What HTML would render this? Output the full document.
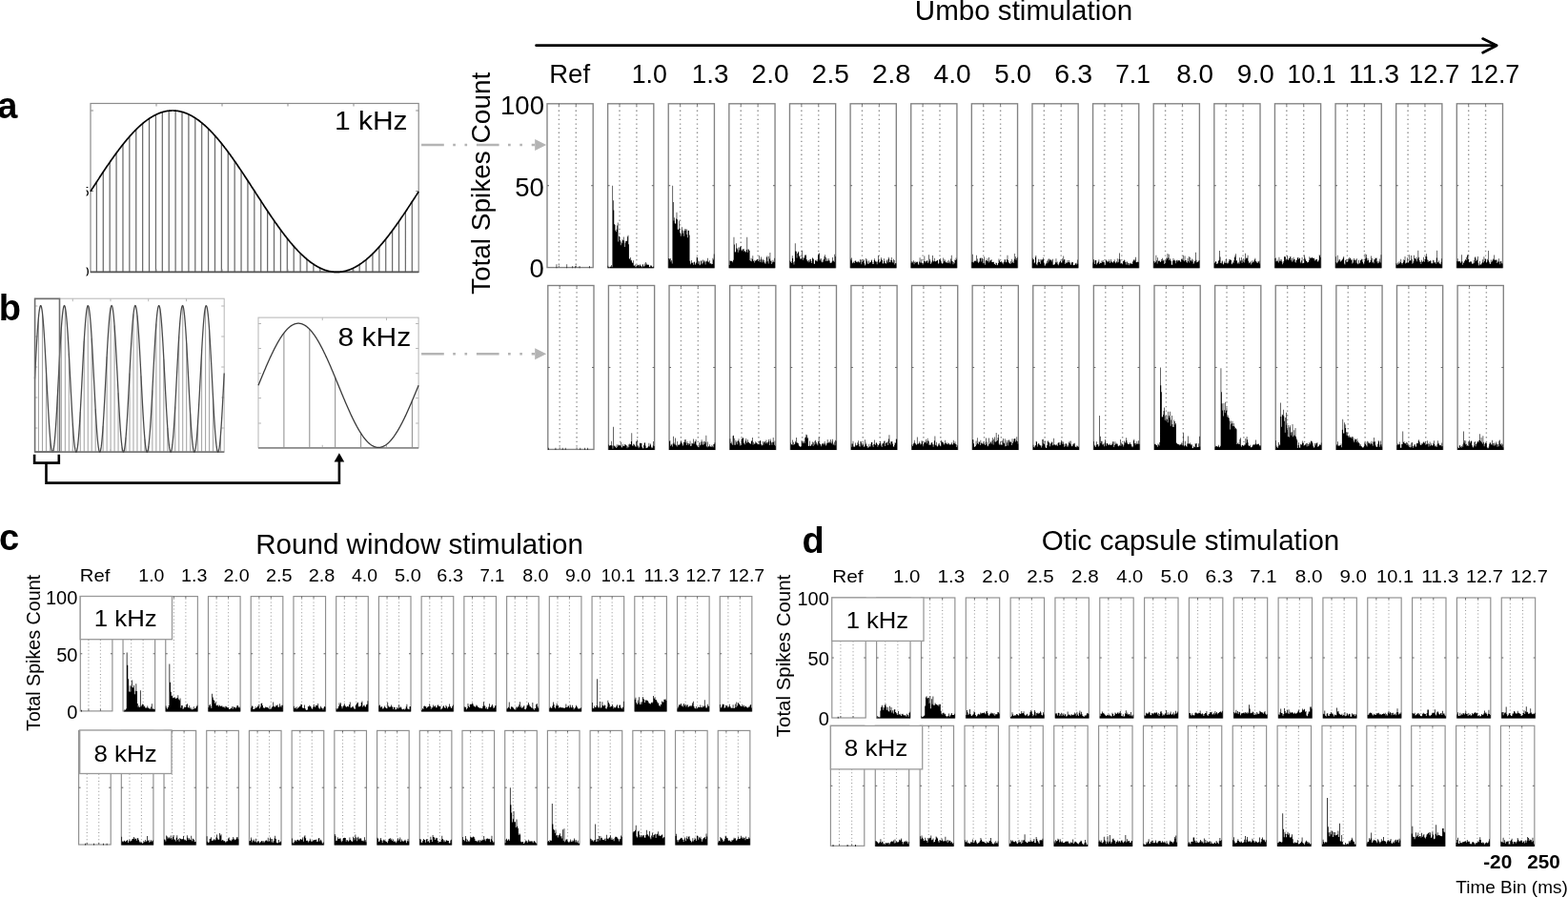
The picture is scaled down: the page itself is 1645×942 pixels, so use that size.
<!DOCTYPE html>
<html><head><meta charset="utf-8"><title>Figure</title>
<style>html,body{margin:0;padding:0;background:#fff;overflow:hidden}svg{display:block}</style>
</head><body>
<svg width="1645" height="942" viewBox="0 0 1645 942"><rect x="0" y="0" width="1645" height="942" fill="#fff"/>
<line x1="586.39" y1="111" x2="586.39" y2="279.6" stroke="#8e8e8e" stroke-width="1.4" stroke-dasharray="1.3 3.3"/>
<line x1="604.27" y1="111" x2="604.27" y2="279.6" stroke="#8e8e8e" stroke-width="1.4" stroke-dasharray="1.3 3.3"/>
<rect x="574" y="108.8" width="48.2" height="171.8" fill="none" stroke="#828282" stroke-width="1.35"/>
<path d="M574 194.7h2 M622.2 194.7h-2 M586.39 108.8v2 M586.39 280.6v-2 M604.27 108.8v2 M604.27 280.6v-2 " stroke="#666" stroke-width="1"/>
<path d="M574 281.2V281.2H574.6V281.2H575.21V281.2H575.81V281.2H576.41V281.2H577.01V281.2H577.62V281.2H578.22V281.2H578.82V281.2H579.42V281.2H580.02V281.2H580.63V281.2H581.23V281.2H581.83V281.2H582.43V281.2H583.04V281.2H583.64V277.16H584.24V281.2H584.85V281.2H585.45V281.2H586.05V281.2H586.65V281.2H587.25V281.2H587.86V281.2H588.46V281.2H589.06V281.2H589.66V281.2H590.27V281.2H590.87V281.2H591.47V281.2H592.08V281.2H592.68V281.2H593.28V281.2H593.88V281.2H594.49V277.16H595.09V281.2H595.69V281.2H596.29V281.2H596.89V281.2H597.5V281.2H598.1V281.2H598.7V281.2H599.3V281.2H599.91V281.2H600.51V278.88H601.11V281.2H601.72V281.2H602.32V281.2H602.92V281.2H603.52V278.88H604.12V281.2H604.73V281.2H605.33V281.2H605.93V281.2H606.53V281.2H607.14V281.2H607.74V278.88H608.34V281.2H608.95V281.2H609.55V281.2H610.15V281.2H610.75V281.2H611.36V281.2H611.96V281.2H612.56V281.2H613.16V281.2H613.76V281.2H614.37V281.2H614.97V281.2H615.57V281.2H616.17V281.2H616.78V281.2H617.38V281.2H617.98V278.88H618.59V281.2H619.19V281.2H619.79V281.2H620.39V281.2H621V281.2H621.6V281.2H622.2V281.2Z" fill="#000"/>
<line x1="587.19" y1="301.7" x2="587.19" y2="470.4" stroke="#8e8e8e" stroke-width="1.4" stroke-dasharray="1.3 3.3"/>
<line x1="605.07" y1="301.7" x2="605.07" y2="470.4" stroke="#8e8e8e" stroke-width="1.4" stroke-dasharray="1.3 3.3"/>
<rect x="574.8" y="299.5" width="48.2" height="171.9" fill="none" stroke="#828282" stroke-width="1.35"/>
<path d="M574.8 385.45h2 M623 385.45h-2 M587.19 299.5v2 M587.19 471.4v-2 M605.07 299.5v2 M605.07 471.4v-2 " stroke="#666" stroke-width="1"/>
<path d="M574.8 472V472H575.4V469.68H576V472H576.61V472H577.21V472H577.81V472H578.41V472H579.02V472H579.62V472H580.22V472H580.82V472H581.43V472H582.03V472H582.63V469.68H583.23V472H583.84V472H584.44V472H585.04V472H585.64V472H586.25V472H586.85V472H587.45V472H588.05V472H588.66V472H589.26V472H589.86V469.68H590.46V472H591.07V472H591.67V472H592.27V472H592.88V469.68H593.48V472H594.08V472H594.68V472H595.28V472H595.89V472H596.49V472H597.09V472H597.69V472H598.3V472H598.9V472H599.5V472H600.1V472H600.71V472H601.31V472H601.91V472H602.51V472H603.12V472H603.72V472H604.32V472H604.92V472H605.53V472H606.13V472H606.73V472H607.33V472H607.94V472H608.54V469.68H609.14V472H609.75V472H610.35V472H610.95V472H611.55V472H612.15V472H612.76V472H613.36V469.68H613.96V472H614.56V472H615.17V472H615.77V472H616.37V469.68H616.97V472H617.58V472H618.18V472H618.78V472H619.38V472H619.99V472H620.59V472H621.19V472H621.79V472H622.4V472H623V472Z" fill="#000"/>
<line x1="650.01" y1="111" x2="650.01" y2="279.6" stroke="#8e8e8e" stroke-width="1.4" stroke-dasharray="1.3 3.3"/>
<line x1="667.89" y1="111" x2="667.89" y2="279.6" stroke="#8e8e8e" stroke-width="1.4" stroke-dasharray="1.3 3.3"/>
<rect x="637.62" y="108.8" width="48.2" height="171.8" fill="none" stroke="#828282" stroke-width="1.35"/>
<path d="M637.62 194.7h2 M685.82 194.7h-2 M650.01 108.8v2 M650.01 280.6v-2 M667.89 108.8v2 M667.89 280.6v-2 " stroke="#666" stroke-width="1"/>
<path d="M637.62 281.2V278.79H638.22V280.14H638.83V281.2H639.43V280.21H640.03V279.83H640.63V279.46H641.24V278.09H641.84V280.25H642.44V194.7H643.04V210.16H643.64V220.47H644.25V234.96H644.85V235.99H645.45V241.77H646.05V243.31H646.66V240.72H647.26V236.41H647.86V233.43H648.47V253.4H649.07V247.5H649.67V248.23H650.27V251.64H650.88V257.19H651.48V253.48H652.08V255.15H652.68V251.13H653.28V252.33H653.89V248.39H654.49V252.48H655.09V259.09H655.7V254.65H656.3V252.91H656.9V252.7H657.5V252.83H658.11V248.19H658.71V246.82H659.31V256.21H659.91V271.25H660.51V271.75H661.12V269.92H661.72V273.53H662.32V272.8H662.92V275.19H663.53V276H664.13V273.22H664.73V278.52H665.34V278.74H665.94V277.62H666.54V280.18H667.14V280.18H667.75V278.41H668.35V278.82H668.95V277.85H669.55V278.03H670.15V279.41H670.76V277.63H671.36V277.61H671.96V279.06H672.57V279.58H673.17V280.38H673.77V278.19H674.37V276.88H674.98V280.04H675.58V279.03H676.18V276.46H676.78V278.39H677.38V274.95H677.99V276.53H678.59V277.87H679.19V277.74H679.79V277.68H680.4V277.85H681V279.88H681.6V280.48H682.21V278.45H682.81V278.35H683.41V279.18H684.01V280.51H684.62V280.04H685.22V279.4H685.82V281.2Z" fill="#000"/>
<line x1="650.81" y1="301.7" x2="650.81" y2="470.4" stroke="#8e8e8e" stroke-width="1.4" stroke-dasharray="1.3 3.3"/>
<line x1="668.69" y1="301.7" x2="668.69" y2="470.4" stroke="#8e8e8e" stroke-width="1.4" stroke-dasharray="1.3 3.3"/>
<rect x="638.42" y="299.5" width="48.2" height="171.9" fill="none" stroke="#828282" stroke-width="1.35"/>
<path d="M638.42 385.45h2 M686.62 385.45h-2 M650.81 299.5v2 M650.81 471.4v-2 M668.69 299.5v2 M668.69 471.4v-2 " stroke="#666" stroke-width="1"/>
<path d="M638.42 472V466.55H639.02V467.43H639.62V467.62H640.23V467.03H640.83V467.16H641.43V462.8H642.03V467.47H642.64V470.7H643.24V447.85H643.84V467.43H644.44V467.86H645.05V469.07H645.65V467.79H646.25V469.93H646.85V466.28H647.46V469.25H648.06V467.62H648.66V466.6H649.26V466.65H649.87V467.79H650.47V467.13H651.07V463.89H651.67V468.82H652.28V469.54H652.88V465.7H653.48V467.75H654.08V467.95H654.69V467.79H655.29V465.99H655.89V466.23H656.5V466.95H657.1V467.57H657.7V470.27H658.3V468.55H658.9V466.37H659.51V469.19H660.11V465.38H660.71V466.51H661.31V466.07H661.92V462.88H662.52V454.21H663.12V467.29H663.72V468.09H664.33V465.72H664.93V465.74H665.53V467.05H666.13V468.33H666.74V468.76H667.34V463.03H667.94V461.24H668.54V468.39H669.15V467.48H669.75V470.32H670.35V468.63H670.95V464.96H671.56V464.4H672.16V464.96H672.76V465.01H673.37V468.64H673.97V470.18H674.57V470.38H675.17V467.06H675.77V465.12H676.38V463.94H676.98V467.52H677.58V470.2H678.18V469.71H678.79V470.03H679.39V468.76H679.99V468.25H680.59V464.64H681.2V468.53H681.8V466.75H682.4V465.55H683V468.8H683.61V470.18H684.21V469.49H684.81V467.45H685.41V462.96H686.02V467.94H686.62V472Z" fill="#000"/>
<line x1="713.63" y1="111" x2="713.63" y2="279.6" stroke="#8e8e8e" stroke-width="1.4" stroke-dasharray="1.3 3.3"/>
<line x1="731.51" y1="111" x2="731.51" y2="279.6" stroke="#8e8e8e" stroke-width="1.4" stroke-dasharray="1.3 3.3"/>
<rect x="701.24" y="108.8" width="48.2" height="171.8" fill="none" stroke="#828282" stroke-width="1.35"/>
<path d="M701.24 194.7h2 M749.44 194.7h-2 M713.63 108.8v2 M713.63 280.6v-2 M731.51 108.8v2 M731.51 280.6v-2 " stroke="#666" stroke-width="1"/>
<path d="M701.24 281.2V271.04H701.84V270.88H702.45V272.18H703.05V270.91H703.65V274.54H704.25V272.89H704.86V276.49H705.46V194.7H706.06V211.88H706.66V231.45H707.26V228.35H707.87V234H708.47V235.11H709.07V229.58H709.67V222.73H710.28V230.19H710.88V240.57H711.48V240.97H712.09V231.8H712.69V239.68H713.29V244.6H713.89V247.63H714.5V245.53H715.1V238.21H715.7V241.53H716.3V244.86H716.9V242.37H717.51V247.76H718.11V240.14H718.71V241.97H719.32V240.3H719.92V245.88H720.52V240.55H721.12V249.33H721.73V241.91H722.33V241.68H722.93V246.58H723.53V273.72H724.13V277.36H724.74V275.67H725.34V272.95H725.94V275.77H726.54V275.46H727.15V277.78H727.75V274.9H728.35V274.52H728.96V277.74H729.56V276.47H730.16V275.53H730.76V269.53H731.37V270.37H731.97V276.81H732.57V273.47H733.17V274.15H733.77V278.31H734.38V277.55H734.98V274.05H735.58V273.05H736.19V277.25H736.79V275.98H737.39V272.49H737.99V273.62H738.6V275.17H739.2V273.5H739.8V277.58H740.4V274.58H741V273.48H741.61V274.2H742.21V270.87H742.81V275.32H743.41V274.47H744.02V273.28H744.62V276.48H745.22V276.22H745.83V276.47H746.43V277.22H747.03V276.95H747.63V270.65H748.24V272.39H748.84V266.62H749.44V281.2Z" fill="#000"/>
<line x1="714.43" y1="301.7" x2="714.43" y2="470.4" stroke="#8e8e8e" stroke-width="1.4" stroke-dasharray="1.3 3.3"/>
<line x1="732.31" y1="301.7" x2="732.31" y2="470.4" stroke="#8e8e8e" stroke-width="1.4" stroke-dasharray="1.3 3.3"/>
<rect x="702.04" y="299.5" width="48.2" height="171.9" fill="none" stroke="#828282" stroke-width="1.35"/>
<path d="M702.04 385.45h2 M750.24 385.45h-2 M714.43 299.5v2 M714.43 471.4v-2 M732.31 299.5v2 M732.31 471.4v-2 " stroke="#666" stroke-width="1"/>
<path d="M702.04 472V462.72H702.64V462.29H703.25V467.68H703.85V465.83H704.45V466.79H705.05V468.38H705.65V465.44H706.26V457.65H706.86V464.56H707.46V466.27H708.06V459.43H708.67V466.38H709.27V467.24H709.87V468.39H710.47V463.12H711.08V466.51H711.68V467.1H712.28V466.39H712.88V466.17H713.49V464.46H714.09V462.28H714.69V464.11H715.29V465.28H715.9V467.73H716.5V466.49H717.1V464.05H717.7V463.78H718.31V461.29H718.91V460.95H719.51V464.56H720.12V467.01H720.72V463H721.32V465.06H721.92V466.86H722.52V465H723.13V465.84H723.73V462.55H724.33V467.91H724.93V467.86H725.54V464.82H726.14V465.19H726.74V465.44H727.34V460.56H727.95V465.43H728.55V463.5H729.15V462.99H729.75V461.11H730.36V466.5H730.96V467.27H731.56V468.13H732.16V468.98H732.77V469.2H733.37V464.59H733.97V467.31H734.57V463.83H735.18V466.41H735.78V461.33H736.38V463.29H736.99V466.63H737.59V466.27H738.19V463.16H738.79V462.73H739.39V465.67H740V463.69H740.6V456.86H741.2V468.23H741.8V469.26H742.41V463.38H743.01V468.58H743.61V467.9H744.21V466.32H744.82V468.75H745.42V468.32H746.02V468.68H746.62V466.64H747.23V468.18H747.83V469.24H748.43V466.11H749.03V465.83H749.64V464.23H750.24V472Z" fill="#000"/>
<line x1="777.25" y1="111" x2="777.25" y2="279.6" stroke="#8e8e8e" stroke-width="1.4" stroke-dasharray="1.3 3.3"/>
<line x1="795.13" y1="111" x2="795.13" y2="279.6" stroke="#8e8e8e" stroke-width="1.4" stroke-dasharray="1.3 3.3"/>
<rect x="764.86" y="108.8" width="48.2" height="171.8" fill="none" stroke="#828282" stroke-width="1.35"/>
<path d="M764.86 194.7h2 M813.06 194.7h-2 M777.25 108.8v2 M777.25 280.6v-2 M795.13 108.8v2 M795.13 280.6v-2 " stroke="#666" stroke-width="1"/>
<path d="M764.86 281.2V277.97H765.46V273.42H766.07V273.91H766.67V273.24H767.27V273.89H767.87V274.06H768.48V275.19H769.08V272.86H769.68V248.65H770.28V256.55H770.88V264.53H771.49V264.19H772.09V255.3H772.69V260.14H773.29V261.61H773.9V264.85H774.5V259.44H775.1V262.5H775.71V259.63H776.31V258.98H776.91V258.09H777.51V262.22H778.12V263.15H778.72V261.21H779.32V261.87H779.92V261.04H780.52V263.78H781.13V262.88H781.73V264.29H782.33V264.45H782.94V261.98H783.54V248.65H784.14V264.73H784.74V261.05H785.35V262.05H785.95V263.02H786.55V272.97H787.15V273.88H787.75V270.86H788.36V274.19H788.96V271.76H789.56V268.23H790.16V273.92H790.77V272.87H791.37V275.39H791.97V273.38H792.58V273.76H793.18V273.08H793.78V272.13H794.38V271.74H794.99V274.04H795.59V273.45H796.19V268.34H796.79V272.62H797.39V275.01H798V269.47H798.6V271.84H799.2V275.26H799.81V273.32H800.41V271.84H801.01V275.09H801.61V273.09H802.22V276.18H802.82V276.77H803.42V274.52H804.02V269.65H804.62V268.45H805.23V274.24H805.83V276.45H806.43V268.97H807.03V271.46H807.64V264.9H808.24V273.69H808.84V273.38H809.45V276.88H810.05V275.29H810.65V272.79H811.25V274.51H811.86V274.94H812.46V270.7H813.06V281.2Z" fill="#000"/>
<line x1="778.05" y1="301.7" x2="778.05" y2="470.4" stroke="#8e8e8e" stroke-width="1.4" stroke-dasharray="1.3 3.3"/>
<line x1="795.93" y1="301.7" x2="795.93" y2="470.4" stroke="#8e8e8e" stroke-width="1.4" stroke-dasharray="1.3 3.3"/>
<rect x="765.66" y="299.5" width="48.2" height="171.9" fill="none" stroke="#828282" stroke-width="1.35"/>
<path d="M765.66 385.45h2 M813.86 385.45h-2 M778.05 299.5v2 M778.05 471.4v-2 M795.93 299.5v2 M795.93 471.4v-2 " stroke="#666" stroke-width="1"/>
<path d="M765.66 472V460.31H766.26V464.96H766.87V463.6H767.47V465.42H768.07V466.78H768.67V457.17H769.27V456.79H769.88V466.79H770.48V459.75H771.08V466.64H771.68V461.93H772.29V463.81H772.89V466.36H773.49V462.69H774.09V462.28H774.7V460.28H775.3V463.53H775.9V467.54H776.5V465.16H777.11V466.99H777.71V460.13H778.31V460.47H778.91V459.21H779.52V459.55H780.12V465.33H780.72V463.74H781.32V466.21H781.93V462.33H782.53V460.01H783.13V464.84H783.74V463.83H784.34V461.13H784.94V463.81H785.54V464.21H786.14V465.12H786.75V465.24H787.35V465.64H787.95V462.84H788.55V462.32H789.16V458.91H789.76V466.59H790.36V463.65H790.96V465.2H791.57V465.98H792.17V463.17H792.77V465.04H793.38V463.89H793.98V465.09H794.58V466.16H795.18V465.95H795.78V463.07H796.39V466.27H796.99V462.19H797.59V462.23H798.19V465.96H798.8V467.5H799.4V466.87H800V463.02H800.61V466.73H801.21V464.47H801.81V463.23H802.41V463.26H803.01V465.29H803.62V461.38H804.22V463.91H804.82V465.6H805.42V464.06H806.03V460.9H806.63V463.12H807.23V466.94H807.83V460.45H808.44V462.56H809.04V464.36H809.64V466.82H810.25V463.75H810.85V459.09H811.45V463.79H812.05V466.74H812.65V462.59H813.26V467.86H813.86V472Z" fill="#000"/>
<line x1="840.87" y1="111" x2="840.87" y2="279.6" stroke="#8e8e8e" stroke-width="1.4" stroke-dasharray="1.3 3.3"/>
<line x1="858.75" y1="111" x2="858.75" y2="279.6" stroke="#8e8e8e" stroke-width="1.4" stroke-dasharray="1.3 3.3"/>
<rect x="828.48" y="108.8" width="48.2" height="171.8" fill="none" stroke="#828282" stroke-width="1.35"/>
<path d="M828.48 194.7h2 M876.68 194.7h-2 M840.87 108.8v2 M840.87 280.6v-2 M858.75 108.8v2 M858.75 280.6v-2 " stroke="#666" stroke-width="1"/>
<path d="M828.48 281.2V273.51H829.08V275.05H829.69V273.99H830.29V275.88H830.89V268.25H831.49V271.09H832.1V275.32H832.7V277.4H833.3V274.22H833.9V255.35H834.5V263.42H835.11V263.64H835.71V270.62H836.31V265.98H836.91V264.77H837.52V263.7H838.12V269.31H838.72V267.9H839.33V271.41H839.93V271.62H840.53V271.53H841.13V262.84H841.74V270.15H842.34V272.68H842.94V269.83H843.54V270.91H844.14V267.39H844.75V268.33H845.35V267.24H845.95V272.02H846.56V273.39H847.16V273.79H847.76V275.34H848.36V272.84H848.97V274.46H849.57V272.12H850.17V271.66H850.77V274.12H851.38V276.02H851.98V270.31H852.58V271.23H853.18V271.69H853.78V276.57H854.39V276.91H854.99V272.64H855.59V273.61H856.2V273.83H856.8V272.27H857.4V274.15H858V267.44H858.61V266.23H859.21V265.46H859.81V273.17H860.41V271.53H861.01V271.15H861.62V274.51H862.22V275.19H862.82V272.79H863.43V274.76H864.03V271.86H864.63V268.91H865.23V267.15H865.84V274.07H866.44V270.09H867.04V273.69H867.64V271.32H868.25V273.69H868.85V273.34H869.45V271.14H870.05V273.52H870.65V275.68H871.26V275.66H871.86V275.81H872.46V274.46H873.07V269.91H873.67V273.74H874.27V273.4H874.87V274.63H875.48V266.84H876.08V269.11H876.68V281.2Z" fill="#000"/>
<line x1="841.67" y1="301.7" x2="841.67" y2="470.4" stroke="#8e8e8e" stroke-width="1.4" stroke-dasharray="1.3 3.3"/>
<line x1="859.55" y1="301.7" x2="859.55" y2="470.4" stroke="#8e8e8e" stroke-width="1.4" stroke-dasharray="1.3 3.3"/>
<rect x="829.28" y="299.5" width="48.2" height="171.9" fill="none" stroke="#828282" stroke-width="1.35"/>
<path d="M829.28 385.45h2 M877.48 385.45h-2 M841.67 299.5v2 M841.67 471.4v-2 M859.55 299.5v2 M859.55 471.4v-2 " stroke="#666" stroke-width="1"/>
<path d="M829.28 472V464.51H829.88V466.45H830.49V465.89H831.09V461.58H831.69V467.01H832.29V463.8H832.89V466.2H833.5V465.73H834.1V462.76H834.7V464.24H835.3V459.01H835.91V464.63H836.51V464.26H837.11V464.95H837.71V466.85H838.32V468.12H838.92V468.18H839.52V468.99H840.12V468.27H840.73V462.09H841.33V463.51H841.93V464.92H842.53V463.38H843.14V463.37H843.74V464.92H844.34V459.17H844.94V458.52H845.55V455.77H846.15V456.29H846.75V460.08H847.36V458.65H847.96V467.97H848.56V467.79H849.16V462.45H849.76V467.47H850.37V468.08H850.97V466.53H851.57V466.05H852.17V463.56H852.78V467.99H853.38V464.37H853.98V466.52H854.58V462.87H855.19V461.64H855.79V465.85H856.39V463.97H857V465.55H857.6V467.26H858.2V462.88H858.8V458.56H859.4V464.69H860.01V465.41H860.61V466.21H861.21V468.31H861.81V466.53H862.42V465.21H863.02V465.51H863.62V464.87H864.23V466.62H864.83V463.02H865.43V465.25H866.03V467.5H866.63V466.41H867.24V464.74H867.84V461.02H868.44V464.65H869.04V463.74H869.65V464.65H870.25V463.18H870.85V464.6H871.45V461.04H872.06V465.25H872.66V463.28H873.26V460.69H873.87V466.86H874.47V465.56H875.07V463.62H875.67V467.29H876.27V461.84H876.88V462.59H877.48V472Z" fill="#000"/>
<line x1="904.49" y1="111" x2="904.49" y2="279.6" stroke="#8e8e8e" stroke-width="1.4" stroke-dasharray="1.3 3.3"/>
<line x1="922.37" y1="111" x2="922.37" y2="279.6" stroke="#8e8e8e" stroke-width="1.4" stroke-dasharray="1.3 3.3"/>
<rect x="892.1" y="108.8" width="48.2" height="171.8" fill="none" stroke="#828282" stroke-width="1.35"/>
<path d="M892.1 194.7h2 M940.3 194.7h-2 M904.49 108.8v2 M904.49 280.6v-2 M922.37 108.8v2 M922.37 280.6v-2 " stroke="#666" stroke-width="1"/>
<path d="M892.1 281.2V271.58H892.7V273.29H893.3V270.49H893.91V275.57H894.51V276.35H895.11V275.32H895.71V273.64H896.32V276.12H896.92V273.68H897.52V273.36H898.12V274.95H898.73V274.16H899.33V275.32H899.93V274.87H900.53V273.81H901.14V275.51H901.74V274.93H902.34V272.06H902.94V272.72H903.55V277.21H904.15V274.74H904.75V271.95H905.35V273.64H905.96V272.53H906.56V276.32H907.16V278.53H907.76V277.57H908.37V270.98H908.97V272.22H909.57V274.17H910.17V276.43H910.78V276.9H911.38V273.5H911.98V275.97H912.58V274.98H913.19V275.1H913.79V273.4H914.39V272.61H914.99V277.02H915.6V275.03H916.2V277.01H916.8V273.06H917.4V271.14H918.01V273.69H918.61V274.65H919.21V274.58H919.81V277.14H920.42V274.53H921.02V267.92H921.62V272.68H922.22V275.55H922.83V274.59H923.43V274.58H924.03V270.13H924.63V272.17H925.24V273.03H925.84V276.46H926.44V276.34H927.04V271.28H927.65V273.98H928.25V276.07H928.85V276.03H929.45V276.76H930.06V273.54H930.66V272.37H931.26V275.42H931.86V269.81H932.47V271.51H933.07V275.08H933.67V275.32H934.27V272.72H934.88V269.96H935.48V273.06H936.08V274.85H936.68V275.63H937.29V271.85H937.89V273.11H938.49V277.38H939.09V276.03H939.7V276.25H940.3V281.2Z" fill="#000"/>
<line x1="905.29" y1="301.7" x2="905.29" y2="470.4" stroke="#8e8e8e" stroke-width="1.4" stroke-dasharray="1.3 3.3"/>
<line x1="923.17" y1="301.7" x2="923.17" y2="470.4" stroke="#8e8e8e" stroke-width="1.4" stroke-dasharray="1.3 3.3"/>
<rect x="892.9" y="299.5" width="48.2" height="171.9" fill="none" stroke="#828282" stroke-width="1.35"/>
<path d="M892.9 385.45h2 M941.1 385.45h-2 M905.29 299.5v2 M905.29 471.4v-2 M923.17 299.5v2 M923.17 471.4v-2 " stroke="#666" stroke-width="1"/>
<path d="M892.9 472V465.54H893.5V468.68H894.1V465.41H894.71V462.83H895.31V468.43H895.91V468.77H896.51V468.59H897.12V464.52H897.72V466.69H898.32V467.38H898.92V467.11H899.53V464.21H900.13V462.25H900.73V465.74H901.33V468.17H901.94V468.54H902.54V463.02H903.14V463.18H903.74V465.33H904.35V467.59H904.95V464.49H905.55V466.49H906.15V469.04H906.76V468H907.36V461.36H907.96V466.19H908.56V464.42H909.17V467.88H909.77V468.14H910.37V469.66H910.97V469.34H911.58V465.65H912.18V468.31H912.78V468.62H913.38V465.84H913.99V464.04H914.59V463.67H915.19V467.24H915.79V469.05H916.4V466.01H917V461.59H917.6V465.95H918.2V466.95H918.81V464.86H919.41V464.2H920.01V465.7H920.61V468.83H921.22V467.07H921.82V466.55H922.42V465.11H923.02V462.88H923.63V464.97H924.23V467.51H924.83V468.9H925.43V465.42H926.04V464.78H926.64V465.52H927.24V462.81H927.84V462.57H928.45V467.88H929.05V464.63H929.65V464.86H930.25V464.06H930.86V462.91H931.46V467.09H932.06V460.43H932.66V456.15H933.27V464.98H933.87V466.43H934.47V463.28H935.07V463.17H935.68V463.04H936.28V465.61H936.88V468.05H937.48V469.03H938.09V466.85H938.69V464.17H939.29V464.83H939.89V460.49H940.5V460.82H941.1V472Z" fill="#000"/>
<line x1="968.11" y1="111" x2="968.11" y2="279.6" stroke="#8e8e8e" stroke-width="1.4" stroke-dasharray="1.3 3.3"/>
<line x1="985.99" y1="111" x2="985.99" y2="279.6" stroke="#8e8e8e" stroke-width="1.4" stroke-dasharray="1.3 3.3"/>
<rect x="955.72" y="108.8" width="48.2" height="171.8" fill="none" stroke="#828282" stroke-width="1.35"/>
<path d="M955.72 194.7h2 M1003.92 194.7h-2 M968.11 108.8v2 M968.11 280.6v-2 M985.99 108.8v2 M985.99 280.6v-2 " stroke="#666" stroke-width="1"/>
<path d="M955.72 281.2V275.78H956.32V274.22H956.93V275.39H957.53V274.57H958.13V273.2H958.73V277.37H959.34V274.79H959.94V274.58H960.54V275.88H961.14V274.66H961.75V275.04H962.35V274.5H962.95V276.79H963.55V278.11H964.15V274.45H964.76V270.31H965.36V275.54H965.96V275.5H966.57V272.09H967.17V276.06H967.77V277.73H968.37V276.18H968.98V274.11H969.58V268.59H970.18V274.22H970.78V275.4H971.38V274.07H971.99V273.54H972.59V273.18H973.19V276.01H973.8V274.61H974.4V267.37H975V271.78H975.6V273.73H976.21V276.9H976.81V275.75H977.41V274.52H978.01V267.98H978.62V273.37H979.22V274.43H979.82V273.94H980.42V270.69H981.02V274.39H981.63V274.02H982.23V273.83H982.83V273.36H983.44V272.66H984.04V276.83H984.64V275.87H985.24V272.01H985.85V273.09H986.45V271.06H987.05V274.21H987.65V276.11H988.25V276.81H988.86V276.22H989.46V270.62H990.06V274.17H990.67V272.07H991.27V273.5H991.87V275.36H992.47V275.29H993.08V275.69H993.68V273.77H994.28V275.7H994.88V272.73H995.49V275.79H996.09V274.44H996.69V276.42H997.29V271.46H997.89V267.75H998.5V273.83H999.1V274.14H999.7V277.28H1000.31V274.9H1000.91V276.24H1001.51V272.48H1002.11V272.98H1002.72V270.39H1003.32V272.19H1003.92V281.2Z" fill="#000"/>
<line x1="968.91" y1="301.7" x2="968.91" y2="470.4" stroke="#8e8e8e" stroke-width="1.4" stroke-dasharray="1.3 3.3"/>
<line x1="986.79" y1="301.7" x2="986.79" y2="470.4" stroke="#8e8e8e" stroke-width="1.4" stroke-dasharray="1.3 3.3"/>
<rect x="956.52" y="299.5" width="48.2" height="171.9" fill="none" stroke="#828282" stroke-width="1.35"/>
<path d="M956.52 385.45h2 M1004.72 385.45h-2 M968.91 299.5v2 M968.91 471.4v-2 M986.79 299.5v2 M986.79 471.4v-2 " stroke="#666" stroke-width="1"/>
<path d="M956.52 472V466.49H957.12V467.99H957.73V466.34H958.33V464.76H958.93V461.75H959.53V464.58H960.13V465.28H960.74V466.29H961.34V466.86H961.94V458.45H962.54V465.64H963.15V465.63H963.75V464.89H964.35V463.21H964.95V464.79H965.56V466.56H966.16V465.87H966.76V461.91H967.37V463.23H967.97V468.29H968.57V465.63H969.17V463.38H969.77V464.87H970.38V464.1H970.98V461H971.58V463.13H972.18V465.2H972.79V459.75H973.39V462.19H973.99V462.7H974.6V466.73H975.2V466.73H975.8V465.19H976.4V466.67H977V464.37H977.61V464.27H978.21V466.24H978.81V468.75H979.41V466.29H980.02V462.25H980.62V457.58H981.22V466.7H981.82V467.38H982.43V463.8H983.03V468.52H983.63V467.84H984.24V465.46H984.84V466.69H985.44V464.73H986.04V468.08H986.64V468.29H987.25V461.82H987.85V463.33H988.45V463.77H989.05V464.12H989.66V465.43H990.26V466.48H990.86V465.04H991.47V461.65H992.07V464.75H992.67V464.62H993.27V466.11H993.88V466.36H994.48V464.52H995.08V464.94H995.68V466.33H996.28V466.54H996.89V466.41H997.49V465.52H998.09V464.28H998.69V466.37H999.3V466.41H999.9V461.86H1000.5V464.79H1001.11V465.18H1001.71V463.37H1002.31V465.85H1002.91V466.35H1003.51V468.89H1004.12V467.2H1004.72V472Z" fill="#000"/>
<line x1="1031.73" y1="111" x2="1031.73" y2="279.6" stroke="#8e8e8e" stroke-width="1.4" stroke-dasharray="1.3 3.3"/>
<line x1="1049.61" y1="111" x2="1049.61" y2="279.6" stroke="#8e8e8e" stroke-width="1.4" stroke-dasharray="1.3 3.3"/>
<rect x="1019.34" y="108.8" width="48.2" height="171.8" fill="none" stroke="#828282" stroke-width="1.35"/>
<path d="M1019.34 194.7h2 M1067.54 194.7h-2 M1031.73 108.8v2 M1031.73 280.6v-2 M1049.61 108.8v2 M1049.61 280.6v-2 " stroke="#666" stroke-width="1"/>
<path d="M1019.34 281.2V274.84H1019.94V266.69H1020.54V275.02H1021.15V275.51H1021.75V273.98H1022.35V273.55H1022.95V273.97H1023.56V273.36H1024.16V267.8H1024.76V274.51H1025.37V271.44H1025.97V275.98H1026.57V274.65H1027.17V274.49H1027.77V270.89H1028.38V270.4H1028.98V274.4H1029.58V270.56H1030.18V270.72H1030.79V273.42H1031.39V276.15H1031.99V269.31H1032.6V276.36H1033.2V277.77H1033.8V273.26H1034.4V273.24H1035V273.45H1035.61V271.25H1036.21V274.06H1036.81V275.6H1037.41V269.9H1038.02V274.52H1038.62V273.16H1039.22V272.67H1039.82V272.29H1040.43V274.88H1041.03V275.06H1041.63V274.68H1042.23V274.68H1042.84V277.07H1043.44V276.84H1044.04V278.05H1044.64V275.43H1045.25V275.91H1045.85V278.29H1046.45V277.85H1047.05V275.94H1047.66V271.41H1048.26V273.36H1048.86V274.43H1049.46V275.06H1050.07V273.93H1050.67V275.18H1051.27V275.55H1051.88V277.15H1052.48V275.39H1053.08V274.69H1053.68V272.29H1054.28V272.24H1054.89V274.78H1055.49V275.29H1056.09V271.95H1056.69V267.71H1057.3V273.08H1057.9V275.35H1058.5V275.73H1059.11V276.35H1059.71V277.1H1060.31V274.37H1060.91V271.72H1061.51V275.94H1062.12V274.92H1062.72V273.62H1063.32V275.96H1063.92V266H1064.53V271.63H1065.13V269.19H1065.73V273H1066.34V270.99H1066.94V269.73H1067.54V281.2Z" fill="#000"/>
<line x1="1032.53" y1="301.7" x2="1032.53" y2="470.4" stroke="#8e8e8e" stroke-width="1.4" stroke-dasharray="1.3 3.3"/>
<line x1="1050.41" y1="301.7" x2="1050.41" y2="470.4" stroke="#8e8e8e" stroke-width="1.4" stroke-dasharray="1.3 3.3"/>
<rect x="1020.14" y="299.5" width="48.2" height="171.9" fill="none" stroke="#828282" stroke-width="1.35"/>
<path d="M1020.14 385.45h2 M1068.34 385.45h-2 M1032.53 299.5v2 M1032.53 471.4v-2 M1050.41 299.5v2 M1050.41 471.4v-2 " stroke="#666" stroke-width="1"/>
<path d="M1020.14 472V461.09H1020.74V461.23H1021.34V465.22H1021.95V468.79H1022.55V468.77H1023.15V467.92H1023.75V462.51H1024.36V466.45H1024.96V459.29H1025.56V464.93H1026.16V465.95H1026.77V463.29H1027.37V463.87H1027.97V466.92H1028.57V461.63H1029.18V464.41H1029.78V465.26H1030.38V465.51H1030.98V463.61H1031.59V465.73H1032.19V465.49H1032.79V464H1033.39V467.11H1034V459.53H1034.6V466.15H1035.2V463.53H1035.8V468.24H1036.41V467.53H1037.01V459.52H1037.61V466H1038.21V465.34H1038.82V462.68H1039.42V463.9H1040.02V465.53H1040.62V462.16H1041.23V459.22H1041.83V466.45H1042.43V460.67H1043.03V458.45H1043.64V463.33H1044.24V463.71H1044.84V453.89H1045.44V463.01H1046.05V461.99H1046.65V459.29H1047.25V455.86H1047.85V465.53H1048.46V466.69H1049.06V463.26H1049.66V466.41H1050.26V466.45H1050.87V466.87H1051.47V462.19H1052.07V460.01H1052.67V464.5H1053.28V465.19H1053.88V460.37H1054.48V468.15H1055.08V468.12H1055.69V461.79H1056.29V464.16H1056.89V467.41H1057.49V461.91H1058.1V461.31H1058.7V464.31H1059.3V462.5H1059.9V463.62H1060.51V463.69H1061.11V466.91H1061.71V460.15H1062.31V465.08H1062.92V463.13H1063.52V460.58H1064.12V459.96H1064.72V460.14H1065.33V463.53H1065.93V462.2H1066.53V458.14H1067.13V462.99H1067.74V465.52H1068.34V472Z" fill="#000"/>
<line x1="1095.35" y1="111" x2="1095.35" y2="279.6" stroke="#8e8e8e" stroke-width="1.4" stroke-dasharray="1.3 3.3"/>
<line x1="1113.23" y1="111" x2="1113.23" y2="279.6" stroke="#8e8e8e" stroke-width="1.4" stroke-dasharray="1.3 3.3"/>
<rect x="1082.96" y="108.8" width="48.2" height="171.8" fill="none" stroke="#828282" stroke-width="1.35"/>
<path d="M1082.96 194.7h2 M1131.16 194.7h-2 M1095.35 108.8v2 M1095.35 280.6v-2 M1113.23 108.8v2 M1113.23 280.6v-2 " stroke="#666" stroke-width="1"/>
<path d="M1082.96 281.2V270.68H1083.56V272.42H1084.16V271.95H1084.77V276.25H1085.37V275.3H1085.97V269.74H1086.58V268.11H1087.18V277.23H1087.78V278.14H1088.38V275.41H1088.99V271.81H1089.59V274.81H1090.19V275.05H1090.79V272.01H1091.39V276.87H1092V272.3H1092.6V273.4H1093.2V272.28H1093.81V272.34H1094.41V270.19H1095.01V275.41H1095.61V278.61H1096.22V278.59H1096.82V277.03H1097.42V275.86H1098.02V273.82H1098.62V276.19H1099.23V272.19H1099.83V274.43H1100.43V271.19H1101.04V272.86H1101.64V271.92H1102.24V272.7H1102.84V274.55H1103.44V272.84H1104.05V271.81H1104.65V277.69H1105.25V277.71H1105.86V277.4H1106.46V276.81H1107.06V275.27H1107.66V271.21H1108.27V275.42H1108.87V274.43H1109.47V277.24H1110.07V278.28H1110.67V276.51H1111.28V274.98H1111.88V273.8H1112.48V273.53H1113.09V275.5H1113.69V275.61H1114.29V271.13H1114.89V273.54H1115.5V268.45H1116.1V272.24H1116.7V272.19H1117.3V277.01H1117.9V275.4H1118.51V275.74H1119.11V275.82H1119.71V272.9H1120.32V275.02H1120.92V275.21H1121.52V273.01H1122.12V275.17H1122.73V276.87H1123.33V278.08H1123.93V275.43H1124.53V274.7H1125.13V275.1H1125.74V277.88H1126.34V278.16H1126.94V277.93H1127.55V277.25H1128.15V276.21H1128.75V275.74H1129.35V277.48H1129.95V272.46H1130.56V276.7H1131.16V281.2Z" fill="#000"/>
<line x1="1096.15" y1="301.7" x2="1096.15" y2="470.4" stroke="#8e8e8e" stroke-width="1.4" stroke-dasharray="1.3 3.3"/>
<line x1="1114.03" y1="301.7" x2="1114.03" y2="470.4" stroke="#8e8e8e" stroke-width="1.4" stroke-dasharray="1.3 3.3"/>
<rect x="1083.76" y="299.5" width="48.2" height="171.9" fill="none" stroke="#828282" stroke-width="1.35"/>
<path d="M1083.76 385.45h2 M1131.96 385.45h-2 M1096.15 299.5v2 M1096.15 471.4v-2 M1114.03 299.5v2 M1114.03 471.4v-2 " stroke="#666" stroke-width="1"/>
<path d="M1083.76 472V466.68H1084.36V468.94H1084.96V469.54H1085.57V467.7H1086.17V466.89H1086.77V462.86H1087.38V463.62H1087.98V468.38H1088.58V466.29H1089.18V464.97H1089.79V465.41H1090.39V466.84H1090.99V467.53H1091.59V467.06H1092.19V469.39H1092.8V467.85H1093.4V461.06H1094V460.86H1094.61V465.14H1095.21V465.81H1095.81V462.43H1096.41V468.66H1097.02V470.07H1097.62V469.66H1098.22V466.98H1098.82V463.31H1099.42V462.34H1100.03V464.25H1100.63V464.56H1101.23V468.24H1101.84V465.46H1102.44V465.27H1103.04V463.54H1103.64V463.69H1104.24V467.26H1104.85V466.56H1105.45V459.79H1106.05V466.21H1106.65V466.78H1107.26V467.21H1107.86V465.89H1108.46V467.21H1109.07V467.78H1109.67V464.73H1110.27V464.24H1110.87V463.92H1111.47V466.63H1112.08V466.73H1112.68V464.26H1113.28V461.74H1113.88V463.55H1114.49V465.64H1115.09V463.48H1115.69V465.78H1116.3V468.69H1116.9V465.5H1117.5V468.16H1118.1V465.11H1118.7V465.88H1119.31V468.46H1119.91V466.74H1120.51V468.45H1121.12V464.33H1121.72V462.63H1122.32V465.21H1122.92V462.52H1123.53V466.42H1124.13V468.36H1124.73V468.05H1125.33V466.15H1125.93V464.88H1126.54V466.28H1127.14V464.63H1127.74V468.43H1128.35V469.04H1128.95V467.5H1129.55V469.31H1130.15V467.73H1130.76V468.13H1131.36V468.96H1131.96V472Z" fill="#000"/>
<line x1="1158.97" y1="111" x2="1158.97" y2="279.6" stroke="#8e8e8e" stroke-width="1.4" stroke-dasharray="1.3 3.3"/>
<line x1="1176.85" y1="111" x2="1176.85" y2="279.6" stroke="#8e8e8e" stroke-width="1.4" stroke-dasharray="1.3 3.3"/>
<rect x="1146.58" y="108.8" width="48.2" height="171.8" fill="none" stroke="#828282" stroke-width="1.35"/>
<path d="M1146.58 194.7h2 M1194.78 194.7h-2 M1158.97 108.8v2 M1158.97 280.6v-2 M1176.85 108.8v2 M1176.85 280.6v-2 " stroke="#666" stroke-width="1"/>
<path d="M1146.58 281.2V275.43H1147.18V272.12H1147.78V273.28H1148.39V277.02H1148.99V273.02H1149.59V273.01H1150.19V277.53H1150.8V276.13H1151.4V275.61H1152V274.6H1152.61V272.37H1153.21V277.09H1153.81V275.48H1154.41V275.92H1155.01V275.96H1155.62V273.51H1156.22V274.85H1156.82V273.12H1157.42V274.94H1158.03V274.71H1158.63V278.25H1159.23V278H1159.84V272.35H1160.44V273.61H1161.04V273.45H1161.64V274.39H1162.24V274.63H1162.85V273.9H1163.45V272.16H1164.05V275.91H1164.65V274.62H1165.26V271.91H1165.86V274.56H1166.46V274.8H1167.06V275.66H1167.67V274.7H1168.27V273.89H1168.87V272.22H1169.47V274.81H1170.08V276.15H1170.68V275.13H1171.28V274.35H1171.88V271.18H1172.49V275.61H1173.09V274.83H1173.69V271.77H1174.29V265.51H1174.9V272.2H1175.5V276.38H1176.1V275.94H1176.7V276.41H1177.31V277.17H1177.91V273.99H1178.51V273.76H1179.12V272.56H1179.72V273.24H1180.32V274.93H1180.92V277.59H1181.52V274.66H1182.13V274.49H1182.73V277.74H1183.33V275.75H1183.93V275.91H1184.54V278.17H1185.14V276.76H1185.74V275.71H1186.35V276.16H1186.95V277.11H1187.55V276.71H1188.15V274.61H1188.75V273.33H1189.36V272.24H1189.96V273.52H1190.56V272.14H1191.16V269.79H1191.77V275.2H1192.37V274.97H1192.97V274.65H1193.57V274.56H1194.18V275.02H1194.78V281.2Z" fill="#000"/>
<line x1="1159.77" y1="301.7" x2="1159.77" y2="470.4" stroke="#8e8e8e" stroke-width="1.4" stroke-dasharray="1.3 3.3"/>
<line x1="1177.65" y1="301.7" x2="1177.65" y2="470.4" stroke="#8e8e8e" stroke-width="1.4" stroke-dasharray="1.3 3.3"/>
<rect x="1147.38" y="299.5" width="48.2" height="171.9" fill="none" stroke="#828282" stroke-width="1.35"/>
<path d="M1147.38 385.45h2 M1195.58 385.45h-2 M1159.77 299.5v2 M1159.77 471.4v-2 M1177.65 299.5v2 M1177.65 471.4v-2 " stroke="#666" stroke-width="1"/>
<path d="M1147.38 472V463.07H1147.98V466.84H1148.58V468.29H1149.19V468.88H1149.79V466.87H1150.39V463.26H1150.99V466.36H1151.6V466.03H1152.2V468.39H1152.8V467.54H1153.4V435.99H1154.01V457.65H1154.61V465.09H1155.21V462.64H1155.81V462.69H1156.42V466.43H1157.02V466.22H1157.62V465.36H1158.22V468.23H1158.83V464.21H1159.43V461.03H1160.03V467.72H1160.63V464.91H1161.24V464.97H1161.84V465.58H1162.44V466.81H1163.04V466.81H1163.65V466.41H1164.25V465.54H1164.85V467.01H1165.45V467.02H1166.06V465.53H1166.66V466.55H1167.26V463.16H1167.86V463.25H1168.47V468.93H1169.07V466.95H1169.67V463.35H1170.27V465.39H1170.88V465.98H1171.48V464.82H1172.08V465.74H1172.68V467.63H1173.29V468.19H1173.89V466.75H1174.49V467.38H1175.09V460.9H1175.7V467.67H1176.3V464.58H1176.9V466.19H1177.5V465.3H1178.11V468.61H1178.71V466.84H1179.31V462.51H1179.91V463.82H1180.52V464.66H1181.12V459.28H1181.72V461.93H1182.32V464.57H1182.93V466.1H1183.53V465.87H1184.13V465.94H1184.73V465.47H1185.34V463.92H1185.94V465.94H1186.54V466.33H1187.14V468.16H1187.75V469.27H1188.35V468.15H1188.95V462.3H1189.55V460.82H1190.16V465.09H1190.76V466.75H1191.36V465.1H1191.96V465.73H1192.57V462.64H1193.17V465.54H1193.77V465.73H1194.38V462.29H1194.98V465.68H1195.58V472Z" fill="#000"/>
<line x1="1222.59" y1="111" x2="1222.59" y2="279.6" stroke="#8e8e8e" stroke-width="1.4" stroke-dasharray="1.3 3.3"/>
<line x1="1240.47" y1="111" x2="1240.47" y2="279.6" stroke="#8e8e8e" stroke-width="1.4" stroke-dasharray="1.3 3.3"/>
<rect x="1210.2" y="108.8" width="48.2" height="171.8" fill="none" stroke="#828282" stroke-width="1.35"/>
<path d="M1210.2 194.7h2 M1258.4 194.7h-2 M1222.59 108.8v2 M1222.59 280.6v-2 M1240.47 108.8v2 M1240.47 280.6v-2 " stroke="#666" stroke-width="1"/>
<path d="M1210.2 281.2V273.8H1210.8V274.34H1211.4V275.81H1212.01V274.84H1212.61V267.77H1213.21V273.3H1213.81V276.39H1214.42V270.28H1215.02V273.68H1215.62V273.79H1216.22V273.49H1216.83V274.49H1217.43V275.06H1218.03V272.01H1218.63V274H1219.24V270.75H1219.84V272.51H1220.44V273.57H1221.04V276.94H1221.65V272.98H1222.25V276.25H1222.85V273.31H1223.45V270.5H1224.06V271.6H1224.66V266.06H1225.26V270.56H1225.86V266.81H1226.47V272.92H1227.07V271.34H1227.67V272.54H1228.27V274.07H1228.88V277.58H1229.48V277.94H1230.08V273.86H1230.68V270.89H1231.29V272.93H1231.89V272.49H1232.49V273.84H1233.09V276.22H1233.7V273.58H1234.3V272.87H1234.9V274.4H1235.5V272.7H1236.11V272.88H1236.71V273.72H1237.31V273.09H1237.91V274.32H1238.52V275.05H1239.12V272.02H1239.72V270.77H1240.32V272.67H1240.93V267.63H1241.53V273.19H1242.13V274.13H1242.73V268.52H1243.34V273.09H1243.94V273.25H1244.54V274.9H1245.14V275.8H1245.75V270.65H1246.35V274.07H1246.95V268.97H1247.55V275.47H1248.16V269.95H1248.76V273.58H1249.36V273.29H1249.96V271.47H1250.57V274.42H1251.17V272.39H1251.77V277.06H1252.37V275.84H1252.98V274.01H1253.58V273.85H1254.18V264.75H1254.78V272.64H1255.39V275.21H1255.99V274.78H1256.59V274.71H1257.19V273.63H1257.8V272.93H1258.4V281.2Z" fill="#000"/>
<line x1="1223.39" y1="301.7" x2="1223.39" y2="470.4" stroke="#8e8e8e" stroke-width="1.4" stroke-dasharray="1.3 3.3"/>
<line x1="1241.27" y1="301.7" x2="1241.27" y2="470.4" stroke="#8e8e8e" stroke-width="1.4" stroke-dasharray="1.3 3.3"/>
<rect x="1211" y="299.5" width="48.2" height="171.9" fill="none" stroke="#828282" stroke-width="1.35"/>
<path d="M1211 385.45h2 M1259.2 385.45h-2 M1223.39 299.5v2 M1223.39 471.4v-2 M1241.27 299.5v2 M1241.27 471.4v-2 " stroke="#666" stroke-width="1"/>
<path d="M1211 472V466H1211.6V465.57H1212.2V466.22H1212.81V467.32H1213.41V466.91H1214.01V468.78H1214.61V465.4H1215.22V466.48H1215.82V467.58H1216.42V463.98H1217.02V385.45H1217.63V404.36H1218.23V411.23H1218.83V437.46H1219.43V437.24H1220.04V434.95H1220.64V431.01H1221.24V427.52H1221.84V440.83H1222.45V436.19H1223.05V441.44H1223.65V436.12H1224.25V439.74H1224.86V443.23H1225.46V431.67H1226.06V435.93H1226.66V438.06H1227.27V431.85H1227.87V446.8H1228.47V440.47H1229.07V435.94H1229.68V444.99H1230.28V447.71H1230.88V447.96H1231.48V440.62H1232.09V442.03H1232.69V445.5H1233.29V444H1233.89V464.45H1234.5V465.3H1235.1V465.63H1235.7V466.02H1236.3V466.34H1236.91V466.24H1237.51V467.15H1238.11V466.21H1238.71V466.16H1239.32V464.53H1239.92V467.18H1240.52V464.43H1241.12V454.21H1241.73V467.29H1242.33V468.3H1242.93V462.68H1243.53V466.97H1244.14V468.11H1244.74V468.87H1245.34V465.47H1245.94V457.4H1246.55V465.32H1247.15V465.49H1247.75V465.79H1248.35V464.47H1248.96V465.97H1249.56V467.18H1250.16V466.31H1250.76V469.92H1251.37V470.18H1251.97V467.95H1252.57V469.06H1253.17V469.3H1253.78V464.98H1254.38V465.69H1254.98V465.07H1255.58V469.17H1256.19V468.96H1256.79V469.08H1257.39V465.29H1257.99V457.75H1258.6V468.57H1259.2V472Z" fill="#000"/>
<line x1="1286.21" y1="111" x2="1286.21" y2="279.6" stroke="#8e8e8e" stroke-width="1.4" stroke-dasharray="1.3 3.3"/>
<line x1="1304.09" y1="111" x2="1304.09" y2="279.6" stroke="#8e8e8e" stroke-width="1.4" stroke-dasharray="1.3 3.3"/>
<rect x="1273.82" y="108.8" width="48.2" height="171.8" fill="none" stroke="#828282" stroke-width="1.35"/>
<path d="M1273.82 194.7h2 M1322.02 194.7h-2 M1286.21 108.8v2 M1286.21 280.6v-2 M1304.09 108.8v2 M1304.09 280.6v-2 " stroke="#666" stroke-width="1"/>
<path d="M1273.82 281.2V276.06H1274.42V275.25H1275.02V274.05H1275.63V274.69H1276.23V277.09H1276.83V276.48H1277.43V276.16H1278.04V273.66H1278.64V272.82H1279.24V262.95H1279.85V269.62H1280.45V275.98H1281.05V276.36H1281.65V274.47H1282.25V273.52H1282.86V276.71H1283.46V277.42H1284.06V275.4H1284.66V273.76H1285.27V275.66H1285.87V276.04H1286.47V271.21H1287.08V276.53H1287.68V275.36H1288.28V276.17H1288.88V274.04H1289.48V271.97H1290.09V272.37H1290.69V272.87H1291.29V272.65H1291.89V277.31H1292.5V276.46H1293.1V274.89H1293.7V276.01H1294.3V273.14H1294.91V270.07H1295.51V268.26H1296.11V266.14H1296.71V273.43H1297.32V273.22H1297.92V276.46H1298.52V275.42H1299.12V275.35H1299.73V276.7H1300.33V270.2H1300.93V274.22H1301.53V272.9H1302.14V269.88H1302.74V276H1303.34V273.21H1303.94V274.38H1304.55V270.77H1305.15V275.57H1305.75V272.48H1306.36V265.71H1306.96V270.57H1307.56V271.36H1308.16V270.42H1308.76V267.85H1309.37V273.78H1309.97V276.28H1310.57V275.28H1311.17V275.52H1311.78V274.27H1312.38V277.41H1312.98V276.13H1313.59V273.35H1314.19V274.67H1314.79V275.35H1315.39V273.56H1315.99V272.2H1316.6V270.7H1317.2V274.01H1317.8V274.53H1318.4V275.57H1319.01V276.02H1319.61V274.25H1320.21V274.45H1320.82V273.61H1321.42V276.39H1322.02V281.2Z" fill="#000"/>
<line x1="1287.01" y1="301.7" x2="1287.01" y2="470.4" stroke="#8e8e8e" stroke-width="1.4" stroke-dasharray="1.3 3.3"/>
<line x1="1304.89" y1="301.7" x2="1304.89" y2="470.4" stroke="#8e8e8e" stroke-width="1.4" stroke-dasharray="1.3 3.3"/>
<rect x="1274.62" y="299.5" width="48.2" height="171.9" fill="none" stroke="#828282" stroke-width="1.35"/>
<path d="M1274.62 385.45h2 M1322.82 385.45h-2 M1287.01 299.5v2 M1287.01 471.4v-2 M1304.89 299.5v2 M1304.89 471.4v-2 " stroke="#666" stroke-width="1"/>
<path d="M1274.62 472V469.06H1275.22V467.74H1275.82V467.94H1276.43V468.21H1277.03V468.73H1277.63V468.28H1278.23V466.87H1278.84V468.72H1279.44V469.28H1280.04V467.76H1280.64V386.31H1281.25V411.23H1281.85V423.27H1282.45V430.54H1283.05V436.54H1283.66V422.99H1284.26V430.24H1284.86V433.26H1285.46V421.72H1286.07V430.78H1286.67V427.6H1287.27V437.19H1287.88V435.7H1288.48V437.9H1289.08V438.48H1289.68V441.55H1290.28V450.4H1290.89V441.47H1291.49V445.26H1292.09V443.89H1292.69V441.68H1293.3V446.99H1293.9V444.11H1294.5V446.93H1295.1V447.84H1295.71V449.82H1296.31V448.95H1296.91V450.13H1297.51V466.05H1298.12V465.36H1298.72V464.36H1299.32V466.1H1299.92V466.03H1300.53V460.72H1301.13V459.32H1301.73V467.45H1302.33V468.81H1302.94V466.69H1303.54V467.08H1304.14V467.9H1304.74V467.73H1305.35V466.42H1305.95V466.55H1306.55V460.05H1307.15V464.84H1307.76V458.01H1308.36V461.34H1308.96V464.23H1309.56V466.97H1310.17V467.98H1310.77V468.14H1311.37V466.82H1311.97V469.36H1312.58V469.29H1313.18V468.65H1313.78V467.51H1314.38V466.54H1314.99V466.23H1315.59V466.61H1316.19V466.46H1316.79V465.53H1317.4V461.39H1318V466.53H1318.6V465.86H1319.2V465.75H1319.81V466.3H1320.41V465.58H1321.01V466.92H1321.61V468.23H1322.22V467.26H1322.82V472Z" fill="#000"/>
<line x1="1349.83" y1="111" x2="1349.83" y2="279.6" stroke="#8e8e8e" stroke-width="1.4" stroke-dasharray="1.3 3.3"/>
<line x1="1367.71" y1="111" x2="1367.71" y2="279.6" stroke="#8e8e8e" stroke-width="1.4" stroke-dasharray="1.3 3.3"/>
<rect x="1337.44" y="108.8" width="48.2" height="171.8" fill="none" stroke="#828282" stroke-width="1.35"/>
<path d="M1337.44 194.7h2 M1385.64 194.7h-2 M1349.83 108.8v2 M1349.83 280.6v-2 M1367.71 108.8v2 M1367.71 280.6v-2 " stroke="#666" stroke-width="1"/>
<path d="M1337.44 281.2V271.11H1338.04V270.51H1338.64V274.28H1339.25V273.7H1339.85V272.45H1340.45V274.31H1341.06V275.49H1341.66V269.7H1342.26V273.64H1342.86V272.15H1343.47V274.02H1344.07V272.34H1344.67V274.54H1345.27V277.2H1345.88V275.72H1346.48V273.88H1347.08V269.29H1347.68V268.95H1348.29V269.61H1348.89V273.24H1349.49V271.85H1350.09V268.02H1350.7V272.07H1351.3V272.88H1351.9V271.01H1352.5V271.06H1353.11V269.54H1353.71V269.08H1354.31V273.14H1354.91V270.97H1355.52V274.86H1356.12V273.53H1356.72V269.8H1357.32V271.78H1357.92V271.92H1358.53V274.78H1359.13V275.51H1359.73V273.03H1360.34V272.44H1360.94V270.53H1361.54V269.88H1362.14V272.09H1362.75V270.22H1363.35V270.92H1363.95V274.84H1364.55V276.35H1365.15V273.3H1365.76V270.02H1366.36V276.21H1366.96V276.08H1367.57V275.77H1368.17V267.61H1368.77V270.6H1369.37V272.34H1369.98V273.95H1370.58V273.69H1371.18V275.56H1371.78V274.67H1372.38V275.09H1372.99V273.1H1373.59V269.2H1374.19V270.5H1374.8V271H1375.4V270.46H1376V269.78H1376.6V270.43H1377.21V270.99H1377.81V270.65H1378.41V270.74H1379.01V273.45H1379.62V272.14H1380.22V272.38H1380.82V272.25H1381.42V271.92H1382.03V274.48H1382.63V274.34H1383.23V272.77H1383.83V267.13H1384.43V268.31H1385.04V270.11H1385.64V281.2Z" fill="#000"/>
<line x1="1350.63" y1="301.7" x2="1350.63" y2="470.4" stroke="#8e8e8e" stroke-width="1.4" stroke-dasharray="1.3 3.3"/>
<line x1="1368.51" y1="301.7" x2="1368.51" y2="470.4" stroke="#8e8e8e" stroke-width="1.4" stroke-dasharray="1.3 3.3"/>
<rect x="1338.24" y="299.5" width="48.2" height="171.9" fill="none" stroke="#828282" stroke-width="1.35"/>
<path d="M1338.24 385.45h2 M1386.44 385.45h-2 M1350.63 299.5v2 M1350.63 471.4v-2 M1368.51 299.5v2 M1368.51 471.4v-2 " stroke="#666" stroke-width="1"/>
<path d="M1338.24 472V461.89H1338.84V467.45H1339.44V469.05H1340.05V470.1H1340.65V468.15H1341.25V464.07H1341.86V466.37H1342.46V467.28H1343.06V422.41H1343.66V437.02H1344.27V447.67H1344.87V434.65H1345.47V435.56H1346.07V429.74H1346.67V436.56H1347.28V441.74H1347.88V453.66H1348.48V438.01H1349.09V432.87H1349.69V445.66H1350.29V450.42H1350.89V457.99H1351.5V446.04H1352.1V458.51H1352.7V448.17H1353.3V446.37H1353.9V453.39H1354.51V456.71H1355.11V453.29H1355.71V444.94H1356.32V458.18H1356.92V456.86H1357.52V451.31H1358.12V456.81H1358.72V448.99H1359.33V457.96H1359.93V460.27H1360.53V461.65H1361.13V469.98H1361.74V467.12H1362.34V464.22H1362.94V469.49H1363.55V469.73H1364.15V465.75H1364.75V466.61H1365.35V466.51H1365.95V462.48H1366.56V464.75H1367.16V464.56H1367.76V467.78H1368.37V466.97H1368.97V465.83H1369.57V466.86H1370.17V465.11H1370.78V468.53H1371.38V464.64H1371.98V465.92H1372.58V467.89H1373.18V464.36H1373.79V466.3H1374.39V464.41H1374.99V462.47H1375.6V462.82H1376.2V463.17H1376.8V464.81H1377.4V467.66H1378.01V469.8H1378.61V469.12H1379.21V465.07H1379.81V467.14H1380.41V465.32H1381.02V465.12H1381.62V464.05H1382.22V468.83H1382.83V468.37H1383.43V467.65H1384.03V466.28H1384.63V466.69H1385.24V466.87H1385.84V464.41H1386.44V472Z" fill="#000"/>
<line x1="1413.45" y1="111" x2="1413.45" y2="279.6" stroke="#8e8e8e" stroke-width="1.4" stroke-dasharray="1.3 3.3"/>
<line x1="1431.33" y1="111" x2="1431.33" y2="279.6" stroke="#8e8e8e" stroke-width="1.4" stroke-dasharray="1.3 3.3"/>
<rect x="1401.06" y="108.8" width="48.2" height="171.8" fill="none" stroke="#828282" stroke-width="1.35"/>
<path d="M1401.06 194.7h2 M1449.26 194.7h-2 M1413.45 108.8v2 M1413.45 280.6v-2 M1431.33 108.8v2 M1431.33 280.6v-2 " stroke="#666" stroke-width="1"/>
<path d="M1401.06 281.2V269.23H1401.66V274.89H1402.26V276.17H1402.87V267.74H1403.47V275.14H1404.07V273.64H1404.67V272.24H1405.28V272.22H1405.88V274.63H1406.48V273.63H1407.09V273.49H1407.69V272.77H1408.29V271.64H1408.89V270.58H1409.49V269.06H1410.1V276.55H1410.7V277.41H1411.3V273.03H1411.9V271.76H1412.51V274.87H1413.11V274.69H1413.71V274.26H1414.32V271.3H1414.92V272.26H1415.52V270.09H1416.12V270.86H1416.72V271.48H1417.33V273.1H1417.93V272.22H1418.53V276.53H1419.13V275.41H1419.74V272.64H1420.34V270.91H1420.94V273.17H1421.54V272.54H1422.15V272.38H1422.75V275.83H1423.35V271.16H1423.95V276.4H1424.56V277.33H1425.16V272.84H1425.76V276.56H1426.37V275.66H1426.97V273.11H1427.57V273.24H1428.17V271.7H1428.77V271.71H1429.38V274.83H1429.98V276.17H1430.58V277.23H1431.18V274.35H1431.79V266.31H1432.39V271.41H1432.99V266.95H1433.6V270.55H1434.2V273.49H1434.8V271.35H1435.4V272.98H1436V275.87H1436.61V274.79H1437.21V275.05H1437.81V272.98H1438.41V268.42H1439.02V271.07H1439.62V275.47H1440.22V274.65H1440.83V276.13H1441.43V272.03H1442.03V272.41H1442.63V270.41H1443.23V270.96H1443.84V270.4H1444.44V274.43H1445.04V276.35H1445.64V273.86H1446.25V275.87H1446.85V274.54H1447.45V271.62H1448.05V275.45H1448.66V267.14H1449.26V281.2Z" fill="#000"/>
<line x1="1414.25" y1="301.7" x2="1414.25" y2="470.4" stroke="#8e8e8e" stroke-width="1.4" stroke-dasharray="1.3 3.3"/>
<line x1="1432.13" y1="301.7" x2="1432.13" y2="470.4" stroke="#8e8e8e" stroke-width="1.4" stroke-dasharray="1.3 3.3"/>
<rect x="1401.86" y="299.5" width="48.2" height="171.9" fill="none" stroke="#828282" stroke-width="1.35"/>
<path d="M1401.86 385.45h2 M1450.06 385.45h-2 M1414.25 299.5v2 M1414.25 471.4v-2 M1432.13 299.5v2 M1432.13 471.4v-2 " stroke="#666" stroke-width="1"/>
<path d="M1401.86 472V467.35H1402.46V466.06H1403.06V463.24H1403.67V467.76H1404.27V467.48H1404.87V467.2H1405.47V467.39H1406.08V467.04H1406.68V465.48H1407.28V469.27H1407.88V450.78H1408.49V439.74H1409.09V454.59H1409.69V454.39H1410.29V443.19H1410.9V445.25H1411.5V449.11H1412.1V453.26H1412.7V456.86H1413.31V453.45H1413.91V457.08H1414.51V458.64H1415.12V456.4H1415.72V458.75H1416.32V458.27H1416.92V459.44H1417.52V458.46H1418.13V458.01H1418.73V459.91H1419.33V458.26H1419.93V462.19H1420.54V463.97H1421.14V460.07H1421.74V461.19H1422.34V460.89H1422.95V463.84H1423.55V459.94H1424.15V462.59H1424.75V464.66H1425.36V463.89H1425.96V465.23H1426.56V467.73H1427.16V466.37H1427.77V467.94H1428.37V468.62H1428.97V469.49H1429.57V469.37H1430.18V469.22H1430.78V468.1H1431.38V464.29H1431.98V465.71H1432.59V463.87H1433.19V467.3H1433.79V468.6H1434.39V462.76H1435V463.43H1435.6V465.28H1436.2V464.83H1436.8V464.38H1437.41V466.14H1438.01V465.34H1438.61V462.79H1439.21V465.63H1439.82V467.83H1440.42V463.14H1441.02V459.09H1441.62V463.74H1442.23V463.07H1442.83V466.78H1443.43V468.59H1444.03V469.06H1444.64V468.6H1445.24V465.82H1445.84V461.98H1446.44V463.22H1447.05V468.78H1447.65V466.62H1448.25V462.53H1448.86V466.2H1449.46V468.41H1450.06V472Z" fill="#000"/>
<line x1="1477.07" y1="111" x2="1477.07" y2="279.6" stroke="#8e8e8e" stroke-width="1.4" stroke-dasharray="1.3 3.3"/>
<line x1="1494.95" y1="111" x2="1494.95" y2="279.6" stroke="#8e8e8e" stroke-width="1.4" stroke-dasharray="1.3 3.3"/>
<rect x="1464.68" y="108.8" width="48.2" height="171.8" fill="none" stroke="#828282" stroke-width="1.35"/>
<path d="M1464.68 194.7h2 M1512.88 194.7h-2 M1477.07 108.8v2 M1477.07 280.6v-2 M1494.95 108.8v2 M1494.95 280.6v-2 " stroke="#666" stroke-width="1"/>
<path d="M1464.68 281.2V276.03H1465.28V277.47H1465.88V277.76H1466.49V275.58H1467.09V276.83H1467.69V274.29H1468.29V276.16H1468.9V274.88H1469.5V271.67H1470.1V276.12H1470.7V277.47H1471.31V276.04H1471.91V274.84H1472.51V272.31H1473.11V272.97H1473.72V268.9H1474.32V276.44H1474.92V276.03H1475.52V275.27H1476.13V270.14H1476.73V275.64H1477.33V275.28H1477.93V267.26H1478.54V274.02H1479.14V273.06H1479.74V273.53H1480.34V267.99H1480.95V271.83H1481.55V276.79H1482.15V275.63H1482.75V273.8H1483.36V267.82H1483.96V270.82H1484.56V271.36H1485.16V272.18H1485.77V269.82H1486.37V274.25H1486.97V271.42H1487.57V262.87H1488.18V269.67H1488.78V273.09H1489.38V274.76H1489.98V274.69H1490.59V276.92H1491.19V272.87H1491.79V274.54H1492.39V274.76H1493V269.74H1493.6V273.92H1494.2V274.64H1494.8V272.01H1495.41V268.95H1496.01V266.25H1496.61V269.24H1497.21V272.55H1497.82V275.01H1498.42V273.34H1499.02V273.96H1499.62V274.22H1500.23V273.35H1500.83V273.39H1501.43V276.37H1502.03V276.25H1502.64V276.23H1503.24V272.73H1503.84V273.13H1504.44V275.38H1505.05V275.4H1505.65V275.05H1506.25V276.66H1506.85V270.38H1507.46V262.7H1508.06V275.35H1508.66V275.35H1509.26V273.43H1509.87V276.71H1510.47V276.14H1511.07V277.17H1511.67V274.67H1512.28V271.21H1512.88V281.2Z" fill="#000"/>
<line x1="1477.87" y1="301.7" x2="1477.87" y2="470.4" stroke="#8e8e8e" stroke-width="1.4" stroke-dasharray="1.3 3.3"/>
<line x1="1495.75" y1="301.7" x2="1495.75" y2="470.4" stroke="#8e8e8e" stroke-width="1.4" stroke-dasharray="1.3 3.3"/>
<rect x="1465.48" y="299.5" width="48.2" height="171.9" fill="none" stroke="#828282" stroke-width="1.35"/>
<path d="M1465.48 385.45h2 M1513.68 385.45h-2 M1477.87 299.5v2 M1477.87 471.4v-2 M1495.75 299.5v2 M1495.75 471.4v-2 " stroke="#666" stroke-width="1"/>
<path d="M1465.48 472V467.12H1466.08V465.53H1466.68V466.39H1467.29V466.3H1467.89V463.48H1468.49V466.28H1469.09V469.81H1469.7V469.72H1470.3V465.71H1470.9V466.11H1471.5V452.49H1472.11V464H1472.71V463.07H1473.31V465.11H1473.91V465.2H1474.52V465.37H1475.12V463.86H1475.72V467.12H1476.32V464.45H1476.93V465.48H1477.53V467.65H1478.13V469.07H1478.73V466.52H1479.34V469.13H1479.94V469.22H1480.54V464.47H1481.14V463.99H1481.75V467.94H1482.35V469.69H1482.95V467.65H1483.55V466.32H1484.16V466.19H1484.76V468.19H1485.36V468.66H1485.96V464.86H1486.57V465.38H1487.17V465.02H1487.77V462.55H1488.37V461.19H1488.98V463.4H1489.58V465.74H1490.18V467.02H1490.78V466.78H1491.39V465.29H1491.99V465.86H1492.59V464.43H1493.19V463.56H1493.8V463.71H1494.4V464.91H1495V463.41H1495.6V466.65H1496.21V465.6H1496.81V465.89H1497.41V462.31H1498.01V465.28H1498.62V468.38H1499.22V465.63H1499.82V463.44H1500.42V467.78H1501.03V465.23H1501.63V467.02H1502.23V467.43H1502.83V467.32H1503.44V464.85H1504.04V462.29H1504.64V465.99H1505.24V468.17H1505.85V467.23H1506.45V468.62H1507.05V468.81H1507.65V465.72H1508.26V462.33H1508.86V464.83H1509.46V465.74H1510.06V467.14H1510.67V466.95H1511.27V466.72H1511.87V468.36H1512.47V464.42H1513.08V467.98H1513.68V472Z" fill="#000"/>
<line x1="1540.69" y1="111" x2="1540.69" y2="279.6" stroke="#8e8e8e" stroke-width="1.4" stroke-dasharray="1.3 3.3"/>
<line x1="1558.57" y1="111" x2="1558.57" y2="279.6" stroke="#8e8e8e" stroke-width="1.4" stroke-dasharray="1.3 3.3"/>
<rect x="1528.3" y="108.8" width="48.2" height="171.8" fill="none" stroke="#828282" stroke-width="1.35"/>
<path d="M1528.3 194.7h2 M1576.5 194.7h-2 M1540.69 108.8v2 M1540.69 280.6v-2 M1558.57 108.8v2 M1558.57 280.6v-2 " stroke="#666" stroke-width="1"/>
<path d="M1528.3 281.2V274.01H1528.9V271.21H1529.5V274.33H1530.11V274.37H1530.71V274.08H1531.31V274.17H1531.91V275.94H1532.52V274.67H1533.12V267.16H1533.72V274.29H1534.33V277.68H1534.93V275.6H1535.53V275.81H1536.13V273.95H1536.73V272.88H1537.34V272H1537.94V269.73H1538.54V273.32H1539.14V267.87H1539.75V266.64H1540.35V271.92H1540.95V274.75H1541.56V275.36H1542.16V274.36H1542.76V274.85H1543.36V274.15H1543.96V276.45H1544.57V276.68H1545.17V276.43H1545.77V273.05H1546.38V275.66H1546.98V270.22H1547.58V269.26H1548.18V273.93H1548.78V271.56H1549.39V273.11H1549.99V268.98H1550.59V275.7H1551.19V278.43H1551.8V277.38H1552.4V273.88H1553V277.77H1553.61V277.24H1554.21V276.23H1554.81V275.24H1555.41V272.22H1556.01V275.39H1556.62V269.37H1557.22V274.07H1557.82V271.22H1558.42V271.87H1559.03V275.6H1559.63V274.74H1560.23V271.85H1560.84V273.36H1561.44V262.94H1562.04V274.8H1562.64V276.42H1563.24V277.08H1563.85V272.54H1564.45V275.32H1565.05V274.17H1565.65V272.71H1566.26V271.4H1566.86V272.45H1567.46V267.49H1568.07V272.61H1568.67V273H1569.27V272.59H1569.87V276.03H1570.47V272.54H1571.08V275.13H1571.68V274.37H1572.28V271.27H1572.88V274.49H1573.49V277.23H1574.09V273.8H1574.69V274.26H1575.3V276.31H1575.9V276.53H1576.5V281.2Z" fill="#000"/>
<line x1="1541.49" y1="301.7" x2="1541.49" y2="470.4" stroke="#8e8e8e" stroke-width="1.4" stroke-dasharray="1.3 3.3"/>
<line x1="1559.37" y1="301.7" x2="1559.37" y2="470.4" stroke="#8e8e8e" stroke-width="1.4" stroke-dasharray="1.3 3.3"/>
<rect x="1529.1" y="299.5" width="48.2" height="171.9" fill="none" stroke="#828282" stroke-width="1.35"/>
<path d="M1529.1 385.45h2 M1577.3 385.45h-2 M1541.49 299.5v2 M1541.49 471.4v-2 M1559.37 299.5v2 M1559.37 471.4v-2 " stroke="#666" stroke-width="1"/>
<path d="M1529.1 472V468.87H1529.7V470.2H1530.3V469.91H1530.91V466.85H1531.51V467.39H1532.11V468.69H1532.71V469.81H1533.32V467.92H1533.92V466.13H1534.52V468.82H1535.12V452.49H1535.73V464.46H1536.33V462.01H1536.93V466.34H1537.53V462.28H1538.14V465.85H1538.74V468.07H1539.34V467.11H1539.94V463.37H1540.55V467.94H1541.15V461.55H1541.75V463.47H1542.36V464.81H1542.96V462.46H1543.56V462.76H1544.16V467.25H1544.76V468.69H1545.37V469.46H1545.97V467.62H1546.57V463.97H1547.17V463.03H1547.78V468.19H1548.38V465.98H1548.98V465.18H1549.58V463.4H1550.19V462.96H1550.79V463.92H1551.39V461.78H1551.99V455.17H1552.6V461.94H1553.2V463.05H1553.8V459.09H1554.4V464.32H1555.01V465.4H1555.61V457.34H1556.21V463.65H1556.81V468.24H1557.42V465.81H1558.02V464.85H1558.62V464.06H1559.22V464.7H1559.83V469.03H1560.43V470.37H1561.03V470.21H1561.63V468.47H1562.24V465.85H1562.84V464.24H1563.44V464.61H1564.04V466.39H1564.65V465.67H1565.25V461.79H1565.85V467.21H1566.45V464.96H1567.06V464.43H1567.66V467.73H1568.26V466.64H1568.87V465.25H1569.47V463.56H1570.07V466.25H1570.67V468.65H1571.27V465.96H1571.88V468.24H1572.48V462.4H1573.08V461.42H1573.68V465.6H1574.29V466.17H1574.89V467.6H1575.49V464.8H1576.09V466.31H1576.7V469.29H1577.3V472Z" fill="#000"/>
<line x1="92.94" y1="627.8" x2="92.94" y2="744.9" stroke="#9a9a9a" stroke-width="1.1" stroke-dasharray="1 2.6"/>
<line x1="105.4" y1="627.8" x2="105.4" y2="744.9" stroke="#9a9a9a" stroke-width="1.1" stroke-dasharray="1 2.6"/>
<rect x="84.3" y="625.6" width="33.6" height="120.3" fill="none" stroke="#8e8e8e" stroke-width="1.15"/>
<path d="M84.3 685.75h2 M117.9 685.75h-2 M92.94 625.6v2 M92.94 745.9v-2 M105.4 625.6v2 M105.4 745.9v-2 " stroke="#666" stroke-width="1"/>
<path d="M84.3 746.5V746.5H85.05V744.7H85.79V746.5H86.54V746.5H87.29V746.5H88.03V746.5H88.78V746.5H89.53V746.5H90.27V746.5H91.02V746.5H91.77V746.5H92.51V746.5H93.26V746.5H94.01V746.5H94.75V746.5H95.5V746.5H96.25V746.5H96.99V746.5H97.74V746.5H98.49V746.5H99.23V746.5H99.98V746.5H100.73V746.5H101.47V746.5H102.22V746.5H102.97V746.5H103.71V746.5H104.46V746.5H105.21V746.5H105.95V746.5H106.7V746.5H107.45V746.5H108.19V746.5H108.94V746.5H109.69V746.5H110.43V746.5H111.18V746.5H111.93V746.5H112.67V746.5H113.42V746.5H114.17V746.5H114.91V746.5H115.66V746.5H116.41V746.5H117.15V746.5H117.9V746.5Z" fill="#000"/>
<line x1="91.24" y1="768.6" x2="91.24" y2="885" stroke="#9a9a9a" stroke-width="1.1" stroke-dasharray="1 2.6"/>
<line x1="103.7" y1="768.6" x2="103.7" y2="885" stroke="#9a9a9a" stroke-width="1.1" stroke-dasharray="1 2.6"/>
<rect x="82.6" y="766.4" width="33.6" height="119.6" fill="none" stroke="#8e8e8e" stroke-width="1.15"/>
<path d="M82.6 826.2h2 M116.2 826.2h-2 M91.24 766.4v2 M91.24 886v-2 M103.7 766.4v2 M103.7 886v-2 " stroke="#666" stroke-width="1"/>
<path d="M82.6 886.6V886.6H83.35V886.6H84.09V886.6H84.84V886.6H85.59V886.6H86.33V886.6H87.08V886.6H87.83V886.6H88.57V886.6H89.32V884.8H90.07V886.6H90.81V886.6H91.56V886.6H92.31V886.6H93.05V886.6H93.8V886.6H94.55V886.6H95.29V886.6H96.04V886.6H96.79V886.6H97.53V886.6H98.28V884.8H99.03V886.6H99.77V886.6H100.52V886.6H101.27V886.6H102.01V886.6H102.76V886.6H103.51V886.6H104.25V886.6H105V886.6H105.75V886.6H106.49V886.6H107.24V886.6H107.99V884.8H108.73V886.6H109.48V886.6H110.23V886.6H110.97V886.6H111.72V884.8H112.47V886.6H113.21V886.6H113.96V886.6H114.71V886.6H115.45V886.6H116.2V886.6Z" fill="#000"/>
<line x1="137.67" y1="627.8" x2="137.67" y2="744.9" stroke="#9a9a9a" stroke-width="1.1" stroke-dasharray="1 2.6"/>
<line x1="150.13" y1="627.8" x2="150.13" y2="744.9" stroke="#9a9a9a" stroke-width="1.1" stroke-dasharray="1 2.6"/>
<rect x="129.03" y="625.6" width="33.6" height="120.3" fill="none" stroke="#8e8e8e" stroke-width="1.15"/>
<path d="M129.03 685.75h2 M162.63 685.75h-2 M137.67 625.6v2 M137.67 745.9v-2 M150.13 625.6v2 M150.13 745.9v-2 " stroke="#666" stroke-width="1"/>
<path d="M129.03 746.5V746.5H129.78V745.69H130.52V744.26H131.27V744.67H132.02V743.39H132.76V684.55H133.51V697.78H134.26V712.22H135V725.56H135.75V719.2H136.5V725.69H137.24V719.4H137.99V713.53H138.74V721H139.48V721.51H140.23V718.89H140.98V728.15H141.72V724.87H142.47V717.29H143.22V725.01H143.96V738.02H144.71V741.72H145.46V740.32H146.2V742.02H146.95V724.25H147.7V741.14H148.44V739.86H149.19V738.48H149.94V739.11H150.68V741.25H151.43V740.62H152.18V742.62H152.92V742.44H153.67V742.53H154.42V740.44H155.16V742.5H155.91V743.21H156.66V743.25H157.4V743.71H158.15V741.48H158.9V738.13H159.64V744.12H160.39V742.71H161.14V743.93H161.88V743.79H162.63V746.5Z" fill="#000"/>
<line x1="135.95" y1="768.6" x2="135.95" y2="885" stroke="#9a9a9a" stroke-width="1.1" stroke-dasharray="1 2.6"/>
<line x1="148.41" y1="768.6" x2="148.41" y2="885" stroke="#9a9a9a" stroke-width="1.1" stroke-dasharray="1 2.6"/>
<rect x="127.31" y="766.4" width="33.6" height="119.6" fill="none" stroke="#8e8e8e" stroke-width="1.15"/>
<path d="M127.31 826.2h2 M160.91 826.2h-2 M135.95 766.4v2 M135.95 886v-2 M148.41 766.4v2 M148.41 886v-2 " stroke="#666" stroke-width="1"/>
<path d="M127.31 886.6V877.79H128.06V882.42H128.8V883.3H129.55V882.21H130.3V881.76H131.04V883.12H131.79V882.31H132.54V881.99H133.28V881.04H134.03V883.9H134.78V882.35H135.52V880.39H136.27V882.5H137.02V882.33H137.76V881.6H138.51V880.01H139.26V879.65H140V878.04H140.75V880.4H141.5V879.26H142.24V879.98H142.99V881.63H143.74V879.31H144.48V879.17H145.23V881.34H145.98V882.67H146.72V884.3H147.47V882.64H148.22V883.67H148.96V884.84H149.71V884.27H150.46V882.07H151.2V883.32H151.95V881.01H152.7V883.03H153.44V882.15H154.19V876.97H154.94V882.1H155.68V880.88H156.43V883.87H157.18V882.7H157.92V880.93H158.67V882.6H159.42V882.42H160.16V881.41H160.91V886.6Z" fill="#000"/>
<line x1="182.4" y1="627.8" x2="182.4" y2="744.9" stroke="#9a9a9a" stroke-width="1.1" stroke-dasharray="1 2.6"/>
<line x1="194.86" y1="627.8" x2="194.86" y2="744.9" stroke="#9a9a9a" stroke-width="1.1" stroke-dasharray="1 2.6"/>
<rect x="173.76" y="625.6" width="33.6" height="120.3" fill="none" stroke="#8e8e8e" stroke-width="1.15"/>
<path d="M173.76 685.75h2 M207.36 685.75h-2 M182.4 625.6v2 M182.4 745.9v-2 M194.86 625.6v2 M194.86 745.9v-2 " stroke="#666" stroke-width="1"/>
<path d="M173.76 746.5V740.44H174.51V742.57H175.25V743.71H176V741.95H176.75V739.99H177.49V696.58H178.24V715.82H178.99V725.85H179.73V730.31H180.48V729.57H181.23V732.32H181.97V732.11H182.72V731.02H183.47V732.41H184.21V732.78H184.96V732.57H185.71V732.12H186.45V729.16H187.2V733.62H187.95V734.43H188.69V732.41H189.44V742.44H190.19V739.93H190.93V739.92H191.68V743.93H192.43V742.82H193.17V741.55H193.92V742.04H194.67V741.47H195.41V738.98H196.16V738.28H196.91V741.89H197.65V742.65H198.4V740.37H199.15V742.61H199.89V744.02H200.64V742.39H201.39V744.58H202.13V744H202.88V741.37H203.63V743.68H204.37V743.07H205.12V742.51H205.87V740.96H206.61V739.75H207.36V746.5Z" fill="#000"/>
<line x1="180.66" y1="768.6" x2="180.66" y2="885" stroke="#9a9a9a" stroke-width="1.1" stroke-dasharray="1 2.6"/>
<line x1="193.12" y1="768.6" x2="193.12" y2="885" stroke="#9a9a9a" stroke-width="1.1" stroke-dasharray="1 2.6"/>
<rect x="172.02" y="766.4" width="33.6" height="119.6" fill="none" stroke="#8e8e8e" stroke-width="1.15"/>
<path d="M172.02 826.2h2 M205.62 826.2h-2 M180.66 766.4v2 M180.66 886v-2 M193.12 766.4v2 M193.12 886v-2 " stroke="#666" stroke-width="1"/>
<path d="M172.02 886.6V880.59H172.77V880.68H173.51V882.42H174.26V876.56H175.01V877.4H175.75V879.74H176.5V878.52H177.25V878.45H177.99V879.81H178.74V876.43H179.49V878.89H180.23V880.82H180.98V877.79H181.73V876.04H182.47V880.42H183.22V880.7H183.97V882.48H184.71V878.71H185.46V876.26H186.21V881.23H186.95V879.97H187.7V882.78H188.45V879.05H189.19V880.09H189.94V880.16H190.69V880.55H191.43V880.03H192.18V876.88H192.93V880.83H193.67V881.54H194.42V880.71H195.17V881.88H195.91V876.32H196.66V878.68H197.41V880.87H198.15V879.13H198.9V880.82H199.65V880.9H200.39V876.7H201.14V882.23H201.89V879.66H202.63V880.28H203.38V880.93H204.13V882.88H204.87V883.04H205.62V886.6Z" fill="#000"/>
<line x1="227.13" y1="627.8" x2="227.13" y2="744.9" stroke="#9a9a9a" stroke-width="1.1" stroke-dasharray="1 2.6"/>
<line x1="239.59" y1="627.8" x2="239.59" y2="744.9" stroke="#9a9a9a" stroke-width="1.1" stroke-dasharray="1 2.6"/>
<rect x="218.49" y="625.6" width="33.6" height="120.3" fill="none" stroke="#8e8e8e" stroke-width="1.15"/>
<path d="M218.49 685.75h2 M252.09 685.75h-2 M227.13 625.6v2 M227.13 745.9v-2 M239.59 625.6v2 M239.59 745.9v-2 " stroke="#666" stroke-width="1"/>
<path d="M218.49 746.5V741.99H219.24V739.68H219.98V738.79H220.73V740.72H221.48V742.97H222.22V727.86H222.97V731.46H223.72V733.94H224.46V734.88H225.21V737.77H225.96V736.54H226.7V740.07H227.45V740.35H228.2V739.53H228.94V741.26H229.69V739.46H230.44V740.27H231.18V740.9H231.93V740.58H232.68V740.49H233.42V741.83H234.17V741.52H234.92V741.43H235.66V742.78H236.41V740.85H237.16V741.21H237.9V742.18H238.65V742.21H239.4V742.24H240.14V744.1H240.89V744.03H241.64V742.77H242.38V742.9H243.13V741.31H243.88V743.63H244.62V741.1H245.37V741.94H246.12V742.02H246.86V743.15H247.61V742.07H248.36V740.19H249.1V740.11H249.85V742.25H250.6V741.29H251.34V742.57H252.09V746.5Z" fill="#000"/>
<line x1="225.37" y1="768.6" x2="225.37" y2="885" stroke="#9a9a9a" stroke-width="1.1" stroke-dasharray="1 2.6"/>
<line x1="237.83" y1="768.6" x2="237.83" y2="885" stroke="#9a9a9a" stroke-width="1.1" stroke-dasharray="1 2.6"/>
<rect x="216.73" y="766.4" width="33.6" height="119.6" fill="none" stroke="#8e8e8e" stroke-width="1.15"/>
<path d="M216.73 826.2h2 M250.33 826.2h-2 M225.37 766.4v2 M225.37 886v-2 M237.83 766.4v2 M237.83 886v-2 " stroke="#666" stroke-width="1"/>
<path d="M216.73 886.6V877.23H217.48V882.67H218.22V884.1H218.97V883.41H219.72V880.09H220.46V879.73H221.21V878.28H221.96V881.99H222.7V881.46H223.45V881.38H224.2V880.21H224.94V881.27H225.69V881.15H226.44V878.56H227.18V875.47H227.93V879.55H228.68V881.08H229.42V880.38H230.17V874.08H230.92V876.44H231.66V875.29H232.41V881.87H233.16V881.03H233.9V881.6H234.65V882.46H235.4V881.94H236.14V883.61H236.89V883.28H237.64V882H238.38V882.6H239.13V879.58H239.88V878.55H240.62V881.22H241.37V881.49H242.12V882.29H242.86V880.57H243.61V880.81H244.36V877.88H245.1V879.7H245.85V881.15H246.6V880.84H247.34V880.27H248.09V878.31H248.84V878.13H249.58V880.29H250.33V886.6Z" fill="#000"/>
<line x1="271.86" y1="627.8" x2="271.86" y2="744.9" stroke="#9a9a9a" stroke-width="1.1" stroke-dasharray="1 2.6"/>
<line x1="284.32" y1="627.8" x2="284.32" y2="744.9" stroke="#9a9a9a" stroke-width="1.1" stroke-dasharray="1 2.6"/>
<rect x="263.22" y="625.6" width="33.6" height="120.3" fill="none" stroke="#8e8e8e" stroke-width="1.15"/>
<path d="M263.22 685.75h2 M296.82 685.75h-2 M271.86 625.6v2 M271.86 745.9v-2 M284.32 625.6v2 M284.32 745.9v-2 " stroke="#666" stroke-width="1"/>
<path d="M263.22 746.5V742.56H263.97V740.47H264.71V740.68H265.46V744.06H266.21V743.98H266.95V743.28H267.7V741.16H268.45V743.08H269.19V742.12H269.94V740.5H270.69V740.97H271.43V738.76H272.18V743.24H272.93V741.48H273.67V738.01H274.42V737.42H275.17V740.04H275.91V742.57H276.66V742.33H277.41V743.07H278.15V741.48H278.9V741.71H279.65V742.16H280.39V742.05H281.14V742.74H281.89V743.69H282.63V740.59H283.38V743.91H284.13V743.8H284.87V741.63H285.62V741.22H286.37V736.47H287.11V740.68H287.86V741.96H288.61V740.99H289.35V739.86H290.1V740.16H290.85V739.21H291.59V741.84H292.34V741.8H293.09V738.3H293.83V740.39H294.58V741.68H295.33V739.76H296.07V739.68H296.82V746.5Z" fill="#000"/>
<line x1="270.08" y1="768.6" x2="270.08" y2="885" stroke="#9a9a9a" stroke-width="1.1" stroke-dasharray="1 2.6"/>
<line x1="282.54" y1="768.6" x2="282.54" y2="885" stroke="#9a9a9a" stroke-width="1.1" stroke-dasharray="1 2.6"/>
<rect x="261.44" y="766.4" width="33.6" height="119.6" fill="none" stroke="#8e8e8e" stroke-width="1.15"/>
<path d="M261.44 826.2h2 M295.04 826.2h-2 M270.08 766.4v2 M270.08 886v-2 M282.54 766.4v2 M282.54 886v-2 " stroke="#666" stroke-width="1"/>
<path d="M261.44 886.6V882.15H262.19V881.93H262.93V878.41H263.68V880.83H264.43V883.48H265.17V881.77H265.92V880.48H266.67V882.14H267.41V883.35H268.16V879.74H268.91V883.73H269.65V883.34H270.4V881.91H271.15V882.61H271.89V884.48H272.64V883.41H273.39V882.95H274.13V881.89H274.88V882.22H275.63V883.85H276.37V882.18H277.12V883.47H277.87V882.15H278.61V881.47H279.36V881.46H280.11V882.47H280.85V878.83H281.6V882.75H282.35V882.13H283.09V878.51H283.84V880.04H284.59V883.6H285.33V880.09H286.08V883.85H286.83V882.36H287.57V879.4H288.32V876.86H289.07V880H289.81V883.69H290.56V884.59H291.31V884.22H292.05V881.04H292.8V883.64H293.55V883.31H294.29V882.39H295.04V886.6Z" fill="#000"/>
<line x1="316.59" y1="627.8" x2="316.59" y2="744.9" stroke="#9a9a9a" stroke-width="1.1" stroke-dasharray="1 2.6"/>
<line x1="329.05" y1="627.8" x2="329.05" y2="744.9" stroke="#9a9a9a" stroke-width="1.1" stroke-dasharray="1 2.6"/>
<rect x="307.95" y="625.6" width="33.6" height="120.3" fill="none" stroke="#8e8e8e" stroke-width="1.15"/>
<path d="M307.95 685.75h2 M341.55 685.75h-2 M316.59 625.6v2 M316.59 745.9v-2 M329.05 625.6v2 M329.05 745.9v-2 " stroke="#666" stroke-width="1"/>
<path d="M307.95 746.5V740.65H308.7V742.64H309.44V743.18H310.19V741.65H310.94V743.82H311.68V741.39H312.43V743.05H313.18V741.95H313.92V740.66H314.67V740.68H315.42V738.69H316.16V739.03H316.91V742.47H317.66V742.57H318.4V742.92H319.15V739.51H319.9V743.33H320.64V744.61H321.39V745.07H322.14V744.48H322.88V740.93H323.63V741.48H324.38V739.76H325.12V740.8H325.87V741.41H326.62V742.97H327.36V744.11H328.11V741.83H328.86V738.69H329.6V741.07H330.35V741.95H331.1V740.12H331.84V740.04H332.59V740.24H333.34V737.93H334.08V742.57H334.83V743.84H335.58V742.59H336.32V740.83H337.07V742.5H337.82V743.03H338.56V744.41H339.31V742.58H340.06V741H340.8V741.61H341.55V746.5Z" fill="#000"/>
<line x1="314.79" y1="768.6" x2="314.79" y2="885" stroke="#9a9a9a" stroke-width="1.1" stroke-dasharray="1 2.6"/>
<line x1="327.25" y1="768.6" x2="327.25" y2="885" stroke="#9a9a9a" stroke-width="1.1" stroke-dasharray="1 2.6"/>
<rect x="306.15" y="766.4" width="33.6" height="119.6" fill="none" stroke="#8e8e8e" stroke-width="1.15"/>
<path d="M306.15 826.2h2 M339.75 826.2h-2 M314.79 766.4v2 M314.79 886v-2 M327.25 766.4v2 M327.25 886v-2 " stroke="#666" stroke-width="1"/>
<path d="M306.15 886.6V879.38H306.9V883.68H307.64V884.77H308.39V882.95H309.14V881.34H309.88V881.74H310.63V882.7H311.38V881.08H312.12V880.68H312.87V881.44H313.62V882.33H314.36V881.05H315.11V879.99H315.86V880.89H316.6V880.47H317.35V878.53H318.1V882.81H318.84V877.42H319.59V876.36H320.34V879.18H321.08V882.09H321.83V881.53H322.58V882.28H323.32V883.43H324.07V882.34H324.82V879.83H325.56V881.6H326.31V882.69H327.06V882.67H327.8V881.19H328.55V882.11H329.3V881.02H330.04V880.94H330.79V880.95H331.54V880.55H332.28V883H333.03V882.78H333.78V879.41H334.52V878.95H335.27V882.55H336.02V880.69H336.76V881.7H337.51V883.6H338.26V884.66H339V883.44H339.75V886.6Z" fill="#000"/>
<line x1="361.32" y1="627.8" x2="361.32" y2="744.9" stroke="#9a9a9a" stroke-width="1.1" stroke-dasharray="1 2.6"/>
<line x1="373.78" y1="627.8" x2="373.78" y2="744.9" stroke="#9a9a9a" stroke-width="1.1" stroke-dasharray="1 2.6"/>
<rect x="352.68" y="625.6" width="33.6" height="120.3" fill="none" stroke="#8e8e8e" stroke-width="1.15"/>
<path d="M352.68 685.75h2 M386.28 685.75h-2 M361.32 625.6v2 M361.32 745.9v-2 M373.78 625.6v2 M373.78 745.9v-2 " stroke="#666" stroke-width="1"/>
<path d="M352.68 746.5V743.05H353.43V744.22H354.17V742.95H354.92V741.07H355.67V737.26H356.41V739.16H357.16V737.27H357.91V740.95H358.65V743.21H359.4V741.15H360.15V740.2H360.89V738.06H361.64V739.93H362.39V741.31H363.13V741.78H363.88V740.97H364.63V740.63H365.37V741.61H366.12V739.02H366.87V736.56H367.61V742.59H368.36V742.32H369.11V741.51H369.85V740.66H370.6V742.15H371.35V743.41H372.09V743.86H372.84V740.11H373.59V738.41H374.33V737.54H375.08V736.7H375.83V741.59H376.57V740.69H377.32V741.33H378.07V740.59H378.81V736.98H379.56V735.49H380.31V741.54H381.05V740.26H381.8V739.58H382.55V741.36H383.29V741.51H384.04V739.25H384.79V738.68H385.53V735.32H386.28V746.5Z" fill="#000"/>
<line x1="359.5" y1="768.6" x2="359.5" y2="885" stroke="#9a9a9a" stroke-width="1.1" stroke-dasharray="1 2.6"/>
<line x1="371.96" y1="768.6" x2="371.96" y2="885" stroke="#9a9a9a" stroke-width="1.1" stroke-dasharray="1 2.6"/>
<rect x="350.86" y="766.4" width="33.6" height="119.6" fill="none" stroke="#8e8e8e" stroke-width="1.15"/>
<path d="M350.86 826.2h2 M384.46 826.2h-2 M359.5 766.4v2 M359.5 886v-2 M371.96 766.4v2 M371.96 886v-2 " stroke="#666" stroke-width="1"/>
<path d="M350.86 886.6V875.01H351.61V876.83H352.35V881.97H353.1V881.79H353.85V878.35H354.59V879.84H355.34V880.11H356.09V879.6H356.83V879.43H357.58V881.74H358.33V883.16H359.07V881.85H359.82V879.09H360.57V879.31H361.31V878.68H362.06V879.12H362.81V882.78H363.55V881.02H364.3V881.44H365.05V882.73H365.79V881.86H366.54V878.62H367.29V880.95H368.03V881.99H368.78V882.98H369.53V882.62H370.27V877.82H371.02V879.03H371.77V881.2H372.51V875.44H373.26V878.4H374.01V882.32H374.75V878.72H375.5V877.86H376.25V880.51H376.99V879.51H377.74V879.46H378.49V879.56H379.23V881.64H379.98V882.23H380.73V881.5H381.47V882.55H382.22V878.21H382.97V881.2H383.71V883.36H384.46V886.6Z" fill="#000"/>
<line x1="406.05" y1="627.8" x2="406.05" y2="744.9" stroke="#9a9a9a" stroke-width="1.1" stroke-dasharray="1 2.6"/>
<line x1="418.51" y1="627.8" x2="418.51" y2="744.9" stroke="#9a9a9a" stroke-width="1.1" stroke-dasharray="1 2.6"/>
<rect x="397.41" y="625.6" width="33.6" height="120.3" fill="none" stroke="#8e8e8e" stroke-width="1.15"/>
<path d="M397.41 685.75h2 M431.01 685.75h-2 M406.05 625.6v2 M406.05 745.9v-2 M418.51 625.6v2 M418.51 745.9v-2 " stroke="#666" stroke-width="1"/>
<path d="M397.41 746.5V740.22H398.16V739.61H398.9V742.33H399.65V741.08H400.4V741.61H401.14V743.43H401.89V743.24H402.64V741.66H403.38V740.46H404.13V742.35H404.88V742.96H405.62V743.34H406.37V736.86H407.12V740.46H407.86V741.93H408.61V741.1H409.36V741.86H410.1V739.52H410.85V741.3H411.6V741.75H412.34V744.07H413.09V741.77H413.84V742.06H414.58V744.49H415.33V744.02H416.08V742.07H416.82V743.42H417.57V742.38H418.32V739.17H419.06V742.39H419.81V741.33H420.56V742.31H421.3V743.78H422.05V744.31H422.8V744.04H423.54V743.15H424.29V744.52H425.04V743.53H425.78V741.17H426.53V738.74H427.28V743.39H428.02V743.67H428.77V744.2H429.52V741.23H430.26V740.97H431.01V746.5Z" fill="#000"/>
<line x1="404.21" y1="768.6" x2="404.21" y2="885" stroke="#9a9a9a" stroke-width="1.1" stroke-dasharray="1 2.6"/>
<line x1="416.67" y1="768.6" x2="416.67" y2="885" stroke="#9a9a9a" stroke-width="1.1" stroke-dasharray="1 2.6"/>
<rect x="395.57" y="766.4" width="33.6" height="119.6" fill="none" stroke="#8e8e8e" stroke-width="1.15"/>
<path d="M395.57 826.2h2 M429.17 826.2h-2 M404.21 766.4v2 M404.21 886v-2 M416.67 766.4v2 M416.67 886v-2 " stroke="#666" stroke-width="1"/>
<path d="M395.57 886.6V878.75H396.32V879.63H397.06V882.91H397.81V882.62H398.56V880.83H399.3V879.04H400.05V881.43H400.8V883.95H401.54V881.76H402.29V880.84H403.04V881.6H403.78V881.76H404.53V882.84H405.28V883.1H406.02V884.29H406.77V882.33H407.52V880.16H408.26V879.69H409.01V879.23H409.76V880.88H410.5V879.85H411.25V882H412V880.54H412.74V882.9H413.49V882.33H414.24V882.73H414.98V884.22H415.73V882.82H416.48V881.57H417.22V879.31H417.97V881.84H418.72V880.29H419.46V878.51H420.21V882.89H420.96V880.43H421.7V882.06H422.45V882.65H423.2V882.53H423.94V881.8H424.69V880.74H425.44V882.31H426.18V884.23H426.93V882.14H427.68V880.02H428.42V882.41H429.17V886.6Z" fill="#000"/>
<line x1="450.78" y1="627.8" x2="450.78" y2="744.9" stroke="#9a9a9a" stroke-width="1.1" stroke-dasharray="1 2.6"/>
<line x1="463.24" y1="627.8" x2="463.24" y2="744.9" stroke="#9a9a9a" stroke-width="1.1" stroke-dasharray="1 2.6"/>
<rect x="442.14" y="625.6" width="33.6" height="120.3" fill="none" stroke="#8e8e8e" stroke-width="1.15"/>
<path d="M442.14 685.75h2 M475.74 685.75h-2 M450.78 625.6v2 M450.78 745.9v-2 M463.24 625.6v2 M463.24 745.9v-2 " stroke="#666" stroke-width="1"/>
<path d="M442.14 746.5V744.79H442.89V742.89H443.63V744.07H444.38V740.65H445.13V740.42H445.87V740.89H446.62V741.39H447.37V743.08H448.11V741.87H448.86V741.26H449.61V741.07H450.35V738.21H451.1V740.81H451.85V743.78H452.59V741.75H453.34V742.41H454.09V739.52H454.83V741.38H455.58V740.83H456.33V740.15H457.07V742.36H457.82V742.16H458.57V740.31H459.31V739.27H460.06V740.79H460.81V741.1H461.55V740.75H462.3V744.3H463.05V744.1H463.79V742.71H464.54V741.1H465.29V740.35H466.03V742.18H466.78V743.02H467.53V739.75H468.27V741.16H469.02V743.18H469.77V741.58H470.51V741.59H471.26V738.4H472.01V741.06H472.75V742.39H473.5V743.04H474.25V740.83H474.99V739.6H475.74V746.5Z" fill="#000"/>
<line x1="448.92" y1="768.6" x2="448.92" y2="885" stroke="#9a9a9a" stroke-width="1.1" stroke-dasharray="1 2.6"/>
<line x1="461.38" y1="768.6" x2="461.38" y2="885" stroke="#9a9a9a" stroke-width="1.1" stroke-dasharray="1 2.6"/>
<rect x="440.28" y="766.4" width="33.6" height="119.6" fill="none" stroke="#8e8e8e" stroke-width="1.15"/>
<path d="M440.28 826.2h2 M473.88 826.2h-2 M448.92 766.4v2 M448.92 886v-2 M461.38 766.4v2 M461.38 886v-2 " stroke="#666" stroke-width="1"/>
<path d="M440.28 886.6V879.91H441.03V880.46H441.77V883.83H442.52V883.69H443.27V881.79H444.01V879.88H444.76V881.17H445.51V881.12H446.25V883.72H447V880.43H447.75V879.98H448.49V882.85H449.24V882.33H449.99V883.98H450.73V881.24H451.48V877.67H452.23V880.65H452.97V882.97H453.72V876.08H454.47V877.93H455.21V878.44H455.96V881.1H456.71V878.87H457.45V879.76H458.2V878.99H458.95V882.08H459.69V884.24H460.44V882.82H461.19V882.98H461.93V883.12H462.68V880.74H463.43V876.7H464.17V880.12H464.92V881.32H465.67V883.17H466.41V881.39H467.16V882.99H467.91V881.35H468.65V881.67H469.4V882.1H470.15V881.9H470.89V884.59H471.64V884.53H472.39V881.53H473.13V880.63H473.88V886.6Z" fill="#000"/>
<line x1="495.51" y1="627.8" x2="495.51" y2="744.9" stroke="#9a9a9a" stroke-width="1.1" stroke-dasharray="1 2.6"/>
<line x1="507.97" y1="627.8" x2="507.97" y2="744.9" stroke="#9a9a9a" stroke-width="1.1" stroke-dasharray="1 2.6"/>
<rect x="486.87" y="625.6" width="33.6" height="120.3" fill="none" stroke="#8e8e8e" stroke-width="1.15"/>
<path d="M486.87 685.75h2 M520.47 685.75h-2 M495.51 625.6v2 M495.51 745.9v-2 M507.97 625.6v2 M507.97 745.9v-2 " stroke="#666" stroke-width="1"/>
<path d="M486.87 746.5V741.3H487.62V742.2H488.36V741.77H489.11V744.15H489.86V743.01H490.6V737.9H491.35V740.75H492.1V742.03H492.84V738.65H493.59V738.73H494.34V738.83H495.08V737.55H495.83V738.58H496.58V740.6H497.32V740.84H498.07V741.67H498.82V740.76H499.56V739.41H500.31V740.45H501.06V741.42H501.8V742.18H502.55V742.21H503.3V743.07H504.04V742.4H504.79V743.21H505.54V742.88H506.28V741.05H507.03V736.16H507.78V740.29H508.52V740.85H509.27V743.33H510.02V741.66H510.76V743.93H511.51V743.49H512.26V741.51H513V738.21H513.75V741.73H514.5V741.98H515.24V740.55H515.99V739.12H516.74V740.73H517.48V742.99H518.23V742.25H518.98V740.41H519.72V740.09H520.47V746.5Z" fill="#000"/>
<line x1="493.63" y1="768.6" x2="493.63" y2="885" stroke="#9a9a9a" stroke-width="1.1" stroke-dasharray="1 2.6"/>
<line x1="506.09" y1="768.6" x2="506.09" y2="885" stroke="#9a9a9a" stroke-width="1.1" stroke-dasharray="1 2.6"/>
<rect x="484.99" y="766.4" width="33.6" height="119.6" fill="none" stroke="#8e8e8e" stroke-width="1.15"/>
<path d="M484.99 826.2h2 M518.59 826.2h-2 M493.63 766.4v2 M493.63 886v-2 M506.09 766.4v2 M506.09 886v-2 " stroke="#666" stroke-width="1"/>
<path d="M484.99 886.6V878.06H485.74V880.95H486.48V881.04H487.23V882.31H487.98V876.97H488.72V879.82H489.47V882.97H490.22V880.72H490.96V882.21H491.71V883.11H492.46V881.62H493.2V877.63H493.95V878.21H494.7V878.68H495.44V878.23H496.19V877.56H496.94V877.92H497.68V879.69H498.43V882.05H499.18V882.13H499.92V882.36H500.67V883.22H501.42V881.57H502.16V881.43H502.91V883.53H503.66V881.04H504.4V881.98H505.15V881.7H505.9V880.94H506.64V881.35H507.39V876.89H508.14V880.56H508.88V882.19H509.63V880.36H510.38V879.78H511.12V879.59H511.87V880.17H512.62V879.81H513.36V880.21H514.11V883.3H514.86V880.33H515.6V876.67H516.35V881.83H517.1V883.62H517.84V883.23H518.59V886.6Z" fill="#000"/>
<line x1="540.24" y1="627.8" x2="540.24" y2="744.9" stroke="#9a9a9a" stroke-width="1.1" stroke-dasharray="1 2.6"/>
<line x1="552.7" y1="627.8" x2="552.7" y2="744.9" stroke="#9a9a9a" stroke-width="1.1" stroke-dasharray="1 2.6"/>
<rect x="531.6" y="625.6" width="33.6" height="120.3" fill="none" stroke="#8e8e8e" stroke-width="1.15"/>
<path d="M531.6 685.75h2 M565.2 685.75h-2 M540.24 625.6v2 M540.24 745.9v-2 M552.7 625.6v2 M552.7 745.9v-2 " stroke="#666" stroke-width="1"/>
<path d="M531.6 746.5V743.53H532.35V742.82H533.09V741.85H533.84V736.39H534.59V742.66H535.33V744.08H536.08V741.17H536.83V741.52H537.57V741.75H538.32V742.78H539.07V744.04H539.81V744.78H540.56V744.43H541.31V741.56H542.05V742.38H542.8V741.23H543.55V741.62H544.29V739.23H545.04V736.19H545.79V742.13H546.53V740.56H547.28V742.73H548.03V742.16H548.77V741.22H549.52V740.05H550.27V744.1H551.01V744.22H551.76V742.86H552.51V740.49H553.25V739.41H554V737.08H554.75V739.09H555.49V740.83H556.24V741.13H556.99V742.31H557.73V742.66H558.48V736.98H559.23V743.45H559.97V744.63H560.72V743.08H561.47V743.29H562.21V738.74H562.96V738.14H563.71V741.13H564.45V742.76H565.2V746.5Z" fill="#000"/>
<line x1="538.34" y1="768.6" x2="538.34" y2="885" stroke="#9a9a9a" stroke-width="1.1" stroke-dasharray="1 2.6"/>
<line x1="550.8" y1="768.6" x2="550.8" y2="885" stroke="#9a9a9a" stroke-width="1.1" stroke-dasharray="1 2.6"/>
<rect x="529.7" y="766.4" width="33.6" height="119.6" fill="none" stroke="#8e8e8e" stroke-width="1.15"/>
<path d="M529.7 826.2h2 M563.3 826.2h-2 M538.34 766.4v2 M538.34 886v-2 M550.8 766.4v2 M550.8 886v-2 " stroke="#666" stroke-width="1"/>
<path d="M529.7 886.6V884.29H530.45V880.66H531.19V879.84H531.94V881.92H532.69V881.02H533.43V880.03H534.18V881.85H534.93V826.2H535.67V844.14H536.42V852.54H537.17V862.43H537.91V859.13H538.66V850.99H539.41V862.23H540.15V862.29H540.9V867.9H541.65V859.4H542.39V866.76H543.14V868.77H543.89V875.69H544.63V874.33H545.38V875.59H546.13V882.67H546.87V883.4H547.62V882.99H548.37V882.92H549.11V884.95H549.86V884.62H550.61V882.65H551.35V881.56H552.1V882.3H552.85V884.08H553.59V882.38H554.34V880.85H555.09V882.6H555.83V882.76H556.58V882.15H557.33V882.53H558.07V882.48H558.82V884.25H559.57V882.64H560.31V882.03H561.06V883.17H561.81V884.07H562.55V885.14H563.3V886.6Z" fill="#000"/>
<line x1="584.97" y1="627.8" x2="584.97" y2="744.9" stroke="#9a9a9a" stroke-width="1.1" stroke-dasharray="1 2.6"/>
<line x1="597.43" y1="627.8" x2="597.43" y2="744.9" stroke="#9a9a9a" stroke-width="1.1" stroke-dasharray="1 2.6"/>
<rect x="576.33" y="625.6" width="33.6" height="120.3" fill="none" stroke="#8e8e8e" stroke-width="1.15"/>
<path d="M576.33 685.75h2 M609.93 685.75h-2 M584.97 625.6v2 M584.97 745.9v-2 M597.43 625.6v2 M597.43 745.9v-2 " stroke="#666" stroke-width="1"/>
<path d="M576.33 746.5V742.73H577.08V741.51H577.82V742.68H578.57V742.79H579.32V740.44H580.06V736.44H580.81V738.96H581.56V741.99H582.3V743.36H583.05V740.15H583.8V737.63H584.54V740.57H585.29V740.01H586.04V742.72H586.78V741.68H587.53V741.76H588.28V742.47H589.02V742.24H589.77V741.92H590.52V742.99H591.26V742.6H592.01V742.92H592.76V742H593.5V738.45H594.25V742.1H595V741.8H595.74V740.15H596.49V740.66H597.24V742.52H597.98V739.5H598.73V741.63H599.48V742.6H600.22V739.69H600.97V742.03H601.72V744.25H602.46V742.98H603.21V742.37H603.96V739.84H604.7V741.06H605.45V742.13H606.2V743.59H606.94V743.5H607.69V743.29H608.44V743.29H609.18V742.32H609.93V746.5Z" fill="#000"/>
<line x1="583.05" y1="768.6" x2="583.05" y2="885" stroke="#9a9a9a" stroke-width="1.1" stroke-dasharray="1 2.6"/>
<line x1="595.51" y1="768.6" x2="595.51" y2="885" stroke="#9a9a9a" stroke-width="1.1" stroke-dasharray="1 2.6"/>
<rect x="574.41" y="766.4" width="33.6" height="119.6" fill="none" stroke="#8e8e8e" stroke-width="1.15"/>
<path d="M574.41 826.2h2 M608.01 826.2h-2 M583.05 766.4v2 M583.05 886v-2 M595.51 766.4v2 M595.51 886v-2 " stroke="#666" stroke-width="1"/>
<path d="M574.41 886.6V882.77H575.16V882.03H575.9V883.2H576.65V881H577.4V882.02H578.14V881.71H578.89V842.94H579.64V864.47H580.38V869.85H581.13V870.63H581.88V874H582.62V870.72H583.37V876.56H584.12V875.89H584.86V878.52H585.61V876.21H586.36V875.82H587.1V874.29H587.85V877.49H588.6V876.81H589.34V879.49H590.09V870.21H590.84V881.9H591.58V869.26H592.33V883.14H593.08V881.55H593.82V879.93H594.57V881.09H595.32V882.5H596.06V883.43H596.81V883.42H597.56V882.56H598.3V880.55H599.05V882.99H599.8V881.51H600.54V883.09H601.29V881.66H602.04V879.51H602.78V881.23H603.53V883.56H604.28V881.31H605.02V883.45H605.77V881.65H606.52V884.47H607.26V884.66H608.01V886.6Z" fill="#000"/>
<line x1="629.7" y1="627.8" x2="629.7" y2="744.9" stroke="#9a9a9a" stroke-width="1.1" stroke-dasharray="1 2.6"/>
<line x1="642.16" y1="627.8" x2="642.16" y2="744.9" stroke="#9a9a9a" stroke-width="1.1" stroke-dasharray="1 2.6"/>
<rect x="621.06" y="625.6" width="33.6" height="120.3" fill="none" stroke="#8e8e8e" stroke-width="1.15"/>
<path d="M621.06 685.75h2 M654.66 685.75h-2 M629.7 625.6v2 M629.7 745.9v-2 M642.16 625.6v2 M642.16 745.9v-2 " stroke="#666" stroke-width="1"/>
<path d="M621.06 746.5V737.04H621.81V742.65H622.55V743.21H623.3V740.58H624.05V742.04H624.79V741.98H625.54V740.09H626.29V712.22H627.03V741.61H627.78V742.87H628.53V741.5H629.27V736.07H630.02V742.7H630.77V741.67H631.51V736.33H632.26V739.98H633.01V740.64H633.75V739.3H634.5V740.03H635.25V743.36H635.99V743.39H636.74V741.52H637.49V734.65H638.23V736.98H638.98V738.48H639.73V741.94H640.47V740.68H641.22V741.07H641.97V739H642.71V740.89H643.46V743.18H644.21V741.68H644.95V742.44H645.7V741.74H646.45V740.6H647.19V739.2H647.94V742.62H648.69V743.1H649.43V739.81H650.18V739.59H650.93V742.49H651.67V742.56H652.42V743.55H653.17V741.74H653.91V735.63H654.66V746.5Z" fill="#000"/>
<line x1="627.76" y1="768.6" x2="627.76" y2="885" stroke="#9a9a9a" stroke-width="1.1" stroke-dasharray="1 2.6"/>
<line x1="640.22" y1="768.6" x2="640.22" y2="885" stroke="#9a9a9a" stroke-width="1.1" stroke-dasharray="1 2.6"/>
<rect x="619.12" y="766.4" width="33.6" height="119.6" fill="none" stroke="#8e8e8e" stroke-width="1.15"/>
<path d="M619.12 826.2h2 M652.72 826.2h-2 M627.76 766.4v2 M627.76 886v-2 M640.22 766.4v2 M640.22 886v-2 " stroke="#666" stroke-width="1"/>
<path d="M619.12 886.6V879.87H619.87V880.14H620.61V881.75H621.36V881.26H622.11V882.65H622.85V881.65H623.6V881.11H624.35V864.47H625.09V882.88H625.84V880.03H626.59V882.68H627.33V879.96H628.08V876.97H628.83V881.39H629.57V877.02H630.32V879.14H631.07V878.72H631.81V880.67H632.56V881.12H633.31V881.29H634.05V879.63H634.8V881.99H635.55V879.57H636.29V875.72H637.04V879.71H637.79V880.26H638.53V878.9H639.28V878.17H640.03V876.19H640.77V880.72H641.52V878.64H642.27V880.66H643.01V880.22H643.76V882.33H644.51V879.23H645.25V877.68H646V877.77H646.75V877.91H647.49V879.34H648.24V880.21H648.99V882.48H649.73V880.13H650.48V880.31H651.23V876.4H651.97V877.69H652.72V886.6Z" fill="#000"/>
<line x1="674.43" y1="627.8" x2="674.43" y2="744.9" stroke="#9a9a9a" stroke-width="1.1" stroke-dasharray="1 2.6"/>
<line x1="686.89" y1="627.8" x2="686.89" y2="744.9" stroke="#9a9a9a" stroke-width="1.1" stroke-dasharray="1 2.6"/>
<rect x="665.79" y="625.6" width="33.6" height="120.3" fill="none" stroke="#8e8e8e" stroke-width="1.15"/>
<path d="M665.79 685.75h2 M699.39 685.75h-2 M674.43 625.6v2 M674.43 745.9v-2 M686.89 625.6v2 M686.89 745.9v-2 " stroke="#666" stroke-width="1"/>
<path d="M665.79 746.5V733.69H666.54V731.65H667.28V737.28H668.03V738.87H668.78V734.49H669.52V737.41H670.27V731.25H671.02V739.1H671.76V736.45H672.51V738.63H673.26V736.18H674V730.97H674.75V733.05H675.5V734H676.24V737.04H676.99V734.53H677.74V734.55H678.48V734.8H679.23V735.03H679.98V736.4H680.72V738H681.47V737.87H682.22V738.55H682.96V736.68H683.71V737.47H684.46V736.44H685.2V729.89H685.95V732.78H686.7V731.21H687.44V734.07H688.19V734.37H688.94V735.78H689.68V737.47H690.43V737.49H691.18V739.98H691.92V740.9H692.67V739.02H693.42V739.25H694.16V735.57H694.91V736.48H695.66V736.61H696.4V733.75H697.15V733.76H697.9V733.47H698.64V735.04H699.39V746.5Z" fill="#000"/>
<line x1="672.47" y1="768.6" x2="672.47" y2="885" stroke="#9a9a9a" stroke-width="1.1" stroke-dasharray="1 2.6"/>
<line x1="684.93" y1="768.6" x2="684.93" y2="885" stroke="#9a9a9a" stroke-width="1.1" stroke-dasharray="1 2.6"/>
<rect x="663.83" y="766.4" width="33.6" height="119.6" fill="none" stroke="#8e8e8e" stroke-width="1.15"/>
<path d="M663.83 826.2h2 M697.43 826.2h-2 M672.47 766.4v2 M672.47 886v-2 M684.93 766.4v2 M684.93 886v-2 " stroke="#666" stroke-width="1"/>
<path d="M663.83 886.6V873.28H664.58V871.94H665.32V872.14H666.07V870.85H666.82V865.75H667.56V877.31H668.31V878.43H669.06V872.22H669.8V871.45H670.55V875.69H671.3V878.22H672.04V876.6H672.79V878.17H673.54V876.06H674.28V876.82H675.03V875.93H675.78V878.47H676.52V878.77H677.27V876.04H678.02V870.64H678.76V875.32H679.51V875.66H680.26V877.25H681V871.89H681.75V878.46H682.5V880.25H683.24V876.49H683.99V873.63H684.74V878.35H685.48V875.92H686.23V875.41H686.98V874.63H687.72V878.93H688.47V875.32H689.22V874.64H689.96V872.31H690.71V876.8H691.46V875.42H692.2V876.97H692.95V876.65H693.7V876.06H694.44V875.32H695.19V879.29H695.94V878.18H696.68V878.16H697.43V886.6Z" fill="#000"/>
<line x1="719.16" y1="627.8" x2="719.16" y2="744.9" stroke="#9a9a9a" stroke-width="1.1" stroke-dasharray="1 2.6"/>
<line x1="731.62" y1="627.8" x2="731.62" y2="744.9" stroke="#9a9a9a" stroke-width="1.1" stroke-dasharray="1 2.6"/>
<rect x="710.52" y="625.6" width="33.6" height="120.3" fill="none" stroke="#8e8e8e" stroke-width="1.15"/>
<path d="M710.52 685.75h2 M744.12 685.75h-2 M719.16 625.6v2 M719.16 745.9v-2 M731.62 625.6v2 M731.62 745.9v-2 " stroke="#666" stroke-width="1"/>
<path d="M710.52 746.5V743.33H711.27V741.51H712.01V739.48H712.76V738.83H713.51V739.66H714.25V737.91H715V740.66H715.75V739.55H716.49V741.38H717.24V737.92H717.99V740.08H718.73V738.51H719.48V741.56H720.23V739.75H720.97V739.34H721.72V742.12H722.47V740.96H723.21V740.53H723.96V740.14H724.71V741.3H725.45V740.11H726.2V737.51H726.95V735.86H727.69V740.93H728.44V742.76H729.19V743.36H729.93V740.94H730.68V743.43H731.43V742.58H732.17V741.61H732.92V741.97H733.67V741.98H734.41V739.47H735.16V742.1H735.91V742.14H736.65V740.34H737.4V741.83H738.15V740.63H738.89V734.18H739.64V740.42H740.39V742.61H741.13V742.62H741.88V738.67H742.63V740.71H743.37V740.86H744.12V746.5Z" fill="#000"/>
<line x1="717.18" y1="768.6" x2="717.18" y2="885" stroke="#9a9a9a" stroke-width="1.1" stroke-dasharray="1 2.6"/>
<line x1="729.64" y1="768.6" x2="729.64" y2="885" stroke="#9a9a9a" stroke-width="1.1" stroke-dasharray="1 2.6"/>
<rect x="708.54" y="766.4" width="33.6" height="119.6" fill="none" stroke="#8e8e8e" stroke-width="1.15"/>
<path d="M708.54 826.2h2 M742.14 826.2h-2 M717.18 766.4v2 M717.18 886v-2 M729.64 766.4v2 M729.64 886v-2 " stroke="#666" stroke-width="1"/>
<path d="M708.54 886.6V877.11H709.29V874.69H710.03V881.31H710.78V883.25H711.53V881.31H712.27V881.27H713.02V879.93H713.77V879.27H714.51V878.86H715.26V879.42H716.01V881.1H716.75V882.92H717.5V880.78H718.25V878.56H718.99V882.25H719.74V879.23H720.49V877.34H721.23V880.26H721.98V877.84H722.73V877.16H723.47V880.58H724.22V881.88H724.97V883.43H725.71V882.51H726.46V879.31H727.21V882.47H727.95V881.06H728.7V878.82H729.45V880.19H730.19V881.96H730.94V876.57H731.69V876.89H732.43V880.63H733.18V878.22H733.93V879.25H734.67V877.71H735.42V880.34H736.17V882.75H736.91V880.42H737.66V879.15H738.41V879.06H739.15V878.02H739.9V880.18H740.65V874.56H741.39V877.51H742.14V886.6Z" fill="#000"/>
<line x1="763.89" y1="627.8" x2="763.89" y2="744.9" stroke="#9a9a9a" stroke-width="1.1" stroke-dasharray="1 2.6"/>
<line x1="776.35" y1="627.8" x2="776.35" y2="744.9" stroke="#9a9a9a" stroke-width="1.1" stroke-dasharray="1 2.6"/>
<rect x="755.25" y="625.6" width="33.6" height="120.3" fill="none" stroke="#8e8e8e" stroke-width="1.15"/>
<path d="M755.25 685.75h2 M788.85 685.75h-2 M763.89 625.6v2 M763.89 745.9v-2 M776.35 625.6v2 M776.35 745.9v-2 " stroke="#666" stroke-width="1"/>
<path d="M755.25 746.5V739.02H756V742.44H756.74V741.42H757.49V739.27H758.24V738.58H758.98V738.88H759.73V742.94H760.48V742.04H761.22V739.76H761.97V740.33H762.72V740.63H763.46V742.31H764.21V741.16H764.96V738.75H765.7V741.11H766.45V742.45H767.2V742.73H767.94V742.85H768.69V739.37H769.44V743.04H770.18V742.68H770.93V738.62H771.68V742.08H772.42V736.44H773.17V740.48H773.92V736.94H774.66V738.25H775.41V738.85H776.16V739.89H776.9V741.04H777.65V740.94H778.4V738.96H779.14V740.65H779.89V739.72H780.64V742H781.38V740.7H782.13V740.84H782.88V741.86H783.62V742.25H784.37V742.45H785.12V741.47H785.86V741.4H786.61V739.83H787.36V738.91H788.1V742.54H788.85V746.5Z" fill="#000"/>
<line x1="761.89" y1="768.6" x2="761.89" y2="885" stroke="#9a9a9a" stroke-width="1.1" stroke-dasharray="1 2.6"/>
<line x1="774.35" y1="768.6" x2="774.35" y2="885" stroke="#9a9a9a" stroke-width="1.1" stroke-dasharray="1 2.6"/>
<rect x="753.25" y="766.4" width="33.6" height="119.6" fill="none" stroke="#8e8e8e" stroke-width="1.15"/>
<path d="M753.25 826.2h2 M786.85 826.2h-2 M761.89 766.4v2 M761.89 886v-2 M774.35 766.4v2 M774.35 886v-2 " stroke="#666" stroke-width="1"/>
<path d="M753.25 886.6V883.53H754V882.05H754.74V882.58H755.49V877.93H756.24V879.23H756.98V879.61H757.73V881.12H758.48V882.77H759.22V882.33H759.97V880.36H760.72V876.68H761.46V877.47H762.21V878.96H762.96V879.23H763.7V881.5H764.45V882.12H765.2V881.42H765.94V882.56H766.69V883.08H767.44V881.28H768.18V881.48H768.93V880.63H769.68V878.83H770.42V879.84H771.17V879.37H771.92V881.66H772.66V881.46H773.41V880.33H774.16V877.83H774.9V879.89H775.65V879.72H776.4V879.41H777.14V876.81H777.89V879.33H778.64V878.11H779.38V879.87H780.13V878.77H780.88V878.86H781.62V881.18H782.37V877.62H783.12V879.89H783.86V880.15H784.61V879.65H785.36V878.31H786.1V879.53H786.85V886.6Z" fill="#000"/>
<line x1="881.9" y1="629.2" x2="881.9" y2="752" stroke="#9a9a9a" stroke-width="1.1" stroke-dasharray="1 2.6"/>
<line x1="895.03" y1="629.2" x2="895.03" y2="752" stroke="#9a9a9a" stroke-width="1.1" stroke-dasharray="1 2.6"/>
<rect x="872.8" y="627" width="35.4" height="126" fill="none" stroke="#8e8e8e" stroke-width="1.15"/>
<path d="M872.8 690h2 M908.2 690h-2 M881.9 627v2 M881.9 753v-2 M895.03 627v2 M895.03 753v-2 " stroke="#666" stroke-width="1"/>
<path d="M872.8 753.6V753.6H873.55V753.6H874.31V753.6H875.06V753.6H875.81V753.6H876.57V753.6H877.32V753.6H878.07V753.6H878.83V751.74H879.58V753.6H880.33V753.6H881.09V753.6H881.84V753.6H882.59V753.6H883.34V753.6H884.1V753.6H884.85V753.6H885.6V753.6H886.36V753.6H887.11V753.6H887.86V753.6H888.62V753.6H889.37V753.6H890.12V753.6H890.88V753.6H891.63V753.6H892.38V753.6H893.14V753.6H893.89V753.6H894.64V753.6H895.4V753.6H896.15V753.6H896.9V753.6H897.66V753.6H898.41V753.6H899.16V753.6H899.91V753.6H900.67V753.6H901.42V753.6H902.17V753.6H902.93V753.6H903.68V753.6H904.43V753.6H905.19V753.6H905.94V753.6H906.69V753.6H907.45V753.6H908.2V753.6Z" fill="#000"/>
<line x1="880.5" y1="763.5" x2="880.5" y2="886.3" stroke="#9a9a9a" stroke-width="1.1" stroke-dasharray="1 2.6"/>
<line x1="893.63" y1="763.5" x2="893.63" y2="886.3" stroke="#9a9a9a" stroke-width="1.1" stroke-dasharray="1 2.6"/>
<rect x="871.4" y="761.3" width="35.4" height="126" fill="none" stroke="#8e8e8e" stroke-width="1.15"/>
<path d="M871.4 824.3h2 M906.8 824.3h-2 M880.5 761.3v2 M880.5 887.3v-2 M893.63 761.3v2 M893.63 887.3v-2 " stroke="#666" stroke-width="1"/>
<path d="M871.4 887.9V887.9H872.15V887.9H872.91V887.9H873.66V886.04H874.41V887.9H875.17V887.9H875.92V887.9H876.67V887.9H877.43V887.9H878.18V887.9H878.93V887.9H879.69V887.9H880.44V887.9H881.19V887.9H881.94V887.9H882.7V887.9H883.45V887.9H884.2V887.9H884.96V887.9H885.71V887.9H886.46V887.9H887.22V887.9H887.97V887.9H888.72V886.04H889.48V887.9H890.23V887.9H890.98V887.9H891.74V887.9H892.49V887.9H893.24V887.9H894V887.9H894.75V887.9H895.5V887.9H896.26V887.9H897.01V886.04H897.76V887.9H898.51V887.9H899.27V887.9H900.02V887.9H900.77V887.9H901.53V887.9H902.28V887.9H903.03V887.9H903.79V887.9H904.54V887.9H905.29V887.9H906.05V887.9H906.8V887.9Z" fill="#000"/>
<line x1="928.73" y1="629.2" x2="928.73" y2="752" stroke="#9a9a9a" stroke-width="1.1" stroke-dasharray="1 2.6"/>
<line x1="941.86" y1="629.2" x2="941.86" y2="752" stroke="#9a9a9a" stroke-width="1.1" stroke-dasharray="1 2.6"/>
<rect x="919.63" y="627" width="35.4" height="126" fill="none" stroke="#8e8e8e" stroke-width="1.15"/>
<path d="M919.63 690h2 M955.03 690h-2 M928.73 627v2 M928.73 753v-2 M941.86 627v2 M941.86 753v-2 " stroke="#666" stroke-width="1"/>
<path d="M919.63 753.6V752.73H920.38V751.03H921.14V752.22H921.89V752.59H922.64V752.55H923.4V745.44H924.15V741.66H924.9V739.77H925.66V741.66H926.41V744.85H927.16V742.19H927.92V739.48H928.67V738.38H929.42V741.61H930.17V744.72H930.93V741.64H931.68V745.71H932.43V746.52H933.19V740.63H933.94V745.36H934.69V742.04H935.45V747.39H936.2V745.36H936.95V748.52H937.71V744.61H938.46V743.96H939.21V746.91H939.97V747.87H940.72V749.32H941.47V749.88H942.23V746.12H942.98V749.09H943.73V749.95H944.49V748.74H945.24V750.89H945.99V749.19H946.74V748.77H947.5V750.08H948.25V750.49H949V750.22H949.76V750.47H950.51V751.77H951.26V748.85H952.02V749.96H952.77V751.68H953.52V747.99H954.28V746.68H955.03V753.6Z" fill="#000"/>
<line x1="927.37" y1="763.5" x2="927.37" y2="886.3" stroke="#9a9a9a" stroke-width="1.1" stroke-dasharray="1 2.6"/>
<line x1="940.5" y1="763.5" x2="940.5" y2="886.3" stroke="#9a9a9a" stroke-width="1.1" stroke-dasharray="1 2.6"/>
<rect x="918.27" y="761.3" width="35.4" height="126" fill="none" stroke="#8e8e8e" stroke-width="1.15"/>
<path d="M918.27 824.3h2 M953.67 824.3h-2 M927.37 761.3v2 M927.37 887.3v-2 M940.5 761.3v2 M940.5 887.3v-2 " stroke="#666" stroke-width="1"/>
<path d="M918.27 887.9V882.25H919.02V882.19H919.78V882.9H920.53V883.71H921.28V884.79H922.04V884.29H922.79V883.09H923.54V880.16H924.3V884.27H925.05V882.74H925.8V883.44H926.56V885.74H927.31V884.76H928.06V885.81H928.81V883.92H929.57V884.49H930.32V884.56H931.07V884.27H931.83V883.89H932.58V885.71H933.33V884.57H934.09V883.34H934.84V882.68H935.59V882.16H936.35V883.07H937.1V881.59H937.85V884.53H938.61V880.4H939.36V884.19H940.11V882.5H940.87V883.32H941.62V883.79H942.37V883.06H943.13V880.64H943.88V881.83H944.63V880.78H945.38V879.38H946.14V883.05H946.89V885.45H947.64V883.37H948.4V883.31H949.15V882.25H949.9V883.17H950.66V881.87H951.41V883.01H952.16V884.79H952.92V883.12H953.67V887.9Z" fill="#000"/>
<line x1="975.56" y1="629.2" x2="975.56" y2="752" stroke="#9a9a9a" stroke-width="1.1" stroke-dasharray="1 2.6"/>
<line x1="988.69" y1="629.2" x2="988.69" y2="752" stroke="#9a9a9a" stroke-width="1.1" stroke-dasharray="1 2.6"/>
<rect x="966.46" y="627" width="35.4" height="126" fill="none" stroke="#8e8e8e" stroke-width="1.15"/>
<path d="M966.46 690h2 M1001.86 690h-2 M975.56 627v2 M975.56 753v-2 M988.69 627v2 M988.69 753v-2 " stroke="#666" stroke-width="1"/>
<path d="M966.46 753.6V751.14H967.21V752.28H967.97V751.88H968.72V751.12H969.47V750.4H970.23V740.4H970.98V731.58H971.73V730.32H972.49V732.83H973.24V731.99H973.99V731.82H974.75V737.98H975.5V730.37H976.25V743.15H977V733.14H977.76V738.68H978.51V730.56H979.26V739.83H980.02V739.72H980.77V737.43H981.52V738.82H982.28V739.01H983.03V739.75H983.78V739.23H984.54V740.66H985.29V738.79H986.04V738.71H986.8V745.67H987.55V748.82H988.3V749.43H989.06V747.71H989.81V747.77H990.56V749.45H991.32V748.69H992.07V751.02H992.82V752.31H993.57V750.9H994.33V751.2H995.08V748.62H995.83V751.65H996.59V750.52H997.34V749.47H998.09V748.06H998.85V750.07H999.6V749.94H1000.35V750.03H1001.11V748.83H1001.86V753.6Z" fill="#000"/>
<line x1="974.24" y1="763.5" x2="974.24" y2="886.3" stroke="#9a9a9a" stroke-width="1.1" stroke-dasharray="1 2.6"/>
<line x1="987.37" y1="763.5" x2="987.37" y2="886.3" stroke="#9a9a9a" stroke-width="1.1" stroke-dasharray="1 2.6"/>
<rect x="965.14" y="761.3" width="35.4" height="126" fill="none" stroke="#8e8e8e" stroke-width="1.15"/>
<path d="M965.14 824.3h2 M1000.54 824.3h-2 M974.24 761.3v2 M974.24 887.3v-2 M987.37 761.3v2 M987.37 887.3v-2 " stroke="#666" stroke-width="1"/>
<path d="M965.14 887.9V877.33H965.89V880.25H966.65V876.44H967.4V878.82H968.15V880.1H968.91V882.09H969.66V881.44H970.41V878.78H971.17V881.56H971.92V881.94H972.67V883.7H973.43V878.97H974.18V880.33H974.93V878.84H975.68V879.21H976.44V876.47H977.19V881.21H977.94V880.63H978.7V879.55H979.45V883.55H980.2V883.03H980.96V880.87H981.71V877.53H982.46V878.52H983.22V879.45H983.97V882.29H984.72V883.73H985.48V881.32H986.23V881.33H986.98V882.04H987.74V879.46H988.49V881.49H989.24V882.42H990V882.45H990.75V881.96H991.5V877.71H992.25V882.45H993.01V881.39H993.76V883.88H994.51V880.98H995.27V882.5H996.02V881.68H996.77V882.2H997.53V883.89H998.28V882.98H999.03V884.77H999.79V884.21H1000.54V887.9Z" fill="#000"/>
<line x1="1022.39" y1="629.2" x2="1022.39" y2="752" stroke="#9a9a9a" stroke-width="1.1" stroke-dasharray="1 2.6"/>
<line x1="1035.52" y1="629.2" x2="1035.52" y2="752" stroke="#9a9a9a" stroke-width="1.1" stroke-dasharray="1 2.6"/>
<rect x="1013.29" y="627" width="35.4" height="126" fill="none" stroke="#8e8e8e" stroke-width="1.15"/>
<path d="M1013.29 690h2 M1048.69 690h-2 M1022.39 627v2 M1022.39 753v-2 M1035.52 627v2 M1035.52 753v-2 " stroke="#666" stroke-width="1"/>
<path d="M1013.29 753.6V749.92H1014.04V745.09H1014.8V747.34H1015.55V750.03H1016.3V748.84H1017.06V743.92H1017.81V749.04H1018.56V750.5H1019.32V751.12H1020.07V749.86H1020.82V749.13H1021.58V746.13H1022.33V747.26H1023.08V750.1H1023.83V751.74H1024.59V750.94H1025.34V749.47H1026.09V748.65H1026.85V749.56H1027.6V749.56H1028.35V747.52H1029.11V748.42H1029.86V747.78H1030.61V748.21H1031.37V748.08H1032.12V747.18H1032.87V748.22H1033.63V749.36H1034.38V746.26H1035.13V746.07H1035.89V748.15H1036.64V750.27H1037.39V750.76H1038.15V749.2H1038.9V748.55H1039.65V747.61H1040.4V748.44H1041.16V748.35H1041.91V749.42H1042.66V747.97H1043.42V750.7H1044.17V749.24H1044.92V749.37H1045.68V749.17H1046.43V746.96H1047.18V747.13H1047.94V748.59H1048.69V753.6Z" fill="#000"/>
<line x1="1021.11" y1="763.5" x2="1021.11" y2="886.3" stroke="#9a9a9a" stroke-width="1.1" stroke-dasharray="1 2.6"/>
<line x1="1034.24" y1="763.5" x2="1034.24" y2="886.3" stroke="#9a9a9a" stroke-width="1.1" stroke-dasharray="1 2.6"/>
<rect x="1012.01" y="761.3" width="35.4" height="126" fill="none" stroke="#8e8e8e" stroke-width="1.15"/>
<path d="M1012.01 824.3h2 M1047.41 824.3h-2 M1021.11 761.3v2 M1021.11 887.3v-2 M1034.24 761.3v2 M1034.24 887.3v-2 " stroke="#666" stroke-width="1"/>
<path d="M1012.01 887.9V881.32H1012.76V883.18H1013.52V883.51H1014.27V881.38H1015.02V884.47H1015.78V883.73H1016.53V884.78H1017.28V884.93H1018.04V883.51H1018.79V882.91H1019.54V883.93H1020.3V880.42H1021.05V884.01H1021.8V883.56H1022.55V881.71H1023.31V881.2H1024.06V883.56H1024.81V885.33H1025.57V884.72H1026.32V884.11H1027.07V883.46H1027.83V882.32H1028.58V879.07H1029.33V880.67H1030.09V882.54H1030.84V883.05H1031.59V882.7H1032.35V883.44H1033.1V884.09H1033.85V884.82H1034.61V884.37H1035.36V882.73H1036.11V883.92H1036.87V884.02H1037.62V882.07H1038.37V882.21H1039.12V878.97H1039.88V882.95H1040.63V884.75H1041.38V885.05H1042.14V885.53H1042.89V883.38H1043.64V884.64H1044.4V882.28H1045.15V884.14H1045.9V884.52H1046.66V882.46H1047.41V887.9Z" fill="#000"/>
<line x1="1069.22" y1="629.2" x2="1069.22" y2="752" stroke="#9a9a9a" stroke-width="1.1" stroke-dasharray="1 2.6"/>
<line x1="1082.35" y1="629.2" x2="1082.35" y2="752" stroke="#9a9a9a" stroke-width="1.1" stroke-dasharray="1 2.6"/>
<rect x="1060.12" y="627" width="35.4" height="126" fill="none" stroke="#8e8e8e" stroke-width="1.15"/>
<path d="M1060.12 690h2 M1095.52 690h-2 M1069.22 627v2 M1069.22 753v-2 M1082.35 627v2 M1082.35 753v-2 " stroke="#666" stroke-width="1"/>
<path d="M1060.12 753.6V752.06H1060.87V751.3H1061.63V747.3H1062.38V749.47H1063.13V750.88H1063.89V750.55H1064.64V750.15H1065.39V750.61H1066.15V748.91H1066.9V749.27H1067.65V749.98H1068.41V750.64H1069.16V748.6H1069.91V749.07H1070.66V748.4H1071.42V745.94H1072.17V748.28H1072.92V748.09H1073.68V746.21H1074.43V749.53H1075.18V750.57H1075.94V750.45H1076.69V749.4H1077.44V748.76H1078.2V751.18H1078.95V750.68H1079.7V749.73H1080.46V747.06H1081.21V745.16H1081.96V746.23H1082.72V749.09H1083.47V751.28H1084.22V749.75H1084.98V744.99H1085.73V746.75H1086.48V750.46H1087.23V747.98H1087.99V747.86H1088.74V748.99H1089.49V747.71H1090.25V748.2H1091V746.22H1091.75V747.49H1092.51V750.12H1093.26V750.42H1094.01V747.23H1094.77V749.41H1095.52V753.6Z" fill="#000"/>
<line x1="1067.98" y1="763.5" x2="1067.98" y2="886.3" stroke="#9a9a9a" stroke-width="1.1" stroke-dasharray="1 2.6"/>
<line x1="1081.11" y1="763.5" x2="1081.11" y2="886.3" stroke="#9a9a9a" stroke-width="1.1" stroke-dasharray="1 2.6"/>
<rect x="1058.88" y="761.3" width="35.4" height="126" fill="none" stroke="#8e8e8e" stroke-width="1.15"/>
<path d="M1058.88 824.3h2 M1094.28 824.3h-2 M1067.98 761.3v2 M1067.98 887.3v-2 M1081.11 761.3v2 M1081.11 887.3v-2 " stroke="#666" stroke-width="1"/>
<path d="M1058.88 887.9V884.8H1059.63V884.72H1060.39V881.13H1061.14V882.46H1061.89V881.46H1062.65V882.84H1063.4V883.14H1064.15V883.14H1064.91V881.96H1065.66V882.96H1066.41V884.56H1067.17V884.95H1067.92V883.71H1068.67V880.99H1069.42V883.4H1070.18V883.33H1070.93V884.94H1071.68V881.22H1072.44V883.91H1073.19V881.47H1073.94V881.15H1074.7V875.32H1075.45V882.82H1076.2V883.19H1076.96V884.37H1077.71V884.09H1078.46V882.54H1079.22V882.97H1079.97V882.98H1080.72V880.76H1081.48V883.02H1082.23V882.44H1082.98V883.11H1083.74V882.06H1084.49V880.08H1085.24V883.91H1085.99V884.31H1086.75V878.05H1087.5V880.13H1088.25V882.28H1089.01V883.45H1089.76V885.07H1090.51V881.45H1091.27V881.31H1092.02V881.27H1092.77V881.51H1093.53V879.77H1094.28V887.9Z" fill="#000"/>
<line x1="1116.05" y1="629.2" x2="1116.05" y2="752" stroke="#9a9a9a" stroke-width="1.1" stroke-dasharray="1 2.6"/>
<line x1="1129.18" y1="629.2" x2="1129.18" y2="752" stroke="#9a9a9a" stroke-width="1.1" stroke-dasharray="1 2.6"/>
<rect x="1106.95" y="627" width="35.4" height="126" fill="none" stroke="#8e8e8e" stroke-width="1.15"/>
<path d="M1106.95 690h2 M1142.35 690h-2 M1116.05 627v2 M1116.05 753v-2 M1129.18 627v2 M1129.18 753v-2 " stroke="#666" stroke-width="1"/>
<path d="M1106.95 753.6V748.17H1107.7V749.18H1108.46V747.97H1109.21V750.6H1109.96V747.69H1110.72V748.04H1111.47V750.94H1112.22V749.24H1112.98V747.87H1113.73V751.04H1114.48V748.56H1115.24V749.47H1115.99V750.76H1116.74V748.89H1117.49V749.61H1118.25V751.38H1119V751.28H1119.75V746.52H1120.51V749.9H1121.26V749.25H1122.01V749.98H1122.77V751.01H1123.52V749.22H1124.27V749.86H1125.03V750.19H1125.78V749.71H1126.53V749.51H1127.29V747.45H1128.04V748.77H1128.79V750.87H1129.55V746.67H1130.3V749.62H1131.05V750.96H1131.81V747.63H1132.56V745.59H1133.31V749.44H1134.06V746.75H1134.82V749.24H1135.57V751.12H1136.32V751.59H1137.08V751.77H1137.83V750.14H1138.58V751.16H1139.34V749.84H1140.09V748.31H1140.84V748.04H1141.6V748.98H1142.35V753.6Z" fill="#000"/>
<line x1="1114.85" y1="763.5" x2="1114.85" y2="886.3" stroke="#9a9a9a" stroke-width="1.1" stroke-dasharray="1 2.6"/>
<line x1="1127.98" y1="763.5" x2="1127.98" y2="886.3" stroke="#9a9a9a" stroke-width="1.1" stroke-dasharray="1 2.6"/>
<rect x="1105.75" y="761.3" width="35.4" height="126" fill="none" stroke="#8e8e8e" stroke-width="1.15"/>
<path d="M1105.75 824.3h2 M1141.15 824.3h-2 M1114.85 761.3v2 M1114.85 887.3v-2 M1127.98 761.3v2 M1127.98 887.3v-2 " stroke="#666" stroke-width="1"/>
<path d="M1105.75 887.9V882.48H1106.5V884.5H1107.26V881.36H1108.01V882.59H1108.76V881.95H1109.52V879.72H1110.27V880.75H1111.02V883.46H1111.78V880.21H1112.53V882.62H1113.28V883.42H1114.04V882.65H1114.79V884.05H1115.54V884.26H1116.29V884.07H1117.05V883.11H1117.8V882.72H1118.55V882.62H1119.31V882.66H1120.06V882.55H1120.81V884.8H1121.57V883.7H1122.32V885.31H1123.07V883.57H1123.83V883.64H1124.58V884.55H1125.33V880.49H1126.09V884.88H1126.84V883.41H1127.59V883.28H1128.35V882.88H1129.1V883.75H1129.85V884.63H1130.61V884.84H1131.36V885.39H1132.11V883.78H1132.86V883.12H1133.62V881.73H1134.37V882.59H1135.12V884.73H1135.88V885.44H1136.63V885.99H1137.38V884.35H1138.14V881.05H1138.89V883.79H1139.64V885.9H1140.4V885.86H1141.15V887.9Z" fill="#000"/>
<line x1="1162.88" y1="629.2" x2="1162.88" y2="752" stroke="#9a9a9a" stroke-width="1.1" stroke-dasharray="1 2.6"/>
<line x1="1176.01" y1="629.2" x2="1176.01" y2="752" stroke="#9a9a9a" stroke-width="1.1" stroke-dasharray="1 2.6"/>
<rect x="1153.78" y="627" width="35.4" height="126" fill="none" stroke="#8e8e8e" stroke-width="1.15"/>
<path d="M1153.78 690h2 M1189.18 690h-2 M1162.88 627v2 M1162.88 753v-2 M1176.01 627v2 M1176.01 753v-2 " stroke="#666" stroke-width="1"/>
<path d="M1153.78 753.6V751.17H1154.53V748.45H1155.29V748.7H1156.04V746.56H1156.79V748.34H1157.55V747.86H1158.3V749.36H1159.05V749.72H1159.81V751.02H1160.56V750.75H1161.31V749.87H1162.07V750.15H1162.82V749.23H1163.57V750.73H1164.32V750.32H1165.08V751.21H1165.83V751.41H1166.58V747.79H1167.34V748.94H1168.09V750.9H1168.84V750.17H1169.6V747.46H1170.35V748.48H1171.1V749.09H1171.86V747.84H1172.61V747.27H1173.36V748.83H1174.12V747.75H1174.87V746.03H1175.62V748.48H1176.38V751.02H1177.13V751.22H1177.88V749.35H1178.64V751.86H1179.39V751.24H1180.14V748.34H1180.89V745.3H1181.65V749.07H1182.4V747.47H1183.15V749.81H1183.91V749.05H1184.66V749.18H1185.41V750.8H1186.17V747.11H1186.92V750.43H1187.67V751.56H1188.43V749.84H1189.18V753.6Z" fill="#000"/>
<line x1="1161.72" y1="763.5" x2="1161.72" y2="886.3" stroke="#9a9a9a" stroke-width="1.1" stroke-dasharray="1 2.6"/>
<line x1="1174.85" y1="763.5" x2="1174.85" y2="886.3" stroke="#9a9a9a" stroke-width="1.1" stroke-dasharray="1 2.6"/>
<rect x="1152.62" y="761.3" width="35.4" height="126" fill="none" stroke="#8e8e8e" stroke-width="1.15"/>
<path d="M1152.62 824.3h2 M1188.02 824.3h-2 M1161.72 761.3v2 M1161.72 887.3v-2 M1174.85 761.3v2 M1174.85 887.3v-2 " stroke="#666" stroke-width="1"/>
<path d="M1152.62 887.9V882.84H1153.37V881.45H1154.13V883.29H1154.88V881.54H1155.63V883.63H1156.39V884.57H1157.14V883.15H1157.89V877.84H1158.65V881.21H1159.4V882.48H1160.15V885.18H1160.91V883.03H1161.66V877.19H1162.41V884.39H1163.16V882.64H1163.92V876.04H1164.67V882.64H1165.42V884.8H1166.18V883.2H1166.93V880.37H1167.68V879.5H1168.44V881.48H1169.19V881.71H1169.94V884.87H1170.7V882.73H1171.45V883.18H1172.2V881.49H1172.96V883.47H1173.71V882.1H1174.46V882.72H1175.22V883.63H1175.97V881.77H1176.72V881.5H1177.48V883.24H1178.23V884.24H1178.98V883.09H1179.73V882.2H1180.49V876.09H1181.24V883.44H1181.99V880.24H1182.75V882.81H1183.5V882.25H1184.25V882H1185.01V883.74H1185.76V883.88H1186.51V882.62H1187.27V881.88H1188.02V887.9Z" fill="#000"/>
<line x1="1209.71" y1="629.2" x2="1209.71" y2="752" stroke="#9a9a9a" stroke-width="1.1" stroke-dasharray="1 2.6"/>
<line x1="1222.84" y1="629.2" x2="1222.84" y2="752" stroke="#9a9a9a" stroke-width="1.1" stroke-dasharray="1 2.6"/>
<rect x="1200.61" y="627" width="35.4" height="126" fill="none" stroke="#8e8e8e" stroke-width="1.15"/>
<path d="M1200.61 690h2 M1236.01 690h-2 M1209.71 627v2 M1209.71 753v-2 M1222.84 627v2 M1222.84 753v-2 " stroke="#666" stroke-width="1"/>
<path d="M1200.61 753.6V750.13H1201.36V750.83H1202.12V747.85H1202.87V748.7H1203.62V748.25H1204.38V748.47H1205.13V746.87H1205.88V747.61H1206.64V749.99H1207.39V750.37H1208.14V748.01H1208.9V748.63H1209.65V749.33H1210.4V747.76H1211.15V747.58H1211.91V748.29H1212.66V747.24H1213.41V747.49H1214.17V749.62H1214.92V748.07H1215.67V751.06H1216.43V748.98H1217.18V746.38H1217.93V746.15H1218.69V748.19H1219.44V750.67H1220.19V749.43H1220.95V750.15H1221.7V748.63H1222.45V748.44H1223.21V744.9H1223.96V750.05H1224.71V747.27H1225.47V749.59H1226.22V749.74H1226.97V748.43H1227.72V746.45H1228.48V749.31H1229.23V749.82H1229.98V748.8H1230.74V747.18H1231.49V750.36H1232.24V748.8H1233V745.75H1233.75V748.73H1234.5V747.75H1235.26V746.38H1236.01V753.6Z" fill="#000"/>
<line x1="1208.59" y1="763.5" x2="1208.59" y2="886.3" stroke="#9a9a9a" stroke-width="1.1" stroke-dasharray="1 2.6"/>
<line x1="1221.72" y1="763.5" x2="1221.72" y2="886.3" stroke="#9a9a9a" stroke-width="1.1" stroke-dasharray="1 2.6"/>
<rect x="1199.49" y="761.3" width="35.4" height="126" fill="none" stroke="#8e8e8e" stroke-width="1.15"/>
<path d="M1199.49 824.3h2 M1234.89 824.3h-2 M1208.59 761.3v2 M1208.59 887.3v-2 M1221.72 761.3v2 M1221.72 887.3v-2 " stroke="#666" stroke-width="1"/>
<path d="M1199.49 887.9V885.11H1200.24V885.82H1201V886.14H1201.75V885.59H1202.5V883.17H1203.26V884.6H1204.01V882.86H1204.76V880.28H1205.52V885.26H1206.27V884.79H1207.02V883.08H1207.78V881.66H1208.53V884.1H1209.28V881.71H1210.03V884.26H1210.79V884.24H1211.54V883.62H1212.29V881.58H1213.05V884.2H1213.8V884.5H1214.55V883.24H1215.31V882.27H1216.06V882.29H1216.81V881.92H1217.57V883.55H1218.32V883.9H1219.07V882.32H1219.83V883.61H1220.58V883.86H1221.33V883.3H1222.09V883.68H1222.84V885.33H1223.59V882.24H1224.35V884.57H1225.1V885.45H1225.85V885.88H1226.6V883.57H1227.36V881.73H1228.11V882.63H1228.86V882.93H1229.62V883.6H1230.37V884.39H1231.12V882.66H1231.88V878.02H1232.63V879.8H1233.38V876.52H1234.14V883.61H1234.89V887.9Z" fill="#000"/>
<line x1="1256.54" y1="629.2" x2="1256.54" y2="752" stroke="#9a9a9a" stroke-width="1.1" stroke-dasharray="1 2.6"/>
<line x1="1269.67" y1="629.2" x2="1269.67" y2="752" stroke="#9a9a9a" stroke-width="1.1" stroke-dasharray="1 2.6"/>
<rect x="1247.44" y="627" width="35.4" height="126" fill="none" stroke="#8e8e8e" stroke-width="1.15"/>
<path d="M1247.44 690h2 M1282.84 690h-2 M1256.54 627v2 M1256.54 753v-2 M1269.67 627v2 M1269.67 753v-2 " stroke="#666" stroke-width="1"/>
<path d="M1247.44 753.6V747.92H1248.19V747.88H1248.95V749.72H1249.7V750.77H1250.45V748.2H1251.21V750.08H1251.96V750.59H1252.71V750.33H1253.47V747.7H1254.22V747.59H1254.97V747.74H1255.73V748.77H1256.48V748.68H1257.23V747.83H1257.98V747.98H1258.74V745.41H1259.49V748.59H1260.24V749.28H1261V748.14H1261.75V749.34H1262.5V750.96H1263.26V748.93H1264.01V747.95H1264.76V748.15H1265.52V745.98H1266.27V750.24H1267.02V750.71H1267.78V748.94H1268.53V748.65H1269.28V747.03H1270.04V747.32H1270.79V746.87H1271.54V749.46H1272.3V749.16H1273.05V747.64H1273.8V749.45H1274.55V745.89H1275.31V748.23H1276.06V746.93H1276.81V749.26H1277.57V747.99H1278.32V747.78H1279.07V747.02H1279.83V746.46H1280.58V746.49H1281.33V747.4H1282.09V745.85H1282.84V753.6Z" fill="#000"/>
<line x1="1255.46" y1="763.5" x2="1255.46" y2="886.3" stroke="#9a9a9a" stroke-width="1.1" stroke-dasharray="1 2.6"/>
<line x1="1268.59" y1="763.5" x2="1268.59" y2="886.3" stroke="#9a9a9a" stroke-width="1.1" stroke-dasharray="1 2.6"/>
<rect x="1246.36" y="761.3" width="35.4" height="126" fill="none" stroke="#8e8e8e" stroke-width="1.15"/>
<path d="M1246.36 824.3h2 M1281.76 824.3h-2 M1255.46 761.3v2 M1255.46 887.3v-2 M1268.59 761.3v2 M1268.59 887.3v-2 " stroke="#666" stroke-width="1"/>
<path d="M1246.36 887.9V884.43H1247.11V883.29H1247.87V884.47H1248.62V885.49H1249.37V883.02H1250.13V882.67H1250.88V882.99H1251.63V878.44H1252.39V878.56H1253.14V881.86H1253.89V883.82H1254.65V881.65H1255.4V883.7H1256.15V883.62H1256.9V884.36H1257.66V884.06H1258.41V882.74H1259.16V880.94H1259.92V882.26H1260.67V883.71H1261.42V882.81H1262.18V884.56H1262.93V879.45H1263.68V884.13H1264.44V881.11H1265.19V884.26H1265.94V882.3H1266.7V884.02H1267.45V883.02H1268.2V883.26H1268.96V882.49H1269.71V884.91H1270.46V882.86H1271.22V884.42H1271.97V885.11H1272.72V885.19H1273.47V884.17H1274.23V883.63H1274.98V885H1275.73V882.08H1276.49V883.61H1277.24V884.29H1277.99V885.36H1278.75V882.19H1279.5V879H1280.25V881.92H1281.01V881.22H1281.76V887.9Z" fill="#000"/>
<line x1="1303.37" y1="629.2" x2="1303.37" y2="752" stroke="#9a9a9a" stroke-width="1.1" stroke-dasharray="1 2.6"/>
<line x1="1316.5" y1="629.2" x2="1316.5" y2="752" stroke="#9a9a9a" stroke-width="1.1" stroke-dasharray="1 2.6"/>
<rect x="1294.27" y="627" width="35.4" height="126" fill="none" stroke="#8e8e8e" stroke-width="1.15"/>
<path d="M1294.27 690h2 M1329.67 690h-2 M1303.37 627v2 M1303.37 753v-2 M1316.5 627v2 M1316.5 753v-2 " stroke="#666" stroke-width="1"/>
<path d="M1294.27 753.6V747.05H1295.02V748.15H1295.78V747.42H1296.53V744.68H1297.28V748.13H1298.04V745.92H1298.79V748.93H1299.54V747.18H1300.3V746.65H1301.05V750.28H1301.8V748.54H1302.56V748.27H1303.31V748.22H1304.06V747.69H1304.81V747.39H1305.57V748.38H1306.32V746.9H1307.07V747.84H1307.83V748.57H1308.58V746.77H1309.33V748.13H1310.09V739.34H1310.84V743.41H1311.59V748.3H1312.35V747.69H1313.1V747.66H1313.85V746.6H1314.61V747.31H1315.36V749.81H1316.11V749.74H1316.87V748.71H1317.62V749.83H1318.37V747.01H1319.13V748.39H1319.88V748.95H1320.63V748.54H1321.38V745.8H1322.14V746.44H1322.89V746.99H1323.64V747.47H1324.4V747.5H1325.15V748.64H1325.9V747.19H1326.66V746.12H1327.41V748.79H1328.16V749.65H1328.92V749.13H1329.67V753.6Z" fill="#000"/>
<line x1="1302.33" y1="763.5" x2="1302.33" y2="886.3" stroke="#9a9a9a" stroke-width="1.1" stroke-dasharray="1 2.6"/>
<line x1="1315.46" y1="763.5" x2="1315.46" y2="886.3" stroke="#9a9a9a" stroke-width="1.1" stroke-dasharray="1 2.6"/>
<rect x="1293.23" y="761.3" width="35.4" height="126" fill="none" stroke="#8e8e8e" stroke-width="1.15"/>
<path d="M1293.23 824.3h2 M1328.63 824.3h-2 M1302.33 761.3v2 M1302.33 887.3v-2 M1315.46 761.3v2 M1315.46 887.3v-2 " stroke="#666" stroke-width="1"/>
<path d="M1293.23 887.9V881.15H1293.98V878.25H1294.74V882.54H1295.49V884.44H1296.24V884.27H1297V883.96H1297.75V881.99H1298.5V880.26H1299.26V881.93H1300.01V883.07H1300.76V883.99H1301.52V882.74H1302.27V883.16H1303.02V884.17H1303.77V884H1304.53V883.33H1305.28V880.87H1306.03V876.99H1306.79V883.58H1307.54V880.84H1308.29V877.9H1309.05V882.45H1309.8V883.34H1310.55V882.24H1311.31V882.52H1312.06V883.81H1312.81V882.75H1313.57V879.72H1314.32V881.44H1315.07V882.54H1315.83V883.89H1316.58V882.43H1317.33V882.52H1318.09V883.25H1318.84V884.09H1319.59V883.69H1320.34V883.08H1321.1V878.57H1321.85V884.61H1322.6V882.98H1323.36V879.92H1324.11V878.38H1324.86V881.26H1325.62V880.44H1326.37V881.41H1327.12V883.13H1327.88V881.13H1328.63V887.9Z" fill="#000"/>
<line x1="1350.2" y1="629.2" x2="1350.2" y2="752" stroke="#9a9a9a" stroke-width="1.1" stroke-dasharray="1 2.6"/>
<line x1="1363.33" y1="629.2" x2="1363.33" y2="752" stroke="#9a9a9a" stroke-width="1.1" stroke-dasharray="1 2.6"/>
<rect x="1341.1" y="627" width="35.4" height="126" fill="none" stroke="#8e8e8e" stroke-width="1.15"/>
<path d="M1341.1 690h2 M1376.5 690h-2 M1350.2 627v2 M1350.2 753v-2 M1363.33 627v2 M1363.33 753v-2 " stroke="#666" stroke-width="1"/>
<path d="M1341.1 753.6V749.45H1341.85V749.67H1342.61V747.13H1343.36V743.62H1344.11V748.11H1344.87V748.33H1345.62V750.82H1346.37V748.88H1347.13V743.09H1347.88V745.96H1348.63V748.24H1349.39V747.54H1350.14V744.77H1350.89V748.45H1351.64V744.26H1352.4V748.72H1353.15V746.74H1353.9V748.03H1354.66V747.17H1355.41V747.05H1356.16V748.12H1356.92V749.01H1357.67V747.45H1358.42V748.09H1359.18V748.98H1359.93V748.05H1360.68V747.57H1361.44V746.27H1362.19V744.46H1362.94V747.27H1363.7V747.96H1364.45V746.94H1365.2V746.75H1365.96V743.61H1366.71V745.34H1367.46V744.47H1368.21V743.85H1368.97V746.83H1369.72V745.92H1370.47V750.42H1371.23V751.13H1371.98V748.66H1372.73V746.48H1373.49V746.61H1374.24V741.56H1374.99V741.52H1375.75V743.57H1376.5V753.6Z" fill="#000"/>
<line x1="1349.2" y1="763.5" x2="1349.2" y2="886.3" stroke="#9a9a9a" stroke-width="1.1" stroke-dasharray="1 2.6"/>
<line x1="1362.33" y1="763.5" x2="1362.33" y2="886.3" stroke="#9a9a9a" stroke-width="1.1" stroke-dasharray="1 2.6"/>
<rect x="1340.1" y="761.3" width="35.4" height="126" fill="none" stroke="#8e8e8e" stroke-width="1.15"/>
<path d="M1340.1 824.3h2 M1375.5 824.3h-2 M1349.2 761.3v2 M1349.2 887.3v-2 M1362.33 761.3v2 M1362.33 887.3v-2 " stroke="#666" stroke-width="1"/>
<path d="M1340.1 887.9V884.18H1340.85V884.09H1341.61V882.86H1342.36V882.73H1343.11V883.03H1343.87V883.78H1344.62V883.28H1345.37V853.28H1346.13V869.66H1346.88V878.23H1347.63V872.73H1348.39V874.83H1349.14V878.28H1349.89V874.85H1350.64V872.7H1351.4V875.68H1352.15V874.23H1352.9V878.15H1353.66V878.83H1354.41V877.86H1355.16V875.26H1355.92V880.29H1356.67V884.25H1357.42V884.41H1358.18V883.16H1358.93V884.14H1359.68V883.97H1360.44V884.12H1361.19V881.29H1361.94V885.79H1362.7V885.37H1363.45V884.72H1364.2V884.04H1364.96V882.84H1365.71V878.61H1366.46V884.08H1367.21V884.66H1367.97V886.07H1368.72V884.2H1369.47V882.64H1370.23V881.8H1370.98V883.04H1371.73V884.74H1372.49V883.27H1373.24V884.13H1373.99V885.38H1374.75V885.1H1375.5V887.9Z" fill="#000"/>
<line x1="1397.03" y1="629.2" x2="1397.03" y2="752" stroke="#9a9a9a" stroke-width="1.1" stroke-dasharray="1 2.6"/>
<line x1="1410.16" y1="629.2" x2="1410.16" y2="752" stroke="#9a9a9a" stroke-width="1.1" stroke-dasharray="1 2.6"/>
<rect x="1387.93" y="627" width="35.4" height="126" fill="none" stroke="#8e8e8e" stroke-width="1.15"/>
<path d="M1387.93 690h2 M1423.33 690h-2 M1397.03 627v2 M1397.03 753v-2 M1410.16 627v2 M1410.16 753v-2 " stroke="#666" stroke-width="1"/>
<path d="M1387.93 753.6V748.84H1388.68V749.3H1389.44V745.41H1390.19V750.67H1390.94V751.58H1391.7V748.76H1392.45V748.12H1393.2V750.65H1393.96V750.98H1394.71V749.08H1395.46V748.86H1396.22V747.06H1396.97V748.68H1397.72V748.38H1398.47V749.75H1399.23V751.47H1399.98V749.45H1400.73V750.22H1401.49V750.21H1402.24V742.51H1402.99V746.61H1403.75V745.94H1404.5V748.49H1405.25V749.26H1406.01V749.8H1406.76V749.93H1407.51V748.66H1408.27V750.66H1409.02V749.87H1409.77V750.5H1410.53V747.1H1411.28V751.33H1412.03V750.63H1412.79V747.9H1413.54V749.18H1414.29V750.54H1415.04V748.82H1415.8V749.06H1416.55V751.71H1417.3V751.71H1418.06V748.37H1418.81V749.34H1419.56V750H1420.32V748.91H1421.07V751.16H1421.82V749.05H1422.58V750.27H1423.33V753.6Z" fill="#000"/>
<line x1="1396.07" y1="763.5" x2="1396.07" y2="886.3" stroke="#9a9a9a" stroke-width="1.1" stroke-dasharray="1 2.6"/>
<line x1="1409.2" y1="763.5" x2="1409.2" y2="886.3" stroke="#9a9a9a" stroke-width="1.1" stroke-dasharray="1 2.6"/>
<rect x="1386.97" y="761.3" width="35.4" height="126" fill="none" stroke="#8e8e8e" stroke-width="1.15"/>
<path d="M1386.97 824.3h2 M1422.37 824.3h-2 M1396.07 761.3v2 M1396.07 887.3v-2 M1409.2 761.3v2 M1409.2 887.3v-2 " stroke="#666" stroke-width="1"/>
<path d="M1386.97 887.9V885.46H1387.72V880.73H1388.48V883.04H1389.23V884.57H1389.98V883.21H1390.74V883.48H1391.49V883.45H1392.24V836.9H1393V867.14H1393.75V873.29H1394.5V877.25H1395.26V872.66H1396.01V875.46H1396.76V871.3H1397.51V872.35H1398.27V877.99H1399.02V873.1H1399.77V876.13H1400.53V873.07H1401.28V876.23H1402.03V875.91H1402.79V875.34H1403.54V871.55H1404.29V877.93H1405.05V863.86H1405.8V882.28H1406.55V882.73H1407.31V875.88H1408.06V882.9H1408.81V885.9H1409.57V886H1410.32V885.9H1411.07V884.02H1411.83V885.84H1412.58V885.46H1413.33V885.01H1414.08V885.44H1414.84V882.24H1415.59V883.82H1416.34V882.27H1417.1V881.36H1417.85V878.72H1418.6V880.47H1419.36V882.52H1420.11V882.92H1420.86V885.47H1421.62V885.58H1422.37V887.9Z" fill="#000"/>
<line x1="1443.86" y1="629.2" x2="1443.86" y2="752" stroke="#9a9a9a" stroke-width="1.1" stroke-dasharray="1 2.6"/>
<line x1="1456.99" y1="629.2" x2="1456.99" y2="752" stroke="#9a9a9a" stroke-width="1.1" stroke-dasharray="1 2.6"/>
<rect x="1434.76" y="627" width="35.4" height="126" fill="none" stroke="#8e8e8e" stroke-width="1.15"/>
<path d="M1434.76 690h2 M1470.16 690h-2 M1443.86 627v2 M1443.86 753v-2 M1456.99 627v2 M1456.99 753v-2 " stroke="#666" stroke-width="1"/>
<path d="M1434.76 753.6V750.02H1435.51V749.59H1436.27V748.15H1437.02V747.59H1437.77V748.05H1438.53V747.66H1439.28V749.39H1440.03V750.46H1440.79V748.81H1441.54V749.79H1442.29V749.4H1443.05V750.02H1443.8V748.76H1444.55V748.19H1445.3V748.33H1446.06V747.84H1446.81V749.49H1447.56V748.86H1448.32V749.52H1449.07V749.84H1449.82V748.92H1450.58V748.92H1451.33V748.2H1452.08V749.05H1452.84V747.73H1453.59V750.41H1454.34V748.99H1455.1V750.49H1455.85V747.4H1456.6V746.02H1457.36V748.64H1458.11V746.88H1458.86V748.05H1459.62V750.25H1460.37V748.12H1461.12V747.8H1461.87V749.88H1462.63V749.19H1463.38V748.44H1464.13V750.32H1464.89V747.34H1465.64V743.34H1466.39V747.22H1467.15V749.58H1467.9V748.28H1468.65V748.96H1469.41V747.56H1470.16V753.6Z" fill="#000"/>
<line x1="1442.94" y1="763.5" x2="1442.94" y2="886.3" stroke="#9a9a9a" stroke-width="1.1" stroke-dasharray="1 2.6"/>
<line x1="1456.07" y1="763.5" x2="1456.07" y2="886.3" stroke="#9a9a9a" stroke-width="1.1" stroke-dasharray="1 2.6"/>
<rect x="1433.84" y="761.3" width="35.4" height="126" fill="none" stroke="#8e8e8e" stroke-width="1.15"/>
<path d="M1433.84 824.3h2 M1469.24 824.3h-2 M1442.94 761.3v2 M1442.94 887.3v-2 M1456.07 761.3v2 M1456.07 887.3v-2 " stroke="#666" stroke-width="1"/>
<path d="M1433.84 887.9V884.44H1434.59V882.88H1435.35V882.92H1436.1V879.21H1436.85V881.24H1437.61V879.38H1438.36V873.44H1439.11V883.88H1439.87V882.45H1440.62V880.78H1441.37V881.78H1442.13V881.08H1442.88V882.02H1443.63V882.82H1444.38V884.15H1445.14V880.2H1445.89V881.43H1446.64V883.05H1447.4V884.55H1448.15V883.21H1448.9V880.2H1449.66V882.56H1450.41V881.66H1451.16V878.09H1451.92V882.2H1452.67V882.05H1453.42V883.07H1454.18V884.82H1454.93V882.85H1455.68V881.16H1456.44V881.47H1457.19V882.67H1457.94V881.76H1458.7V880.11H1459.45V884.26H1460.2V884.96H1460.95V883.79H1461.71V882.51H1462.46V884.16H1463.21V881.43H1463.97V880.75H1464.72V882.71H1465.47V881.2H1466.23V880.75H1466.98V883.76H1467.73V879.8H1468.49V881.62H1469.24V887.9Z" fill="#000"/>
<line x1="1490.69" y1="629.2" x2="1490.69" y2="752" stroke="#9a9a9a" stroke-width="1.1" stroke-dasharray="1 2.6"/>
<line x1="1503.82" y1="629.2" x2="1503.82" y2="752" stroke="#9a9a9a" stroke-width="1.1" stroke-dasharray="1 2.6"/>
<rect x="1481.59" y="627" width="35.4" height="126" fill="none" stroke="#8e8e8e" stroke-width="1.15"/>
<path d="M1481.59 690h2 M1516.99 690h-2 M1490.69 627v2 M1490.69 753v-2 M1503.82 627v2 M1503.82 753v-2 " stroke="#666" stroke-width="1"/>
<path d="M1481.59 753.6V747.99H1482.34V748.5H1483.1V748.65H1483.85V747.75H1484.6V750.57H1485.36V749.92H1486.11V748.91H1486.86V747.95H1487.62V749.44H1488.37V748.15H1489.12V749.51H1489.88V751.07H1490.63V751.48H1491.38V750.85H1492.13V748.78H1492.89V747.85H1493.64V748.87H1494.39V748.78H1495.15V749.12H1495.9V751.05H1496.65V747.88H1497.41V744.5H1498.16V744.42H1498.91V750.17H1499.67V751.25H1500.42V750.45H1501.17V750H1501.93V748.56H1502.68V747.42H1503.43V748.04H1504.19V747.43H1504.94V744.35H1505.69V749.5H1506.45V750.4H1507.2V747.35H1507.95V746.34H1508.7V747.38H1509.46V749.17H1510.21V749.38H1510.96V748.26H1511.72V748.11H1512.47V749.92H1513.22V745.86H1513.98V748.58H1514.73V748.53H1515.48V750.26H1516.24V751.16H1516.99V753.6Z" fill="#000"/>
<line x1="1489.81" y1="763.5" x2="1489.81" y2="886.3" stroke="#9a9a9a" stroke-width="1.1" stroke-dasharray="1 2.6"/>
<line x1="1502.94" y1="763.5" x2="1502.94" y2="886.3" stroke="#9a9a9a" stroke-width="1.1" stroke-dasharray="1 2.6"/>
<rect x="1480.71" y="761.3" width="35.4" height="126" fill="none" stroke="#8e8e8e" stroke-width="1.15"/>
<path d="M1480.71 824.3h2 M1516.11 824.3h-2 M1489.81 761.3v2 M1489.81 887.3v-2 M1502.94 761.3v2 M1502.94 887.3v-2 " stroke="#666" stroke-width="1"/>
<path d="M1480.71 887.9V874.48H1481.46V866.63H1482.22V877.8H1482.97V877.95H1483.72V880.16H1484.48V878.2H1485.23V873.27H1485.98V877.48H1486.74V876.35H1487.49V873.45H1488.24V877.98H1489V877.01H1489.75V877.01H1490.5V878.6H1491.25V873.64H1492.01V877.74H1492.76V876.14H1493.51V874.99H1494.27V878.48H1495.02V879.38H1495.77V877.82H1496.53V875.46H1497.28V874.71H1498.03V874.08H1498.79V872.89H1499.54V875.67H1500.29V873.34H1501.05V878.97H1501.8V877.75H1502.55V872.48H1503.31V875.65H1504.06V880.33H1504.81V879.77H1505.57V874.66H1506.32V865.28H1507.07V876.45H1507.82V873.29H1508.58V876.27H1509.33V876.09H1510.08V876.18H1510.84V876.88H1511.59V876.87H1512.34V877.21H1513.1V868.92H1513.85V868.88H1514.6V872.46H1515.36V873.27H1516.11V887.9Z" fill="#000"/>
<line x1="1537.52" y1="629.2" x2="1537.52" y2="752" stroke="#9a9a9a" stroke-width="1.1" stroke-dasharray="1 2.6"/>
<line x1="1550.65" y1="629.2" x2="1550.65" y2="752" stroke="#9a9a9a" stroke-width="1.1" stroke-dasharray="1 2.6"/>
<rect x="1528.42" y="627" width="35.4" height="126" fill="none" stroke="#8e8e8e" stroke-width="1.15"/>
<path d="M1528.42 690h2 M1563.82 690h-2 M1537.52 627v2 M1537.52 753v-2 M1550.65 627v2 M1550.65 753v-2 " stroke="#666" stroke-width="1"/>
<path d="M1528.42 753.6V749.5H1529.17V747.28H1529.93V750.92H1530.68V751.04H1531.43V747.81H1532.19V750.59H1532.94V748.85H1533.69V749.88H1534.45V748.22H1535.2V748.33H1535.95V749.6H1536.71V748.22H1537.46V745.71H1538.21V749.04H1538.96V748.64H1539.72V750.96H1540.47V747.93H1541.22V750.11H1541.98V749.23H1542.73V750.69H1543.48V750.35H1544.24V748.02H1544.99V749.17H1545.74V748.52H1546.5V747.89H1547.25V747.05H1548V748.15H1548.76V747.5H1549.51V748.14H1550.26V751.24H1551.02V750.4H1551.77V750.27H1552.52V751.69H1553.28V750.94H1554.03V749.06H1554.78V749.96H1555.53V749.85H1556.29V748.56H1557.04V745.54H1557.79V748.33H1558.55V747.37H1559.3V748.85H1560.05V750.84H1560.81V748.69H1561.56V744.67H1562.31V749.01H1563.07V750.11H1563.82V753.6Z" fill="#000"/>
<line x1="1536.68" y1="763.5" x2="1536.68" y2="886.3" stroke="#9a9a9a" stroke-width="1.1" stroke-dasharray="1 2.6"/>
<line x1="1549.81" y1="763.5" x2="1549.81" y2="886.3" stroke="#9a9a9a" stroke-width="1.1" stroke-dasharray="1 2.6"/>
<rect x="1527.58" y="761.3" width="35.4" height="126" fill="none" stroke="#8e8e8e" stroke-width="1.15"/>
<path d="M1527.58 824.3h2 M1562.98 824.3h-2 M1536.68 761.3v2 M1536.68 887.3v-2 M1549.81 761.3v2 M1549.81 887.3v-2 " stroke="#666" stroke-width="1"/>
<path d="M1527.58 887.9V883.89H1528.33V881.04H1529.09V878.85H1529.84V884.74H1530.59V885.01H1531.35V882.11H1532.1V884.04H1532.85V884.25H1533.61V884.21H1534.36V882.97H1535.11V883.36H1535.87V883.1H1536.62V882.91H1537.37V882.06H1538.12V883.68H1538.88V881.06H1539.63V882.71H1540.38V882.85H1541.14V882.81H1541.89V885.14H1542.64V884.95H1543.4V885.58H1544.15V883.56H1544.9V883.09H1545.66V883.71H1546.41V884.49H1547.16V885.67H1547.92V884.22H1548.67V884.38H1549.42V884.06H1550.18V882.76H1550.93V883.24H1551.68V880.96H1552.44V878.23H1553.19V881.3H1553.94V884.06H1554.69V884.48H1555.45V883.35H1556.2V884.25H1556.95V885.67H1557.71V884.48H1558.46V884.33H1559.21V883.54H1559.97V884.42H1560.72V883.89H1561.47V882.54H1562.23V880.15H1562.98V887.9Z" fill="#000"/>
<line x1="1584.35" y1="629.2" x2="1584.35" y2="752" stroke="#9a9a9a" stroke-width="1.1" stroke-dasharray="1 2.6"/>
<line x1="1597.48" y1="629.2" x2="1597.48" y2="752" stroke="#9a9a9a" stroke-width="1.1" stroke-dasharray="1 2.6"/>
<rect x="1575.25" y="627" width="35.4" height="126" fill="none" stroke="#8e8e8e" stroke-width="1.15"/>
<path d="M1575.25 690h2 M1610.65 690h-2 M1584.35 627v2 M1584.35 753v-2 M1597.48 627v2 M1597.48 753v-2 " stroke="#666" stroke-width="1"/>
<path d="M1575.25 753.6V747.15H1576V747.09H1576.76V750.31H1577.51V747.08H1578.26V748.27H1579.02V747.39H1579.77V741.39H1580.52V749.18H1581.28V751.14H1582.03V750.35H1582.78V748.57H1583.54V747.99H1584.29V749.65H1585.04V751.12H1585.79V750.66H1586.55V748.6H1587.3V748.58H1588.05V746.02H1588.81V746.47H1589.56V748.13H1590.31V748.45H1591.07V748.53H1591.82V745.79H1592.57V747.65H1593.33V748.34H1594.08V748.58H1594.83V749.02H1595.59V750.97H1596.34V750.44H1597.09V749.72H1597.85V748.04H1598.6V745.34H1599.35V749.05H1600.11V746.27H1600.86V741.37H1601.61V747.26H1602.36V746.69H1603.12V748.7H1603.87V748.73H1604.62V747.89H1605.38V743.15H1606.13V747.46H1606.88V748.78H1607.64V749.36H1608.39V748.5H1609.14V748.79H1609.9V747.7H1610.65V753.6Z" fill="#000"/>
<line x1="1583.55" y1="763.5" x2="1583.55" y2="886.3" stroke="#9a9a9a" stroke-width="1.1" stroke-dasharray="1 2.6"/>
<line x1="1596.68" y1="763.5" x2="1596.68" y2="886.3" stroke="#9a9a9a" stroke-width="1.1" stroke-dasharray="1 2.6"/>
<rect x="1574.45" y="761.3" width="35.4" height="126" fill="none" stroke="#8e8e8e" stroke-width="1.15"/>
<path d="M1574.45 824.3h2 M1609.85 824.3h-2 M1583.55 761.3v2 M1583.55 887.3v-2 M1596.68 761.3v2 M1596.68 887.3v-2 " stroke="#666" stroke-width="1"/>
<path d="M1574.45 887.9V882.67H1575.2V883.34H1575.96V883.53H1576.71V878.8H1577.46V883.97H1578.22V881.33H1578.97V884.63H1579.72V882.67H1580.48V883.18H1581.23V882.51H1581.98V882.49H1582.74V885.74H1583.49V885.65H1584.24V882.37H1584.99V881.25H1585.75V879.78H1586.5V883.07H1587.25V885.28H1588.01V883.07H1588.76V883.28H1589.51V882.89H1590.27V884.41H1591.02V882.81H1591.77V879.05H1592.53V880.71H1593.28V882.49H1594.03V882.47H1594.79V882.26H1595.54V881.34H1596.29V881.65H1597.05V884.02H1597.8V883.05H1598.55V881.92H1599.31V884.38H1600.06V881.62H1600.81V883.8H1601.56V881.63H1602.32V877.89H1603.07V879.01H1603.82V881.88H1604.58V880.35H1605.33V881.14H1606.08V881.24H1606.84V883.31H1607.59V878.79H1608.34V882.24H1609.1V885.49H1609.85V887.9Z" fill="#000"/>
<path d="M101.38 285.4V190.86M108.28 285.4V180.38M115.17 285.4V170.23M122.07 285.4V160.56M128.96 285.4V151.52M135.85 285.4V143.25M142.75 285.4V135.9M149.64 285.4V129.57M156.54 285.4V124.36M163.43 285.4V120.36M170.32 285.4V117.63M177.22 285.4V116.21M184.11 285.4V116.13M191.01 285.4V117.38M197.9 285.4V119.95M204.79 285.4V123.79M211.69 285.4V128.85M218.58 285.4V135.04M225.48 285.4V142.27M232.37 285.4V150.43M239.26 285.4V159.38M246.16 285.4V168.98M253.05 285.4V179.08M259.95 285.4V189.52M266.84 285.4V200.14M273.73 285.4V210.77M280.63 285.4V221.24M287.52 285.4V231.39M294.42 285.4V241.05M301.31 285.4V250.07M308.2 285.4V258.32M315.1 285.4V265.65M321.99 285.4V271.96M328.89 285.4V277.14M335.78 285.4V281.11M342.67 285.4V283.81M349.57 285.4V285.2M356.46 285.4V285.26M363.36 285.4V283.98M370.25 285.4V281.38M377.14 285.4V277.51M384.04 285.4V272.43M390.93 285.4V266.21M397.83 285.4V258.96M404.72 285.4V250.78M411.61 285.4V241.82M418.51 285.4V232.21M425.4 285.4V222.1M432.3 285.4V211.65" stroke="#6c6c6c" stroke-width="1.25" fill="none"/>
<rect x="95" y="108.5" width="344.2" height="176.9" fill="none" stroke="#8c8c8c" stroke-width="1.2"/>
<path d="M164 108.5v3 M164 285.4v-3 M233 108.5v3 M233 285.4v-3 M302 108.5v3 M302 285.4v-3 M371 108.5v3 M371 285.4v-3 M95 116h3 M439.2 116h-3 M95 200.5h3 M439.2 200.5h-3 " stroke="#8c8c8c" stroke-width="1"/>
<line x1="95" y1="285.4" x2="439.2" y2="285.4" stroke="#555" stroke-width="1.6"/>
<polyline points="95,200.7 95.33,200.18 95.67,199.67 96,199.15 96.33,198.64 96.67,198.12 97,197.61 97.33,197.09 97.67,196.58 98,196.06 98.34,195.55 98.67,195.04 99,194.52 99.34,194.01 99.67,193.49 100,192.98 100.34,192.47 100.67,191.95 101,191.44 101.34,190.93 101.67,190.42 102,189.91 102.34,189.4 102.67,188.88 103,188.37 103.34,187.87 103.67,187.36 104.01,186.85 104.34,186.34 104.67,185.83 105.01,185.32 105.34,184.82 105.67,184.31 106.01,183.81 106.34,183.3 106.67,182.8 107.01,182.29 107.34,181.79 107.67,181.29 108.01,180.79 108.34,180.29 108.67,179.79 109.01,179.29 109.34,178.79 109.68,178.29 110.01,177.8 110.34,177.3 110.68,176.81 111.01,176.31 111.34,175.82 111.68,175.33 112.01,174.84 112.34,174.34 112.68,173.86 113.01,173.37 113.34,172.88 113.68,172.39 114.01,171.91 114.34,171.42 114.68,170.94 115.01,170.46 115.35,169.98 115.68,169.5 116.01,169.02 116.35,168.54 116.68,168.07 117.01,167.59 117.35,167.12 117.68,166.65 118.01,166.17 118.35,165.7 118.68,165.24 119.01,164.77 119.35,164.3 119.68,163.84 120.01,163.37 120.35,162.91 120.68,162.45 121.02,161.99 121.35,161.53 121.68,161.08 122.02,160.62 122.35,160.17 122.68,159.72 123.02,159.27 123.35,158.82 123.68,158.37 124.02,157.93 124.35,157.48 124.68,157.04 125.02,156.6 125.35,156.16 125.68,155.72 126.02,155.29 126.35,154.85 126.69,154.42 127.02,153.99 127.35,153.56 127.69,153.13 128.02,152.71 128.35,152.28 128.69,151.86 129.02,151.44 129.35,151.02 129.69,150.61 130.02,150.19 130.35,149.78 130.69,149.37 131.02,148.96 131.35,148.55 131.69,148.15 132.02,147.74 132.36,147.34 132.69,146.94 133.02,146.55 133.36,146.15 133.69,145.76 134.02,145.37 134.36,144.98 134.69,144.59 135.02,144.2 135.36,143.82 135.69,143.44 136.02,143.06 136.36,142.69 136.69,142.31 137.02,141.94 137.36,141.57 137.69,141.2 138.03,140.84 138.36,140.47 138.69,140.11 139.03,139.75 139.36,139.39 139.69,139.04 140.03,138.69 140.36,138.34 140.69,137.99 141.03,137.65 141.36,137.3 141.69,136.96 142.03,136.62 142.36,136.29 142.69,135.95 143.03,135.62 143.36,135.29 143.69,134.97 144.03,134.64 144.36,134.32 144.7,134 145.03,133.69 145.36,133.37 145.7,133.06 146.03,132.75 146.36,132.45 146.7,132.14 147.03,131.84 147.36,131.54 147.7,131.25 148.03,130.95 148.36,130.66 148.7,130.37 149.03,130.09 149.36,129.8 149.7,129.52 150.03,129.25 150.37,128.97 150.7,128.7 151.03,128.43 151.37,128.16 151.7,127.89 152.03,127.63 152.37,127.37 152.7,127.12 153.03,126.86 153.37,126.61 153.7,126.36 154.03,126.12 154.37,125.87 154.7,125.63 155.03,125.4 155.37,125.16 155.7,124.93 156.04,124.7 156.37,124.48 156.7,124.25 157.04,124.03 157.37,123.81 157.7,123.6 158.04,123.39 158.37,123.18 158.7,122.97 159.04,122.77 159.37,122.57 159.7,122.37 160.04,122.18 160.37,121.98 160.7,121.8 161.04,121.61 161.37,121.43 161.71,121.25 162.04,121.07 162.37,120.9 162.71,120.72 163.04,120.56 163.37,120.39 163.71,120.23 164.04,120.07 164.37,119.91 164.71,119.76 165.04,119.61 165.37,119.46 165.71,119.32 166.04,119.18 166.37,119.04 166.71,118.9 167.04,118.77 167.38,118.64 167.71,118.52 168.04,118.39 168.38,118.27 168.71,118.15 169.04,118.04 169.38,117.93 169.71,117.82 170.04,117.72 170.38,117.62 170.71,117.52 171.04,117.42 171.38,117.33 171.71,117.24 172.04,117.15 172.38,117.07 172.71,116.99 173.05,116.91 173.38,116.84 173.71,116.77 174.05,116.7 174.38,116.64 174.71,116.57 175.05,116.52 175.38,116.46 175.71,116.41 176.05,116.36 176.38,116.31 176.71,116.27 177.05,116.23 177.38,116.19 177.71,116.16 178.05,116.13 178.38,116.1 178.72,116.08 179.05,116.06 179.38,116.04 179.72,116.03 180.05,116.02 180.38,116.01 180.72,116 181.05,116 181.38,116 181.72,116.01 182.05,116.01 182.38,116.02 182.72,116.04 183.05,116.05 183.38,116.07 183.72,116.1 184.05,116.12 184.39,116.15 184.72,116.18 185.05,116.22 185.39,116.26 185.72,116.3 186.05,116.35 186.39,116.39 186.72,116.44 187.05,116.5 187.39,116.56 187.72,116.62 188.05,116.68 188.39,116.75 188.72,116.82 189.05,116.89 189.39,116.97 189.72,117.05 190.06,117.13 190.39,117.21 190.72,117.3 191.06,117.39 191.39,117.49 191.72,117.59 192.06,117.69 192.39,117.79 192.72,117.9 193.06,118.01 193.39,118.12 193.72,118.24 194.06,118.36 194.39,118.48 194.72,118.6 195.06,118.73 195.39,118.86 195.73,119 196.06,119.13 196.39,119.27 196.73,119.42 197.06,119.56 197.39,119.71 197.73,119.87 198.06,120.02 198.39,120.18 198.73,120.34 199.06,120.51 199.39,120.67 199.73,120.84 200.06,121.02 200.39,121.19 200.73,121.37 201.06,121.55 201.4,121.74 201.73,121.93 202.06,122.12 202.4,122.31 202.73,122.51 203.06,122.71 203.4,122.91 203.73,123.12 204.06,123.32 204.4,123.54 204.73,123.75 205.06,123.97 205.4,124.19 205.73,124.41 206.06,124.63 206.4,124.86 206.73,125.09 207.07,125.33 207.4,125.56 207.73,125.8 208.07,126.04 208.4,126.29 208.73,126.54 209.07,126.79 209.4,127.04 209.73,127.3 210.07,127.55 210.4,127.82 210.73,128.08 211.07,128.35 211.4,128.62 211.73,128.89 212.07,129.16 212.4,129.44 212.74,129.72 213.07,130 213.4,130.29 213.74,130.57 214.07,130.87 214.4,131.16 214.74,131.45 215.07,131.75 215.4,132.05 215.74,132.36 216.07,132.66 216.4,132.97 216.74,133.28 217.07,133.59 217.4,133.91 217.74,134.23 218.07,134.55 218.41,134.87 218.74,135.2 219.07,135.52 219.41,135.85 219.74,136.19 220.07,136.52 220.41,136.86 220.74,137.2 221.07,137.54 221.41,137.89 221.74,138.23 222.07,138.58 222.41,138.93 222.74,139.29 223.07,139.64 223.41,140 223.74,140.36 224.07,140.73 224.41,141.09 224.74,141.46 225.08,141.83 225.41,142.2 225.74,142.57 226.08,142.95 226.41,143.33 226.74,143.71 227.08,144.09 227.41,144.47 227.74,144.86 228.08,145.25 228.41,145.64 228.74,146.03 229.08,146.43 229.41,146.82 229.74,147.22 230.08,147.62 230.41,148.03 230.75,148.43 231.08,148.84 231.41,149.25 231.75,149.66 232.08,150.07 232.41,150.48 232.75,150.9 233.08,151.32 233.41,151.74 233.75,152.16 234.08,152.58 234.41,153.01 234.75,153.43 235.08,153.86 235.41,154.29 235.75,154.72 236.08,155.16 236.42,155.59 236.75,156.03 237.08,156.47 237.42,156.91 237.75,157.35 238.08,157.79 238.42,158.24 238.75,158.69 239.08,159.13 239.42,159.58 239.75,160.03 240.08,160.49 240.42,160.94 240.75,161.4 241.08,161.85 241.42,162.31 241.75,162.77 242.09,163.24 242.42,163.7 242.75,164.16 243.09,164.63 243.42,165.1 243.75,165.56 244.09,166.03 244.42,166.5 244.75,166.98 245.09,167.45 245.42,167.92 245.75,168.4 246.09,168.88 246.42,169.36 246.75,169.83 247.09,170.32 247.42,170.8 247.76,171.28 248.09,171.76 248.42,172.25 248.76,172.73 249.09,173.22 249.42,173.71 249.76,174.2 250.09,174.69 250.42,175.18 250.76,175.67 251.09,176.16 251.42,176.66 251.76,177.15 252.09,177.65 252.42,178.14 252.76,178.64 253.09,179.14 253.43,179.64 253.76,180.14 254.09,180.64 254.43,181.14 254.76,181.64 255.09,182.14 255.43,182.65 255.76,183.15 256.09,183.65 256.43,184.16 256.76,184.67 257.09,185.17 257.43,185.68 257.76,186.19 258.09,186.69 258.43,187.2 258.76,187.71 259.1,188.22 259.43,188.73 259.76,189.24 260.1,189.75 260.43,190.26 260.76,190.78 261.1,191.29 261.43,191.8 261.76,192.31 262.1,192.83 262.43,193.34 262.76,193.85 263.1,194.37 263.43,194.88 263.76,195.4 264.1,195.91 264.43,196.42 264.77,196.94 265.1,197.45 265.43,197.97 265.77,198.48 266.1,199 266.43,199.51 266.77,200.03 267.1,200.55 267.43,201.06 267.77,201.58 268.1,202.09 268.43,202.61 268.77,203.12 269.1,203.64 269.43,204.15 269.77,204.67 270.1,205.18 270.44,205.7 270.77,206.21 271.1,206.72 271.44,207.24 271.77,207.75 272.1,208.27 272.44,208.78 272.77,209.29 273.1,209.8 273.44,210.32 273.77,210.83 274.1,211.34 274.44,211.85 274.77,212.36 275.1,212.87 275.44,213.38 275.77,213.89 276.11,214.4 276.44,214.91 276.77,215.42 277.11,215.92 277.44,216.43 277.77,216.94 278.11,217.44 278.44,217.95 278.77,218.45 279.11,218.95 279.44,219.46 279.77,219.96 280.11,220.46 280.44,220.96 280.77,221.46 281.11,221.96 281.44,222.46 281.78,222.96 282.11,223.45 282.44,223.95 282.78,224.45 283.11,224.94 283.44,225.43 283.78,225.93 284.11,226.42 284.44,226.91 284.78,227.4 285.11,227.89 285.44,228.37 285.78,228.86 286.11,229.35 286.44,229.83 286.78,230.31 287.11,230.8 287.45,231.28 287.78,231.76 288.11,232.24 288.45,232.71 288.78,233.19 289.11,233.67 289.45,234.14 289.78,234.61 290.11,235.08 290.45,235.56 290.78,236.02 291.11,236.49 291.45,236.96 291.78,237.42 292.11,237.89 292.45,238.35 292.78,238.81 293.12,239.27 293.45,239.73 293.78,240.18 294.12,240.64 294.45,241.09 294.78,241.55 295.12,242 295.45,242.45 295.78,242.89 296.12,243.34 296.45,243.78 296.78,244.23 297.12,244.67 297.45,245.11 297.78,245.55 298.12,245.98 298.45,246.42 298.79,246.85 299.12,247.28 299.45,247.71 299.79,248.14 300.12,248.57 300.45,248.99 300.79,249.41 301.12,249.83 301.45,250.25 301.79,250.67 302.12,251.08 302.45,251.5 302.79,251.91 303.12,252.32 303.45,252.73 303.79,253.13 304.12,253.54 304.46,253.94 304.79,254.34 305.12,254.74 305.46,255.13 305.79,255.52 306.12,255.92 306.46,256.31 306.79,256.69 307.12,257.08 307.46,257.46 307.79,257.84 308.12,258.22 308.46,258.6 308.79,258.98 309.12,259.35 309.46,259.72 309.79,260.09 310.12,260.46 310.46,260.82 310.79,261.18 311.13,261.54 311.46,261.9 311.79,262.25 312.13,262.61 312.46,262.96 312.79,263.31 313.13,263.65 313.46,263.99 313.79,264.34 314.13,264.68 314.46,265.01 314.79,265.35 315.13,265.68 315.46,266.01 315.79,266.33 316.13,266.66 316.46,266.98 316.8,267.3 317.13,267.62 317.46,267.93 317.8,268.24 318.13,268.55 318.46,268.86 318.8,269.17 319.13,269.47 319.46,269.77 319.8,270.06 320.13,270.36 320.46,270.65 320.8,270.94 321.13,271.23 321.46,271.51 321.8,271.79 322.13,272.07 322.47,272.35 322.8,272.62 323.13,272.89 323.47,273.16 323.8,273.43 324.13,273.69 324.47,273.95 324.8,274.21 325.13,274.46 325.47,274.71 325.8,274.96 326.13,275.21 326.47,275.45 326.8,275.69 327.13,275.93 327.47,276.17 327.8,276.4 328.14,276.63 328.47,276.86 328.8,277.08 329.14,277.3 329.47,277.52 329.8,277.74 330.14,277.95 330.47,278.16 330.8,278.37 331.14,278.57 331.47,278.77 331.8,278.97 332.14,279.17 332.47,279.36 332.8,279.55 333.14,279.73 333.47,279.92 333.81,280.1 334.14,280.28 334.47,280.45 334.81,280.62 335.14,280.79 335.47,280.96 335.81,281.12 336.14,281.28 336.47,281.44 336.81,281.59 337.14,281.75 337.47,281.89 337.81,282.04 338.14,282.18 338.47,282.32 338.81,282.46 339.14,282.59 339.48,282.72 339.81,282.85 340.14,282.97 340.48,283.09 340.81,283.21 341.14,283.33 341.48,283.44 341.81,283.55 342.14,283.65 342.48,283.75 342.81,283.85 343.14,283.95 343.48,284.04 343.81,284.13 344.14,284.22 344.48,284.31 344.81,284.39 345.15,284.46 345.48,284.54 345.81,284.61 346.15,284.68 346.48,284.75 346.81,284.81 347.15,284.87 347.48,284.92 347.81,284.98 348.15,285.03 348.48,285.07 348.81,285.12 349.15,285.16 349.48,285.19 349.81,285.23 350.15,285.26 350.48,285.29 350.82,285.31 351.15,285.33 351.48,285.35 351.82,285.37 352.15,285.38 352.48,285.39 352.82,285.4 353.15,285.4 353.48,285.4 353.82,285.4 354.15,285.39 354.48,285.38 354.82,285.37 355.15,285.35 355.48,285.33 355.82,285.31 356.15,285.29 356.49,285.26 356.82,285.23 357.15,285.19 357.49,285.15 357.82,285.11 358.15,285.07 358.49,285.02 358.82,284.97 359.15,284.92 359.49,284.86 359.82,284.8 360.15,284.74 360.49,284.67 360.82,284.6 361.15,284.53 361.49,284.46 361.82,284.38 362.16,284.3 362.49,284.21 362.82,284.13 363.16,284.03 363.49,283.94 363.82,283.84 364.16,283.74 364.49,283.64 364.82,283.54 365.16,283.43 365.49,283.31 365.82,283.2 366.16,283.08 366.49,282.96 366.82,282.83 367.16,282.71 367.49,282.58 367.83,282.44 368.16,282.31 368.49,282.17 368.83,282.02 369.16,281.88 369.49,281.73 369.83,281.58 370.16,281.42 370.49,281.27 370.83,281.11 371.16,280.94 371.49,280.78 371.83,280.61 372.16,280.43 372.49,280.26 372.83,280.08 373.16,279.9 373.5,279.72 373.83,279.53 374.16,279.34 374.5,279.15 374.83,278.95 375.16,278.75 375.5,278.55 375.83,278.35 376.16,278.14 376.5,277.93 376.83,277.71 377.16,277.5 377.5,277.28 377.83,277.06 378.16,276.83 378.5,276.61 378.83,276.38 379.17,276.14 379.5,275.91 379.83,275.67 380.17,275.43 380.5,275.18 380.83,274.94 381.17,274.69 381.5,274.44 381.83,274.18 382.17,273.92 382.5,273.66 382.83,273.4 383.17,273.13 383.5,272.87 383.83,272.59 384.17,272.32 384.5,272.04 384.84,271.76 385.17,271.48 385.5,271.2 385.84,270.91 386.17,270.62 386.5,270.33 386.84,270.04 387.17,269.74 387.5,269.44 387.84,269.14 388.17,268.83 388.5,268.52 388.84,268.21 389.17,267.9 389.5,267.59 389.84,267.27 390.17,266.95 390.51,266.63 390.84,266.3 391.17,265.97 391.51,265.64 391.84,265.31 392.17,264.98 392.51,264.64 392.84,264.3 393.17,263.96 393.51,263.62 393.84,263.27 394.17,262.92 394.51,262.57 394.84,262.22 395.17,261.86 395.51,261.5 395.84,261.15 396.17,260.78 396.51,260.42 396.84,260.05 397.18,259.68 397.51,259.31 397.84,258.94 398.18,258.56 398.51,258.19 398.84,257.81 399.18,257.43 399.51,257.04 399.84,256.66 400.18,256.27 400.51,255.88 400.84,255.49 401.18,255.09 401.51,254.7 401.84,254.3 402.18,253.9 402.51,253.5 402.85,253.09 403.18,252.69 403.51,252.28 403.85,251.87 404.18,251.46 404.51,251.04 404.85,250.63 405.18,250.21 405.51,249.79 405.85,249.37 406.18,248.95 406.51,248.52 406.85,248.1 407.18,247.67 407.51,247.24 407.85,246.81 408.18,246.37 408.52,245.94 408.85,245.5 409.18,245.06 409.52,244.62 409.85,244.18 410.18,243.74 410.52,243.3 410.85,242.85 411.18,242.4 411.52,241.95 411.85,241.5 412.18,241.05 412.52,240.59 412.85,240.14 413.18,239.68 413.52,239.22 413.85,238.76 414.19,238.3 414.52,237.84 414.85,237.38 415.19,236.91 415.52,236.45 415.85,235.98 416.19,235.51 416.52,235.04 416.85,234.57 417.19,234.09 417.52,233.62 417.85,233.14 418.19,232.67 418.52,232.19 418.85,231.71 419.19,231.23 419.52,230.75 419.86,230.27 420.19,229.78 420.52,229.3 420.86,228.81 421.19,228.32 421.52,227.84 421.86,227.35 422.19,226.86 422.52,226.37 422.86,225.88 423.19,225.38 423.52,224.89 423.86,224.4 424.19,223.9 424.52,223.4 424.86,222.91 425.19,222.41 425.53,221.91 425.86,221.41 426.19,220.91 426.53,220.41 426.86,219.91 427.19,219.41 427.53,218.9 427.86,218.4 428.19,217.9 428.53,217.39 428.86,216.89 429.19,216.38 429.53,215.87 429.86,215.37 430.19,214.86 430.53,214.35 430.86,213.84 431.2,213.33 431.53,212.82 431.86,212.31 432.2,211.8 432.53,211.29 432.86,210.78 433.2,210.27 433.53,209.75 433.86,209.24 434.2,208.73 434.53,208.21 434.86,207.7 435.2,207.19 435.53,206.67 435.86,206.16 436.2,205.64 436.53,205.13 436.87,204.62 437.2,204.1 437.53,203.59 437.87,203.07 438.2,202.56 438.53,202.04 438.87,201.52 439.2,201.01" fill="none" stroke="#000" stroke-width="1.7"/>
<path d="M40.48 474.1V332.43M44.46 474.1V328.11M48.44 474.1V388.47M52.42 474.1V457.17M56.4 474.1V470.07M60.38 474.1V415.14M64.36 474.1V343.65M68.34 474.1V322.33M72.32 474.1V371.09M76.3 474.1V444.41M80.28 474.1V473.84M84.26 474.1V431.92M88.24 474.1V357.77M92.22 474.1V320.62M96.2 474.1V355.14M100.18 474.1V429.11M104.16 474.1V473.48M108.14 474.1V446.83M112.12 474.1V374.04M116.1 474.1V323.05M120.08 474.1V341.47M124.06 474.1V412.1M128.04 474.1V469.01M132.02 474.1V459.07M136 474.1V391.57M139.98 474.1V329.51M143.96 474.1V330.82M147.94 474.1V394.29M151.92 474.1V460.66M155.9 474.1V467.98M159.88 474.1V409.41M163.86 474.1V339.64M167.84 474.1V323.78M171.82 474.1V376.65M175.8 474.1V448.89M179.78 474.1V473.06M183.76 474.1V426.61M187.74 474.1V352.89M191.72 474.1V320.72M195.7 474.1V360.13M199.68 474.1V434.33M203.66 474.1V474.06M207.64 474.1V442.23M211.62 474.1V368.55M215.6 474.1V321.8M219.58 474.1V345.63M223.56 474.1V417.78M227.54 474.1V470.91M231.52 474.1V455.42" stroke="#a0a0a0" stroke-width="1" fill="none"/>
<rect x="36.5" y="313.2" width="198.7" height="160.9" fill="none" stroke="#b5b5b5" stroke-width="1"/>
<path d="M76.24 313.2v3 M76.24 474.1v-3 M115.98 313.2v3 M115.98 474.1v-3 M155.72 313.2v3 M155.72 474.1v-3 M195.46 313.2v3 M195.46 474.1v-3 M36.5 321h3 M235.2 321h-3 M36.5 353h3 M235.2 353h-3 M36.5 385h3 M235.2 385h-3 M36.5 417h3 M235.2 417h-3 M36.5 449h3 M235.2 449h-3 " stroke="#b5b5b5" stroke-width="1"/>
<line x1="36.5" y1="474.1" x2="235.2" y2="474.1" stroke="#7a7a7a" stroke-width="1.6"/>
<polyline points="36.5,397.4 36.83,390.92 37.17,384.49 37.5,378.15 37.83,371.94 38.17,365.92 38.5,360.12 38.83,354.59 39.17,349.36 39.5,344.48 39.83,339.97 40.17,335.88 40.5,332.22 40.83,329.02 41.17,326.32 41.5,324.12 41.83,322.44 42.17,321.3 42.5,320.7 42.83,320.64 43.17,321.14 43.5,322.18 43.83,323.75 44.17,325.85 44.5,328.46 44.83,331.56 45.17,335.13 45.5,339.15 45.83,343.58 46.17,348.39 46.5,353.55 46.84,359.03 47.17,364.78 47.5,370.76 47.84,376.93 48.17,383.25 48.5,389.67 48.84,396.14 49.17,402.63 49.5,409.07 49.84,415.43 50.17,421.67 50.5,427.73 50.84,433.57 51.17,439.16 51.5,444.45 51.84,449.4 52.17,453.98 52.5,458.16 52.84,461.91 53.17,465.2 53.5,468 53.84,470.3 54.17,472.08 54.5,473.32 54.84,474.03 55.17,474.19 55.5,473.8 55.84,472.87 56.17,471.4 56.5,469.4 56.84,466.88 57.17,463.88 57.5,460.4 57.84,456.46 58.17,452.11 58.5,447.37 58.84,442.27 59.17,436.85 59.5,431.15 59.84,425.21 60.17,419.08 60.5,412.78 60.84,406.38 61.17,399.91 61.5,393.43 61.84,386.97 62.17,380.59 62.5,374.33 62.84,368.23 63.17,362.34 63.5,356.7 63.84,351.35 64.17,346.33 64.5,341.67 64.84,337.41 65.17,333.58 65.5,330.2 65.84,327.31 66.17,324.91 66.51,323.03 66.84,321.68 67.17,320.87 67.51,320.6 67.84,320.88 68.17,321.71 68.51,323.08 68.84,324.98 69.17,327.39 69.51,330.3 69.84,333.69 70.17,337.54 70.51,341.81 70.84,346.48 71.17,351.51 71.51,356.87 71.84,362.52 72.17,368.42 72.51,374.52 72.84,380.79 73.17,387.17 73.51,393.63 73.84,400.12 74.17,406.58 74.51,412.98 74.84,419.27 75.17,425.4 75.51,431.34 75.84,437.03 76.17,442.44 76.51,447.52 76.84,452.25 77.17,456.59 77.51,460.51 77.84,463.98 78.17,466.97 78.51,469.47 78.84,471.45 79.17,472.9 79.51,473.82 79.84,474.19 80.17,474.02 80.51,473.29 80.84,472.03 81.17,470.23 81.51,467.92 81.84,465.1 82.17,461.8 82.51,458.04 82.84,453.85 83.17,449.25 83.51,444.29 83.84,438.99 84.17,433.39 84.51,427.54 84.84,421.48 85.17,415.24 85.51,408.87 85.84,402.42 86.17,395.94 86.51,389.47 86.84,383.05 87.18,376.74 87.51,370.57 87.84,364.6 88.18,358.85 88.51,353.39 88.84,348.23 89.18,343.43 89.51,339.01 89.84,335.01 90.18,331.46 90.51,328.37 90.84,325.78 91.18,323.69 91.51,322.14 91.84,321.12 92.18,320.64 92.51,320.71 92.84,321.33 93.18,322.48 93.51,324.18 93.84,326.39 94.18,329.12 94.51,332.32 94.84,336 95.18,340.11 95.51,344.63 95.84,349.52 96.18,354.76 96.51,360.3 96.84,366.11 97.18,372.13 97.51,378.34 97.84,384.69 98.18,391.12 98.51,397.6 98.84,404.08 99.18,410.51 99.51,416.85 99.84,423.05 100.18,429.06 100.51,434.85 100.84,440.38 101.18,445.59 101.51,450.47 101.84,454.96 102.18,459.04 102.51,462.69 102.84,465.87 103.18,468.56 103.51,470.74 103.84,472.4 104.18,473.53 104.51,474.11 104.84,474.15 105.18,473.64 105.51,472.58 105.84,470.99 106.18,468.88 106.51,466.25 106.85,463.13 107.18,459.55 107.51,455.52 107.85,451.08 108.18,446.25 108.51,441.08 108.85,435.6 109.18,429.84 109.51,423.85 109.85,417.67 110.18,411.35 110.51,404.93 110.85,398.45 111.18,391.97 111.51,385.53 111.85,379.17 112.18,372.94 112.51,366.89 112.85,361.05 113.18,355.47 113.51,350.19 113.85,345.25 114.18,340.68 114.51,336.51 114.85,332.78 115.18,329.51 115.51,326.72 115.85,324.44 116.18,322.68 116.51,321.45 116.85,320.76 117.18,320.62 117.51,321.02 117.85,321.97 118.18,323.46 118.51,325.47 118.85,328 119.18,331.02 119.51,334.52 119.85,338.46 120.18,342.83 120.51,347.58 120.85,352.69 121.18,358.12 121.51,363.83 121.85,369.77 122.18,375.92 122.51,382.22 122.85,388.62 123.18,395.09 123.51,401.57 123.85,408.03 124.18,414.41 124.51,420.67 124.85,426.76 125.18,432.64 125.51,438.27 125.85,443.61 126.18,448.62 126.52,453.27 126.85,457.51 127.18,461.33 127.52,464.69 127.85,467.58 128.18,469.96 128.52,471.82 128.85,473.16 129.18,473.95 129.52,474.2 129.85,473.9 130.18,473.06 130.52,471.67 130.85,469.76 131.18,467.33 131.52,464.4 131.85,460.99 132.18,457.13 132.52,452.85 132.85,448.17 133.18,443.12 133.52,437.76 133.85,432.1 134.18,426.19 134.52,420.09 134.85,413.81 135.18,407.43 135.52,400.97 135.85,394.48 136.18,388.02 136.52,381.62 136.85,375.34 137.18,369.21 137.52,363.28 137.85,357.6 138.18,352.2 138.52,347.12 138.85,342.4 139.18,338.08 139.52,334.17 139.85,330.72 140.18,327.74 140.52,325.26 140.85,323.3 141.18,321.86 141.52,320.96 141.85,320.61 142.18,320.8 142.52,321.54 142.85,322.82 143.18,324.63 143.52,326.96 143.85,329.8 144.18,333.11 144.52,336.88 144.85,341.09 145.18,345.7 145.52,350.67 145.85,355.98 146.19,361.58 146.52,367.44 146.85,373.52 147.19,379.76 147.52,386.13 147.85,392.58 148.19,399.06 148.52,405.53 148.85,411.95 149.19,418.26 149.52,424.42 149.85,430.39 150.19,436.12 150.52,441.58 150.85,446.72 151.19,451.51 151.52,455.92 151.85,459.9 152.19,463.45 152.52,466.52 152.85,469.1 153.19,471.16 153.52,472.7 153.85,473.71 154.19,474.17 154.52,474.08 154.85,473.45 155.19,472.27 155.52,470.56 155.85,468.33 156.19,465.59 156.52,462.37 156.85,458.68 157.19,454.56 157.52,450.03 157.85,445.12 158.19,439.87 158.52,434.32 158.85,428.51 159.19,422.47 159.52,416.26 159.85,409.91 160.19,403.48 160.52,397 160.85,390.52 161.19,384.09 161.52,377.76 161.85,371.56 162.19,365.55 162.52,359.77 162.85,354.26 163.19,349.05 163.52,344.19 163.85,339.71 164.19,335.63 164.52,332 164.85,328.84 165.19,326.16 165.52,324 165.86,322.35 166.19,321.24 166.52,320.68 166.86,320.66 167.19,321.19 167.52,322.26 167.86,323.87 168.19,326 168.52,328.64 168.86,331.77 169.19,335.37 169.52,339.41 169.86,343.87 170.19,348.7 170.52,353.89 170.86,359.38 171.19,365.15 171.52,371.14 171.86,377.32 172.19,383.65 172.52,390.07 172.86,396.55 173.19,403.03 173.52,409.47 173.86,415.83 174.19,422.05 174.52,428.1 174.86,433.93 175.19,439.5 175.52,444.77 175.86,449.7 176.19,454.26 176.52,458.41 176.86,462.13 177.19,465.38 177.52,468.16 177.86,470.42 178.19,472.17 178.52,473.38 178.86,474.05 179.19,474.18 179.52,473.76 179.86,472.79 180.19,471.29 180.52,469.25 180.86,466.71 181.19,463.67 181.52,460.16 181.86,456.21 182.19,451.83 182.52,447.06 182.86,441.94 183.19,436.51 183.52,430.79 183.86,424.84 184.19,418.69 184.52,412.39 184.86,405.98 185.19,399.51 185.52,393.02 185.86,386.57 186.19,380.2 186.53,373.94 186.86,367.86 187.19,361.98 187.53,356.36 187.86,351.03 188.19,346.03 188.53,341.4 188.86,337.16 189.19,333.36 189.53,330.01 189.86,327.14 190.19,324.78 190.53,322.93 190.86,321.61 191.19,320.83 191.53,320.6 191.86,320.92 192.19,321.78 192.53,323.18 192.86,325.11 193.19,327.56 193.53,330.5 193.86,333.92 194.19,337.79 194.53,342.09 194.86,346.79 195.19,351.84 195.53,357.22 195.86,362.88 196.19,368.79 196.53,374.91 196.86,381.18 197.19,387.57 197.53,394.04 197.86,400.52 198.19,406.98 198.53,413.38 198.86,419.66 199.19,425.78 199.53,431.7 199.86,437.37 200.19,442.76 200.53,447.83 200.86,452.54 201.19,456.85 201.53,460.74 201.86,464.18 202.19,467.14 202.53,469.61 202.86,471.56 203.19,472.98 203.53,473.86 203.86,474.2 204.19,473.99 204.53,473.23 204.86,471.93 205.19,470.1 205.53,467.76 205.86,464.91 206.2,461.58 206.53,457.79 206.86,453.57 207.2,448.95 207.53,443.97 207.86,438.65 208.2,433.04 208.53,427.17 208.86,421.09 209.2,414.84 209.53,408.47 209.86,402.02 210.2,395.54 210.53,389.07 210.86,382.65 211.2,376.35 211.53,370.19 211.86,364.23 212.2,358.5 212.53,353.06 212.86,347.92 213.2,343.15 213.53,338.75 213.86,334.78 214.2,331.25 214.53,328.19 214.86,325.63 215.2,323.58 215.53,322.06 215.86,321.07 216.2,320.63 216.53,320.73 216.86,321.38 217.2,322.57 217.53,324.3 217.86,326.55 218.2,329.3 218.53,332.54 218.86,336.24 219.2,340.38 219.53,344.92 219.86,349.84 220.2,355.1 220.53,360.66 220.86,366.48 221.2,372.52 221.53,378.74 221.86,385.09 222.2,391.53 222.53,398.01 222.86,404.48 223.2,410.91 223.53,417.24 223.86,423.43 224.2,429.43 224.53,435.21 224.86,440.71 225.2,445.91 225.53,450.76 225.87,455.23 226.2,459.29 226.53,462.9 226.87,466.05 227.2,468.71 227.53,470.86 227.87,472.49 228.2,473.58 228.53,474.13 228.87,474.13 229.2,473.59 229.53,472.5 229.87,470.87 230.2,468.73 230.53,466.07 230.87,462.92 231.2,459.31 231.53,455.26 231.87,450.79 232.2,445.94 232.53,440.75 232.87,435.24 233.2,429.47 233.53,423.47 233.87,417.28 234.2,410.95 234.53,404.53 234.87,398.05 235.2,391.57" fill="none" stroke="#4a4a4a" stroke-width="1.3"/>
<path d="M297.9 469.8V349.33M324.8 469.8V345.4M351.7 469.8V396.17M378.6 469.8V454.49M405.5 469.8V466.2M432.4 469.8V420.43" stroke="#8a8a8a" stroke-width="1" fill="none"/>
<rect x="271" y="333.1" width="168.1" height="136.7" fill="none" stroke="#b5b5b5" stroke-width="1"/>
<path d="M338.24 333.1v3 M338.24 469.8v-3 M405.48 333.1v3 M405.48 469.8v-3 M271 339.5h3 M439.1 339.5h-3 M271 365.5h3 M439.1 365.5h-3 M271 391.7h3 M439.1 391.7h-3 M271 417.6h3 M439.1 417.6h-3 M271 444h3 M439.1 444h-3 " stroke="#b5b5b5" stroke-width="1"/>
<line x1="271" y1="469.8" x2="439.1" y2="469.8" stroke="#8c8c8c" stroke-width="1.8"/>
<polyline points="271,404.3 271.33,403.49 271.67,402.68 272,401.87 272.33,401.06 272.67,400.24 273,399.44 273.33,398.63 273.67,397.82 274,397.01 274.34,396.21 274.67,395.4 275,394.6 275.34,393.8 275.67,393 276,392.2 276.34,391.4 276.67,390.61 277,389.81 277.34,389.02 277.67,388.24 278,387.45 278.34,386.67 278.67,385.89 279,385.11 279.34,384.34 279.67,383.57 280.01,382.8 280.34,382.03 280.67,381.27 281.01,380.52 281.34,379.76 281.67,379.01 282.01,378.27 282.34,377.53 282.67,376.79 283.01,376.05 283.34,375.33 283.67,374.6 284.01,373.88 284.34,373.17 284.67,372.46 285.01,371.75 285.34,371.05 285.68,370.35 286.01,369.66 286.34,368.98 286.68,368.3 287.01,367.63 287.34,366.96 287.68,366.3 288.01,365.64 288.34,364.99 288.68,364.35 289.01,363.71 289.34,363.08 289.68,362.45 290.01,361.84 290.34,361.22 290.68,360.62 291.01,360.02 291.35,359.43 291.68,358.84 292.01,358.27 292.35,357.7 292.68,357.13 293.01,356.58 293.35,356.03 293.68,355.49 294.01,354.96 294.35,354.43 294.68,353.91 295.01,353.4 295.35,352.9 295.68,352.41 296.01,351.92 296.35,351.44 296.68,350.97 297.02,350.51 297.35,350.06 297.68,349.61 298.02,349.18 298.35,348.75 298.68,348.33 299.02,347.92 299.35,347.52 299.68,347.13 300.02,346.74 300.35,346.37 300.68,346 301.02,345.65 301.35,345.3 301.68,344.96 302.02,344.63 302.35,344.31 302.69,344 303.02,343.7 303.35,343.41 303.69,343.13 304.02,342.85 304.35,342.59 304.69,342.34 305.02,342.09 305.35,341.86 305.69,341.63 306.02,341.42 306.35,341.21 306.69,341.02 307.02,340.83 307.35,340.66 307.69,340.49 308.02,340.33 308.36,340.19 308.69,340.05 309.02,339.93 309.36,339.81 309.69,339.71 310.02,339.61 310.36,339.52 310.69,339.45 311.02,339.38 311.36,339.33 311.69,339.28 312.02,339.25 312.36,339.22 312.69,339.21 313.02,339.2 313.36,339.21 313.69,339.22 314.03,339.25 314.36,339.28 314.69,339.33 315.03,339.38 315.36,339.45 315.69,339.52 316.03,339.61 316.36,339.71 316.69,339.81 317.03,339.93 317.36,340.05 317.69,340.19 318.03,340.33 318.36,340.49 318.7,340.66 319.03,340.83 319.36,341.02 319.7,341.21 320.03,341.42 320.36,341.63 320.7,341.86 321.03,342.09 321.36,342.34 321.7,342.59 322.03,342.85 322.36,343.13 322.7,343.41 323.03,343.7 323.36,344 323.7,344.31 324.03,344.63 324.37,344.96 324.7,345.3 325.03,345.65 325.37,346 325.7,346.37 326.03,346.74 326.37,347.13 326.7,347.52 327.03,347.92 327.37,348.33 327.7,348.75 328.03,349.18 328.37,349.61 328.7,350.06 329.03,350.51 329.37,350.97 329.7,351.44 330.04,351.92 330.37,352.41 330.7,352.9 331.04,353.4 331.37,353.91 331.7,354.43 332.04,354.96 332.37,355.49 332.7,356.03 333.04,356.58 333.37,357.13 333.7,357.7 334.04,358.27 334.37,358.84 334.7,359.43 335.04,360.02 335.37,360.62 335.71,361.22 336.04,361.84 336.37,362.45 336.71,363.08 337.04,363.71 337.37,364.35 337.71,364.99 338.04,365.64 338.37,366.3 338.71,366.96 339.04,367.63 339.37,368.3 339.71,368.98 340.04,369.66 340.37,370.35 340.71,371.05 341.04,371.75 341.38,372.46 341.71,373.17 342.04,373.88 342.38,374.6 342.71,375.33 343.04,376.05 343.38,376.79 343.71,377.53 344.04,378.27 344.38,379.01 344.71,379.76 345.04,380.52 345.38,381.27 345.71,382.03 346.04,382.8 346.38,383.57 346.71,384.34 347.05,385.11 347.38,385.89 347.71,386.67 348.05,387.45 348.38,388.24 348.71,389.02 349.05,389.81 349.38,390.61 349.71,391.4 350.05,392.2 350.38,393 350.71,393.8 351.05,394.6 351.38,395.4 351.71,396.21 352.05,397.01 352.38,397.82 352.72,398.63 353.05,399.44 353.38,400.24 353.72,401.06 354.05,401.87 354.38,402.68 354.72,403.49 355.05,404.3 355.38,405.11 355.72,405.92 356.05,406.73 356.38,407.54 356.72,408.36 357.05,409.16 357.38,409.97 357.72,410.78 358.05,411.59 358.39,412.39 358.72,413.2 359.05,414 359.39,414.8 359.72,415.6 360.05,416.4 360.39,417.2 360.72,417.99 361.05,418.79 361.39,419.58 361.72,420.36 362.05,421.15 362.39,421.93 362.72,422.71 363.05,423.49 363.39,424.26 363.72,425.03 364.06,425.8 364.39,426.57 364.72,427.33 365.06,428.08 365.39,428.84 365.72,429.59 366.06,430.33 366.39,431.07 366.72,431.81 367.06,432.55 367.39,433.27 367.72,434 368.06,434.72 368.39,435.43 368.72,436.14 369.06,436.85 369.39,437.55 369.73,438.25 370.06,438.94 370.39,439.62 370.73,440.3 371.06,440.97 371.39,441.64 371.73,442.3 372.06,442.96 372.39,443.61 372.73,444.25 373.06,444.89 373.39,445.52 373.73,446.15 374.06,446.76 374.39,447.38 374.73,447.98 375.06,448.58 375.4,449.17 375.73,449.76 376.06,450.33 376.4,450.9 376.73,451.47 377.06,452.02 377.4,452.57 377.73,453.11 378.06,453.64 378.4,454.17 378.73,454.69 379.06,455.2 379.4,455.7 379.73,456.19 380.06,456.68 380.4,457.16 380.73,457.63 381.07,458.09 381.4,458.54 381.73,458.99 382.07,459.42 382.4,459.85 382.73,460.27 383.07,460.68 383.4,461.08 383.73,461.47 384.07,461.86 384.4,462.23 384.73,462.6 385.07,462.95 385.4,463.3 385.73,463.64 386.07,463.97 386.4,464.29 386.74,464.6 387.07,464.9 387.4,465.19 387.74,465.47 388.07,465.75 388.4,466.01 388.74,466.26 389.07,466.51 389.4,466.74 389.74,466.97 390.07,467.18 390.4,467.39 390.74,467.58 391.07,467.77 391.4,467.94 391.74,468.11 392.07,468.27 392.41,468.41 392.74,468.55 393.07,468.67 393.41,468.79 393.74,468.89 394.07,468.99 394.41,469.08 394.74,469.15 395.07,469.22 395.41,469.27 395.74,469.32 396.07,469.35 396.41,469.38 396.74,469.39 397.08,469.4 397.41,469.39 397.74,469.38 398.08,469.35 398.41,469.32 398.74,469.27 399.08,469.22 399.41,469.15 399.74,469.08 400.08,468.99 400.41,468.89 400.74,468.79 401.08,468.67 401.41,468.55 401.74,468.41 402.08,468.27 402.41,468.11 402.75,467.94 403.08,467.77 403.41,467.58 403.75,467.39 404.08,467.18 404.41,466.97 404.75,466.74 405.08,466.51 405.41,466.26 405.75,466.01 406.08,465.75 406.41,465.47 406.75,465.19 407.08,464.9 407.41,464.6 407.75,464.29 408.08,463.97 408.42,463.64 408.75,463.3 409.08,462.95 409.42,462.6 409.75,462.23 410.08,461.86 410.42,461.47 410.75,461.08 411.08,460.68 411.42,460.27 411.75,459.85 412.08,459.42 412.42,458.99 412.75,458.54 413.08,458.09 413.42,457.63 413.75,457.16 414.09,456.68 414.42,456.19 414.75,455.7 415.09,455.2 415.42,454.69 415.75,454.17 416.09,453.64 416.42,453.11 416.75,452.57 417.09,452.02 417.42,451.47 417.75,450.9 418.09,450.33 418.42,449.76 418.75,449.17 419.09,448.58 419.42,447.98 419.76,447.38 420.09,446.76 420.42,446.15 420.76,445.52 421.09,444.89 421.42,444.25 421.76,443.61 422.09,442.96 422.42,442.3 422.76,441.64 423.09,440.97 423.42,440.3 423.76,439.62 424.09,438.94 424.42,438.25 424.76,437.55 425.09,436.85 425.43,436.14 425.76,435.43 426.09,434.72 426.43,434 426.76,433.27 427.09,432.55 427.43,431.81 427.76,431.07 428.09,430.33 428.43,429.59 428.76,428.84 429.09,428.08 429.43,427.33 429.76,426.57 430.09,425.8 430.43,425.03 430.76,424.26 431.1,423.49 431.43,422.71 431.76,421.93 432.1,421.15 432.43,420.36 432.76,419.58 433.1,418.79 433.43,417.99 433.76,417.2 434.1,416.4 434.43,415.6 434.76,414.8 435.1,414 435.43,413.2 435.76,412.39 436.1,411.59 436.43,410.78 436.77,409.97 437.1,409.16 437.43,408.36 437.77,407.54 438.1,406.73 438.43,405.92 438.77,405.11 439.1,404.3" fill="none" stroke="#3a3a3a" stroke-width="1.3"/>
<rect x="36.6" y="313.4" width="25.9" height="160.6" fill="none" stroke="#6e6e6e" stroke-width="1.6"/>
<path d="M36.1 476.8V485.6H61.8V476.8M48.5 485.6V506.6H355.9V481" fill="none" stroke="#000" stroke-width="2.6" stroke-linejoin="miter"/>
<path d="M350.6 484.4L355.9 475.3L361.2 484.4Z" fill="#000"/>
<line x1="442.1" y1="151.9" x2="561" y2="151.9" stroke="#b4b4b4" stroke-width="2.5" stroke-dasharray="23.7 9.4 2.7 9.6 2.6 9.8"/>
<path d="M561.2 145.9L573.2 151.9L561.2 157.9Z" fill="#b4b4b4"/>
<line x1="442.1" y1="371.2" x2="561" y2="371.2" stroke="#b4b4b4" stroke-width="2.5" stroke-dasharray="23.7 9.4 2.7 9.6 2.6 9.8"/>
<path d="M561.2 365.2L573.2 371.2L561.2 377.2Z" fill="#b4b4b4"/>
<line x1="562.6" y1="47.7" x2="1569.5" y2="47.7" stroke="#000" stroke-width="2.8" stroke-linecap="round"/>
<path d="M1555.6 40.6L1570.2 47.7L1555.6 55.2" fill="none" stroke="#000" stroke-width="2.8" stroke-linecap="round" stroke-linejoin="round"/>
<g font-family="'Liberation Sans', Arial, sans-serif" fill="#000">
<text x="-2.77" y="124.2" font-size="38" font-weight="bold">a</text>
<text x="-1.35" y="336" font-size="38" font-weight="bold">b</text>
<text x="-0.98" y="576.9" font-size="38" font-weight="bold">c</text>
<text x="841.54" y="579.6" font-size="38" font-weight="bold">d</text>
<text x="959.82" y="20.9" font-size="29.5" textLength="228.3" lengthAdjust="spacingAndGlyphs">Umbo stimulation</text>
<text x="268.17" y="580.6" font-size="29.5" textLength="343.75" lengthAdjust="spacingAndGlyphs">Round window stimulation</text>
<text x="1092.8" y="577.2" font-size="29.5" textLength="312.52" lengthAdjust="spacingAndGlyphs">Otic capsule stimulation</text>
<text x="576.24" y="86.8" font-size="27.7" textLength="42.79" lengthAdjust="spacingAndGlyphs">Ref</text>
<text x="662.76" y="86.8" font-size="27.7" textLength="37.18" lengthAdjust="spacingAndGlyphs">1.0</text>
<text x="725.88" y="86.8" font-size="27.7" textLength="38.64" lengthAdjust="spacingAndGlyphs">1.3</text>
<text x="788.59" y="86.8" font-size="27.7" textLength="39.01" lengthAdjust="spacingAndGlyphs">2.0</text>
<text x="851.89" y="86.8" font-size="27.7" textLength="39.1" lengthAdjust="spacingAndGlyphs">2.5</text>
<text x="915.04" y="86.8" font-size="27.7" textLength="40.43" lengthAdjust="spacingAndGlyphs">2.8</text>
<text x="979.55" y="86.8" font-size="27.7" textLength="39.15" lengthAdjust="spacingAndGlyphs">4.0</text>
<text x="1043.29" y="86.8" font-size="27.7" textLength="38.7" lengthAdjust="spacingAndGlyphs">5.0</text>
<text x="1106.35" y="86.8" font-size="27.7" textLength="39.71" lengthAdjust="spacingAndGlyphs">6.3</text>
<text x="1170.14" y="86.8" font-size="27.7" textLength="36.75" lengthAdjust="spacingAndGlyphs">7.1</text>
<text x="1234.29" y="86.8" font-size="27.7" textLength="38.8" lengthAdjust="spacingAndGlyphs">8.0</text>
<text x="1297.89" y="86.8" font-size="27.7" textLength="38.91" lengthAdjust="spacingAndGlyphs">9.0</text>
<text x="1350.61" y="86.8" font-size="27.7" textLength="50.97" lengthAdjust="spacingAndGlyphs">10.1</text>
<text x="1414.91" y="86.8" font-size="27.7" textLength="53.29" lengthAdjust="spacingAndGlyphs">11.3</text>
<text x="1477.91" y="86.8" font-size="27.7" textLength="53.47" lengthAdjust="spacingAndGlyphs">12.7</text>
<text x="1541.95" y="86.8" font-size="27.7" textLength="52.41" lengthAdjust="spacingAndGlyphs">12.7</text>
<text x="83.84" y="610.2" font-size="18.5" textLength="31.53" lengthAdjust="spacingAndGlyphs">Ref</text>
<text x="145.32" y="610.2" font-size="18.5" textLength="27.04" lengthAdjust="spacingAndGlyphs">1.0</text>
<text x="190" y="610.2" font-size="18.5" textLength="27.36" lengthAdjust="spacingAndGlyphs">1.3</text>
<text x="234.41" y="610.2" font-size="18.5" textLength="27.36" lengthAdjust="spacingAndGlyphs">2.0</text>
<text x="279" y="610.2" font-size="18.5" textLength="27.63" lengthAdjust="spacingAndGlyphs">2.5</text>
<text x="323.7" y="610.2" font-size="18.5" textLength="27.67" lengthAdjust="spacingAndGlyphs">2.8</text>
<text x="368.95" y="610.2" font-size="18.5" textLength="27" lengthAdjust="spacingAndGlyphs">4.0</text>
<text x="414" y="610.2" font-size="18.5" textLength="27.78" lengthAdjust="spacingAndGlyphs">5.0</text>
<text x="458.39" y="610.2" font-size="18.5" textLength="27.58" lengthAdjust="spacingAndGlyphs">6.3</text>
<text x="503.45" y="610.2" font-size="18.5" textLength="25.86" lengthAdjust="spacingAndGlyphs">7.1</text>
<text x="548.15" y="610.2" font-size="18.5" textLength="27.32" lengthAdjust="spacingAndGlyphs">8.0</text>
<text x="593.09" y="610.2" font-size="18.5" textLength="27.07" lengthAdjust="spacingAndGlyphs">9.0</text>
<text x="630.8" y="610.2" font-size="18.5" textLength="35.69" lengthAdjust="spacingAndGlyphs">10.1</text>
<text x="675.45" y="610.2" font-size="18.5" textLength="36.98" lengthAdjust="spacingAndGlyphs">11.3</text>
<text x="719.54" y="610.2" font-size="18.5" textLength="37.22" lengthAdjust="spacingAndGlyphs">12.7</text>
<text x="764.21" y="610.2" font-size="18.5" textLength="37.97" lengthAdjust="spacingAndGlyphs">12.7</text>
<text x="873.19" y="610.9" font-size="18.5" textLength="32.38" lengthAdjust="spacingAndGlyphs">Ref</text>
<text x="936.95" y="610.9" font-size="18.5" textLength="28.35" lengthAdjust="spacingAndGlyphs">1.0</text>
<text x="983.42" y="610.9" font-size="18.5" textLength="28.79" lengthAdjust="spacingAndGlyphs">1.3</text>
<text x="1030.27" y="610.9" font-size="18.5" textLength="28.53" lengthAdjust="spacingAndGlyphs">2.0</text>
<text x="1077.17" y="610.9" font-size="18.5" textLength="28.6" lengthAdjust="spacingAndGlyphs">2.5</text>
<text x="1123.96" y="610.9" font-size="18.5" textLength="28.63" lengthAdjust="spacingAndGlyphs">2.8</text>
<text x="1171.34" y="610.9" font-size="18.5" textLength="27.95" lengthAdjust="spacingAndGlyphs">4.0</text>
<text x="1217.56" y="610.9" font-size="18.5" textLength="29.27" lengthAdjust="spacingAndGlyphs">5.0</text>
<text x="1264.64" y="610.9" font-size="18.5" textLength="29.08" lengthAdjust="spacingAndGlyphs">6.3</text>
<text x="1311.26" y="610.9" font-size="18.5" textLength="28.23" lengthAdjust="spacingAndGlyphs">7.1</text>
<text x="1358.7" y="610.9" font-size="18.5" textLength="28.7" lengthAdjust="spacingAndGlyphs">8.0</text>
<text x="1405.44" y="610.9" font-size="18.5" textLength="28.57" lengthAdjust="spacingAndGlyphs">9.0</text>
<text x="1444.07" y="610.9" font-size="18.5" textLength="39.01" lengthAdjust="spacingAndGlyphs">10.1</text>
<text x="1491.17" y="610.9" font-size="18.5" textLength="39.22" lengthAdjust="spacingAndGlyphs">11.3</text>
<text x="1537.97" y="610.9" font-size="18.5" textLength="39.04" lengthAdjust="spacingAndGlyphs">12.7</text>
<text x="1584.77" y="610.9" font-size="18.5" textLength="39.04" lengthAdjust="spacingAndGlyphs">12.7</text>
<text x="525.09" y="120.2" font-size="27.5">100</text>
<text x="540.29" y="205.5" font-size="27.5">50</text>
<text x="555.38" y="291.1" font-size="27.5">0</text>
<text x="48.01" y="633.8" font-size="20">100</text>
<text x="59.14" y="693.7" font-size="20">50</text>
<text x="70.26" y="754.2" font-size="20">0</text>
<text x="836.41" y="635.4" font-size="20">100</text>
<text x="847.54" y="698.3" font-size="20">50</text>
<text x="858.66" y="761.2" font-size="20">0</text>
<text transform="rotate(-90)" x="-309.02" y="514.4" font-size="27.8" textLength="233.32" lengthAdjust="spacingAndGlyphs">Total Spikes Count</text>
<text transform="rotate(-90)" x="-766.94" y="41.6" font-size="20" textLength="163.98" lengthAdjust="spacingAndGlyphs">Total Spikes Count</text>
<text transform="rotate(-90)" x="-773.15" y="829.4" font-size="20" textLength="170.4" lengthAdjust="spacingAndGlyphs">Total Spikes Count</text>
<text x="350.92" y="136.3" font-size="28" textLength="76.68" lengthAdjust="spacingAndGlyphs">1 kHz</text>
<text x="354.6" y="363" font-size="28" textLength="76.7" lengthAdjust="spacingAndGlyphs">8 kHz</text>
<rect x="84.2" y="625.5" width="96.3" height="45.2" fill="#fff" stroke="#9a9a9a" stroke-width="1.3"/>
<text x="98.84" y="657.2" font-size="24.5" textLength="65.85" lengthAdjust="spacingAndGlyphs">1 kHz</text>
<rect x="83.7" y="766" width="96.3" height="45.5" fill="#fff" stroke="#9a9a9a" stroke-width="1.3"/>
<text x="98.47" y="798.5" font-size="24.5" textLength="66.22" lengthAdjust="spacingAndGlyphs">8 kHz</text>
<rect x="872.7" y="626.9" width="96.3" height="45.5" fill="#fff" stroke="#9a9a9a" stroke-width="1.3"/>
<text x="887.65" y="658.8" font-size="24.5" textLength="65.53" lengthAdjust="spacingAndGlyphs">1 kHz</text>
<rect x="871.4" y="761.4" width="96.3" height="45.5" fill="#fff" stroke="#9a9a9a" stroke-width="1.3"/>
<text x="885.77" y="793.3" font-size="24.5" textLength="66.63" lengthAdjust="spacingAndGlyphs">8 kHz</text>
<clipPath id="cl1"><rect x="90.6" y="180" width="4.4" height="120"/></clipPath>
<g clip-path="url(#cl1)"><text x="93.6" y="206.2" font-size="15.5" text-anchor="end">5</text><text x="93.6" y="290.4" font-size="15.5" text-anchor="end">0</text></g>
<text x="1556.19" y="910.8" font-size="20" font-weight="bold" textLength="30.07" lengthAdjust="spacingAndGlyphs">-20</text>
<text x="1602.28" y="910.8" font-size="20" font-weight="bold" textLength="34.57" lengthAdjust="spacingAndGlyphs">250</text>
<text x="1527.38" y="937.4" font-size="18.5" textLength="117.39" lengthAdjust="spacingAndGlyphs">Time Bin (ms)</text>
</g></svg>
</body></html>
